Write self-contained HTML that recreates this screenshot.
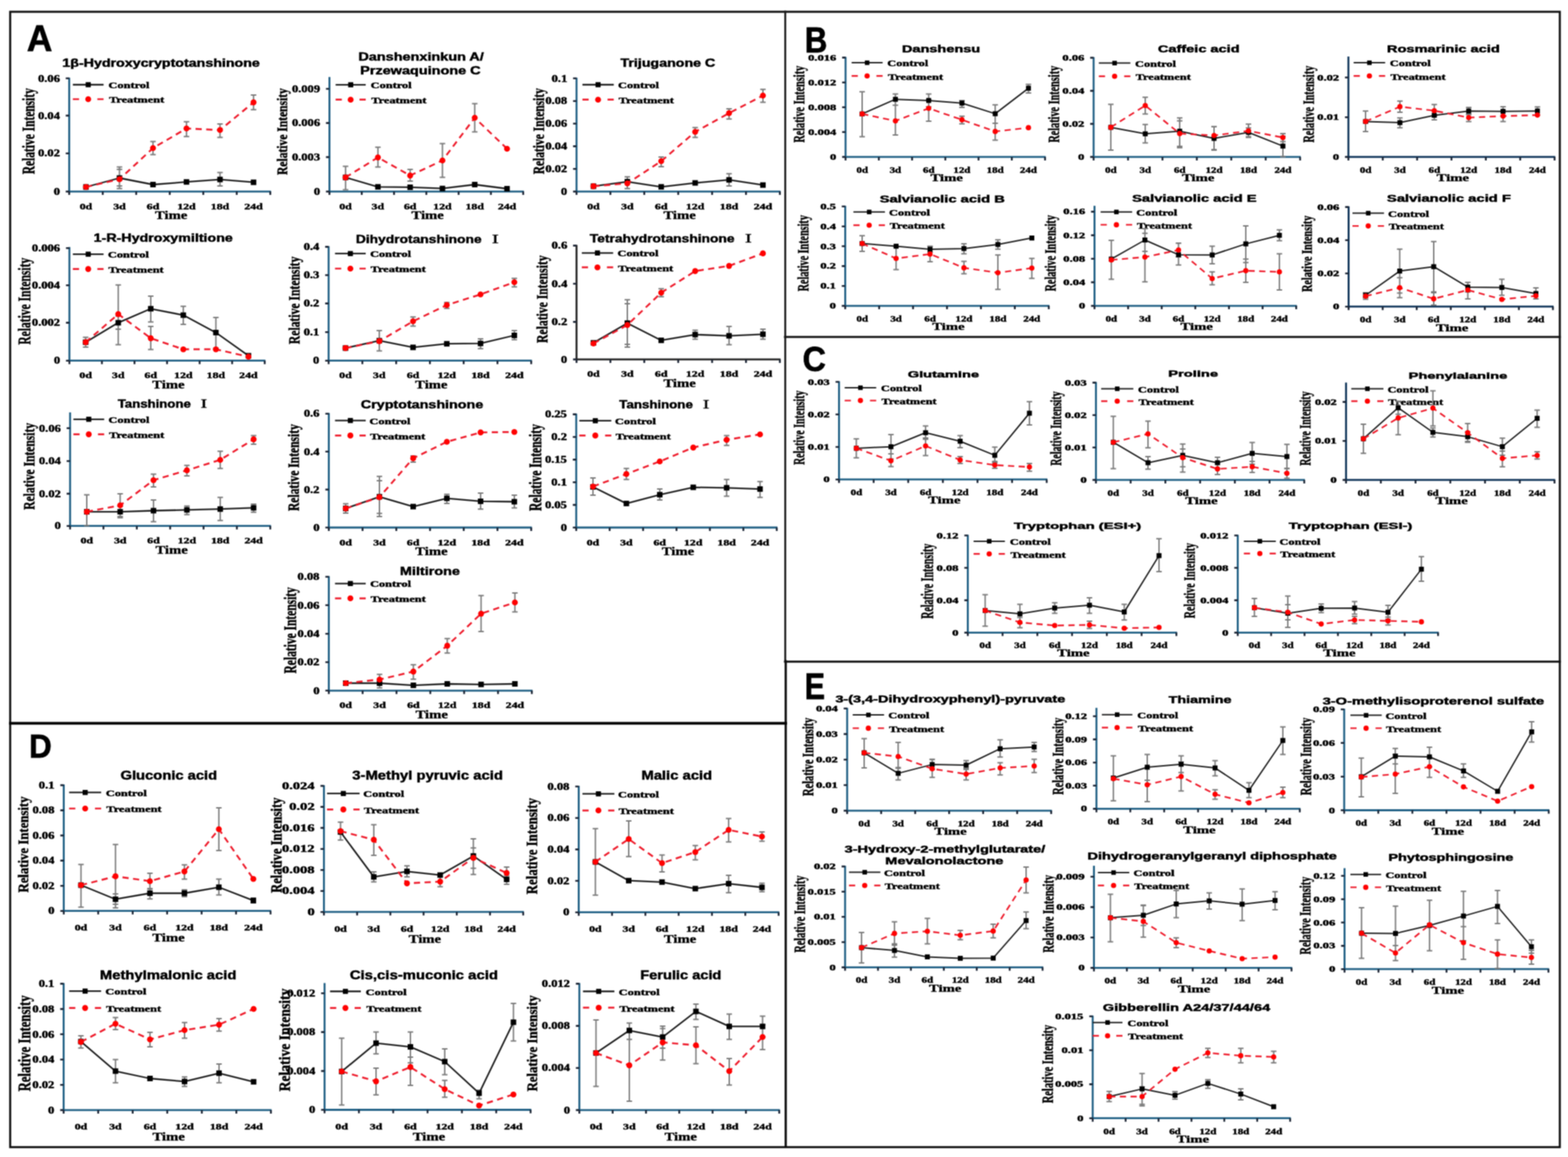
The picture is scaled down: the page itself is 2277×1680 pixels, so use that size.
<!DOCTYPE html>
<html><head><meta charset="utf-8"><title>Metabolite time courses</title><style>html,body{margin:0;padding:0;background:#fff;}svg{display:block;}</style></head><body>
<svg width="2277" height="1680" viewBox="0 0 2277 1680">
<defs><filter id="soft" x="0" y="0" width="1" height="1" color-interpolation-filters="sRGB"><feConvolveMatrix order="3" kernelMatrix="1 2 1 2 4 2 1 2 1" divisor="16" edgeMode="duplicate"/></filter></defs>
<g filter="url(#soft)">
<rect width="2277" height="1680" fill="#fff"/>
<g fill="none" stroke-linecap="square">
<rect x="14.8" y="17.1" width="2250.3" height="1648.6" stroke="#111" stroke-width="3"/>
<line x1="1140.3" y1="17" x2="1140.3" y2="960" stroke="#1a1a1a" stroke-width="2.8"/>
<line x1="1141" y1="960" x2="1141" y2="1665" stroke="#0a0a0a" stroke-width="3.2"/>
<line x1="15" y1="1050.3" x2="1141" y2="1050.3" stroke="#050505" stroke-width="4"/>
<line x1="1140" y1="489.3" x2="2265" y2="489.3" stroke="#151515" stroke-width="3"/>
<line x1="1140" y1="960.8" x2="2265" y2="960.8" stroke="#101010" stroke-width="3"/>
</g>
<text x="39.0" y="74.4" font-family='"Liberation Sans", sans-serif' font-size="54.2" font-weight="bold" fill="#000" text-anchor="start" textLength="37.0" lengthAdjust="spacingAndGlyphs" stroke="#000" stroke-width="0.90">A</text>
<text x="1168.8" y="75.9" font-family='"Liberation Sans", sans-serif' font-size="51.4" font-weight="bold" fill="#000" text-anchor="start" textLength="32.6" lengthAdjust="spacingAndGlyphs" stroke="#000" stroke-width="0.90">B</text>
<text x="1165.5" y="538.8" font-family='"Liberation Sans", sans-serif' font-size="50.4" font-weight="bold" fill="#000" text-anchor="start" textLength="33.9" lengthAdjust="spacingAndGlyphs" stroke="#000" stroke-width="0.90">C</text>
<text x="42.3" y="1100.4" font-family='"Liberation Sans", sans-serif' font-size="48.5" font-weight="bold" fill="#000" text-anchor="start" textLength="32.9" lengthAdjust="spacingAndGlyphs" stroke="#000" stroke-width="0.90">D</text>
<text x="1168.6" y="1015.4" font-family='"Liberation Sans", sans-serif' font-size="53.3" font-weight="bold" fill="#000" text-anchor="start" textLength="29.5" lengthAdjust="spacingAndGlyphs" stroke="#000" stroke-width="0.90">E</text>
<g stroke="#1f5f84" stroke-width="2.8" fill="none">
<line x1="100.5" y1="112.8" x2="100.5" y2="279.5"/>
<line x1="99.1" y1="278.1" x2="393.5" y2="278.1"/>
</g>
<path d="M95.5 113.8H100.5M95.5 167.9H100.5M95.5 222.7H100.5M95.5 278.1H100.5M100.5 278.1V283.1M149.2 278.1V283.1M197.8 278.1V283.1M246.5 278.1V283.1M295.2 278.1V283.1M343.8 278.1V283.1M392.5 278.1V283.1" stroke="#1a2333" stroke-width="2.6" fill="none"/>
<text x="55.2" y="118.5" font-family='"Liberation Serif", serif' font-size="14.0" font-weight="bold" fill="#000" text-anchor="start" textLength="31.8" lengthAdjust="spacingAndGlyphs" stroke="#000" stroke-width="0.55">0.06</text>
<text x="55.2" y="172.6" font-family='"Liberation Serif", serif' font-size="14.0" font-weight="bold" fill="#000" text-anchor="start" textLength="31.8" lengthAdjust="spacingAndGlyphs" stroke="#000" stroke-width="0.55">0.04</text>
<text x="55.2" y="227.4" font-family='"Liberation Serif", serif' font-size="14.0" font-weight="bold" fill="#000" text-anchor="start" textLength="31.8" lengthAdjust="spacingAndGlyphs" stroke="#000" stroke-width="0.55">0.02</text>
<text x="77.9" y="282.8" font-family='"Liberation Serif", serif' font-size="14.0" font-weight="bold" fill="#000" text-anchor="start" textLength="9.1" lengthAdjust="spacingAndGlyphs" stroke="#000" stroke-width="0.55">0</text>
<text x="115.7" y="303.6" font-family='"Liberation Serif", serif' font-size="12.5" font-weight="bold" fill="#000" text-anchor="start" textLength="18.2" lengthAdjust="spacingAndGlyphs" stroke="#000" stroke-width="0.50">0d</text>
<text x="164.4" y="303.6" font-family='"Liberation Serif", serif' font-size="12.5" font-weight="bold" fill="#000" text-anchor="start" textLength="18.2" lengthAdjust="spacingAndGlyphs" stroke="#000" stroke-width="0.50">3d</text>
<text x="213.1" y="303.6" font-family='"Liberation Serif", serif' font-size="12.5" font-weight="bold" fill="#000" text-anchor="start" textLength="18.2" lengthAdjust="spacingAndGlyphs" stroke="#000" stroke-width="0.50">6d</text>
<text x="257.4" y="303.6" font-family='"Liberation Serif", serif' font-size="12.5" font-weight="bold" fill="#000" text-anchor="start" textLength="26.8" lengthAdjust="spacingAndGlyphs" stroke="#000" stroke-width="0.50">12d</text>
<text x="306.1" y="303.6" font-family='"Liberation Serif", serif' font-size="12.5" font-weight="bold" fill="#000" text-anchor="start" textLength="26.8" lengthAdjust="spacingAndGlyphs" stroke="#000" stroke-width="0.50">18d</text>
<text x="354.7" y="303.6" font-family='"Liberation Serif", serif' font-size="12.5" font-weight="bold" fill="#000" text-anchor="start" textLength="26.8" lengthAdjust="spacingAndGlyphs" stroke="#000" stroke-width="0.50">24d</text>
<text x="225.0" y="318.1" font-family='"Liberation Serif", serif' font-size="17.0" font-weight="bold" fill="#000" text-anchor="start" textLength="47.0" lengthAdjust="spacingAndGlyphs" stroke="#000" stroke-width="0.45">Time</text>
<text transform="translate(49.8,253.0) rotate(-90)" font-family='"Liberation Serif", serif' font-size="24.3" font-weight="bold" stroke="#000" stroke-width="0.55" textLength="125.0" lengthAdjust="spacingAndGlyphs">Relative Intensity</text>
<text x="90.6" y="96.8" font-family='"Liberation Sans", sans-serif' font-size="16.0" font-weight="bold" fill="#000" text-anchor="start" textLength="286.7" lengthAdjust="spacingAndGlyphs" stroke="#000" stroke-width="0.60">1&#946;-Hydroxycryptotanshinone</text>
<line x1="105.8" y1="123.0" x2="150.4" y2="123.0" stroke="#1c1c1c" stroke-width="2.3"/>
<rect x="124.4" y="119.3" width="7.4" height="7.4" fill="#000"/>
<path d="M105.8 144.0h9.0M141.4 144.0h9.0" stroke="#ee1c2c" stroke-width="2.7" fill="none"/>
<circle cx="128.1" cy="144.0" r="4.3" fill="#ff0000"/>
<text x="157.5" y="128.0" font-family='"Liberation Serif", serif' font-size="13.5" font-weight="bold" fill="#000" text-anchor="start" textLength="59.5" lengthAdjust="spacingAndGlyphs" stroke="#000" stroke-width="0.55">Control</text>
<text x="158.4" y="149.3" font-family='"Liberation Serif", serif' font-size="13.5" font-weight="bold" fill="#000" text-anchor="start" textLength="80.0" lengthAdjust="spacingAndGlyphs" stroke="#000" stroke-width="0.55">Treatment</text>
<path d="M173.5 246.0V270.0M169.5 246.0h8M169.5 270.0h8M319.5 250.4V270.1M315.5 250.4h8M315.5 270.1h8M173.5 242.4V273.7M169.5 242.4h8M169.5 273.7h8M222.2 205.4V224.5M218.2 205.4h8M218.2 224.5h8M270.8 176.7V198.3M266.8 176.7h8M266.8 198.3h8M319.5 179.9V199.5M315.5 179.9h8M315.5 199.5h8M368.2 137.9V159.3M364.2 137.9h8M364.2 159.3h8" stroke="#7a7a7a" stroke-width="2" fill="none"/>
<polyline points="124.8,271.5 173.5,258.5 222.2,268.0 270.8,264.2 319.5,260.6 368.2,264.7" fill="none" stroke="#1c1c1c" stroke-width="2.3" stroke-linejoin="round"/>
<rect x="120.8" y="267.5" width="8.0" height="8.0" fill="#000"/>
<rect x="169.5" y="254.5" width="8.0" height="8.0" fill="#000"/>
<rect x="218.2" y="264.0" width="8.0" height="8.0" fill="#000"/>
<rect x="266.8" y="260.2" width="8.0" height="8.0" fill="#000"/>
<rect x="315.5" y="256.6" width="8.0" height="8.0" fill="#000"/>
<rect x="364.2" y="260.7" width="8.0" height="8.0" fill="#000"/>
<polyline points="124.8,271.5 173.5,260.3 222.2,215.0 270.8,186.5 319.5,188.8 368.2,148.6" fill="none" stroke="#ee1c2c" stroke-width="2.7" stroke-dasharray="9 6.5" stroke-linejoin="round"/>
<circle cx="124.8" cy="271.5" r="4.3" fill="#ff0000"/>
<circle cx="173.5" cy="260.3" r="4.3" fill="#ff0000"/>
<circle cx="222.2" cy="215.0" r="4.3" fill="#ff0000"/>
<circle cx="270.8" cy="186.5" r="4.3" fill="#ff0000"/>
<circle cx="319.5" cy="188.8" r="4.3" fill="#ff0000"/>
<circle cx="368.2" cy="148.6" r="4.3" fill="#ff0000"/>
<g stroke="#1f5f84" stroke-width="2.8" fill="none">
<line x1="478.4" y1="111.8" x2="478.4" y2="279.5"/>
<line x1="477.0" y1="278.1" x2="760.8" y2="278.1"/>
</g>
<path d="M473.4 129.0H478.4M473.4 178.6H478.4M473.4 228.1H478.4M473.4 278.1H478.4M478.4 278.1V283.1M525.3 278.1V283.1M572.2 278.1V283.1M619.1 278.1V283.1M666.0 278.1V283.1M712.9 278.1V283.1M759.8 278.1V283.1" stroke="#1a2333" stroke-width="2.6" fill="none"/>
<text x="423.9" y="133.7" font-family='"Liberation Serif", serif' font-size="14.0" font-weight="bold" fill="#000" text-anchor="start" textLength="40.9" lengthAdjust="spacingAndGlyphs" stroke="#000" stroke-width="0.55">0.009</text>
<text x="423.9" y="183.3" font-family='"Liberation Serif", serif' font-size="14.0" font-weight="bold" fill="#000" text-anchor="start" textLength="40.9" lengthAdjust="spacingAndGlyphs" stroke="#000" stroke-width="0.55">0.006</text>
<text x="423.9" y="232.8" font-family='"Liberation Serif", serif' font-size="14.0" font-weight="bold" fill="#000" text-anchor="start" textLength="40.9" lengthAdjust="spacingAndGlyphs" stroke="#000" stroke-width="0.55">0.003</text>
<text x="455.8" y="282.8" font-family='"Liberation Serif", serif' font-size="14.0" font-weight="bold" fill="#000" text-anchor="start" textLength="9.1" lengthAdjust="spacingAndGlyphs" stroke="#000" stroke-width="0.55">0</text>
<text x="492.7" y="303.6" font-family='"Liberation Serif", serif' font-size="12.5" font-weight="bold" fill="#000" text-anchor="start" textLength="18.2" lengthAdjust="spacingAndGlyphs" stroke="#000" stroke-width="0.50">0d</text>
<text x="539.6" y="303.6" font-family='"Liberation Serif", serif' font-size="12.5" font-weight="bold" fill="#000" text-anchor="start" textLength="18.2" lengthAdjust="spacingAndGlyphs" stroke="#000" stroke-width="0.50">3d</text>
<text x="586.5" y="303.6" font-family='"Liberation Serif", serif' font-size="12.5" font-weight="bold" fill="#000" text-anchor="start" textLength="18.2" lengthAdjust="spacingAndGlyphs" stroke="#000" stroke-width="0.50">6d</text>
<text x="629.1" y="303.6" font-family='"Liberation Serif", serif' font-size="12.5" font-weight="bold" fill="#000" text-anchor="start" textLength="26.8" lengthAdjust="spacingAndGlyphs" stroke="#000" stroke-width="0.50">12d</text>
<text x="676.0" y="303.6" font-family='"Liberation Serif", serif' font-size="12.5" font-weight="bold" fill="#000" text-anchor="start" textLength="26.8" lengthAdjust="spacingAndGlyphs" stroke="#000" stroke-width="0.50">18d</text>
<text x="722.9" y="303.6" font-family='"Liberation Serif", serif' font-size="12.5" font-weight="bold" fill="#000" text-anchor="start" textLength="26.8" lengthAdjust="spacingAndGlyphs" stroke="#000" stroke-width="0.50">24d</text>
<text x="597.6" y="318.1" font-family='"Liberation Serif", serif' font-size="17.0" font-weight="bold" fill="#000" text-anchor="start" textLength="47.0" lengthAdjust="spacingAndGlyphs" stroke="#000" stroke-width="0.45">Time</text>
<text transform="translate(416.7,254.0) rotate(-90)" font-family='"Liberation Serif", serif' font-size="20.9" font-weight="bold" stroke="#000" stroke-width="0.55" textLength="126.0" lengthAdjust="spacingAndGlyphs">Relative Intensity</text>
<text x="520.4" y="87.9" font-family='"Liberation Sans", sans-serif' font-size="16.0" font-weight="bold" fill="#000" text-anchor="start" textLength="182.2" lengthAdjust="spacingAndGlyphs" stroke="#000" stroke-width="0.60">Danshenxinkun A/</text>
<text x="523.0" y="107.9" font-family='"Liberation Sans", sans-serif' font-size="16.0" font-weight="bold" fill="#000" text-anchor="start" textLength="175.0" lengthAdjust="spacingAndGlyphs" stroke="#000" stroke-width="0.60">Przewaquinone C</text>
<line x1="487.4" y1="123.1" x2="531.1" y2="123.1" stroke="#1c1c1c" stroke-width="2.3"/>
<rect x="505.6" y="119.4" width="7.4" height="7.4" fill="#000"/>
<path d="M487.4 144.7h9.0M522.1 144.7h9.0" stroke="#ee1c2c" stroke-width="2.7" fill="none"/>
<circle cx="509.2" cy="144.7" r="4.3" fill="#ff0000"/>
<text x="538.3" y="128.1" font-family='"Liberation Serif", serif' font-size="13.5" font-weight="bold" fill="#000" text-anchor="start" textLength="59.5" lengthAdjust="spacingAndGlyphs" stroke="#000" stroke-width="0.55">Control</text>
<text x="539.2" y="150.0" font-family='"Liberation Serif", serif' font-size="13.5" font-weight="bold" fill="#000" text-anchor="start" textLength="80.0" lengthAdjust="spacingAndGlyphs" stroke="#000" stroke-width="0.55">Treatment</text>
<path d="M501.8 241.5V275.5M497.8 241.5h8M497.8 275.5h8M548.8 213.8V242.4M544.8 213.8h8M544.8 242.4h8M595.6 246.0V263.0M591.6 246.0h8M591.6 263.0h8M642.5 208.5V257.6M638.5 208.5h8M638.5 257.6h8M689.4 150.4V191.5M685.4 150.4h8M685.4 191.5h8" stroke="#7a7a7a" stroke-width="2" fill="none"/>
<polyline points="501.8,257.6 548.8,271.3 595.6,271.9 642.5,273.7 689.4,268.0 736.3,274.0" fill="none" stroke="#1c1c1c" stroke-width="2.3" stroke-linejoin="round"/>
<rect x="497.8" y="253.6" width="8.0" height="8.0" fill="#000"/>
<rect x="544.8" y="267.3" width="8.0" height="8.0" fill="#000"/>
<rect x="591.6" y="267.9" width="8.0" height="8.0" fill="#000"/>
<rect x="638.5" y="269.7" width="8.0" height="8.0" fill="#000"/>
<rect x="685.4" y="264.0" width="8.0" height="8.0" fill="#000"/>
<rect x="732.3" y="270.0" width="8.0" height="8.0" fill="#000"/>
<polyline points="501.8,257.6 548.8,228.6 595.6,254.9 642.5,233.0 689.4,171.0 736.3,216.0" fill="none" stroke="#ee1c2c" stroke-width="2.7" stroke-dasharray="9 6.5" stroke-linejoin="round"/>
<circle cx="501.8" cy="257.6" r="4.3" fill="#ff0000"/>
<circle cx="548.8" cy="228.6" r="4.3" fill="#ff0000"/>
<circle cx="595.6" cy="254.9" r="4.3" fill="#ff0000"/>
<circle cx="642.5" cy="233.0" r="4.3" fill="#ff0000"/>
<circle cx="689.4" cy="171.0" r="4.3" fill="#ff0000"/>
<circle cx="736.3" cy="216.0" r="4.3" fill="#ff0000"/>
<g stroke="#1f5f84" stroke-width="2.8" fill="none">
<line x1="837.2" y1="112.8" x2="837.2" y2="279.5"/>
<line x1="835.8" y1="278.1" x2="1133.5" y2="278.1"/>
</g>
<path d="M832.2 113.8H837.2M832.2 146.7H837.2M832.2 179.5H837.2M832.2 212.4H837.2M832.2 245.2H837.2M832.2 278.1H837.2M837.2 278.1V283.1M886.4 278.1V283.1M935.6 278.1V283.1M984.9 278.1V283.1M1034.1 278.1V283.1M1083.3 278.1V283.1M1132.5 278.1V283.1" stroke="#1a2333" stroke-width="2.6" fill="none"/>
<text x="801.0" y="118.5" font-family='"Liberation Serif", serif' font-size="14.0" font-weight="bold" fill="#000" text-anchor="start" textLength="22.8" lengthAdjust="spacingAndGlyphs" stroke="#000" stroke-width="0.55">0.1</text>
<text x="791.9" y="151.3" font-family='"Liberation Serif", serif' font-size="14.0" font-weight="bold" fill="#000" text-anchor="start" textLength="31.8" lengthAdjust="spacingAndGlyphs" stroke="#000" stroke-width="0.55">0.08</text>
<text x="791.9" y="184.2" font-family='"Liberation Serif", serif' font-size="14.0" font-weight="bold" fill="#000" text-anchor="start" textLength="31.8" lengthAdjust="spacingAndGlyphs" stroke="#000" stroke-width="0.55">0.06</text>
<text x="791.9" y="217.1" font-family='"Liberation Serif", serif' font-size="14.0" font-weight="bold" fill="#000" text-anchor="start" textLength="31.8" lengthAdjust="spacingAndGlyphs" stroke="#000" stroke-width="0.55">0.04</text>
<text x="791.9" y="249.9" font-family='"Liberation Serif", serif' font-size="14.0" font-weight="bold" fill="#000" text-anchor="start" textLength="31.8" lengthAdjust="spacingAndGlyphs" stroke="#000" stroke-width="0.55">0.02</text>
<text x="814.6" y="282.8" font-family='"Liberation Serif", serif' font-size="14.0" font-weight="bold" fill="#000" text-anchor="start" textLength="9.1" lengthAdjust="spacingAndGlyphs" stroke="#000" stroke-width="0.55">0</text>
<text x="852.7" y="303.6" font-family='"Liberation Serif", serif' font-size="12.5" font-weight="bold" fill="#000" text-anchor="start" textLength="18.2" lengthAdjust="spacingAndGlyphs" stroke="#000" stroke-width="0.50">0d</text>
<text x="901.9" y="303.6" font-family='"Liberation Serif", serif' font-size="12.5" font-weight="bold" fill="#000" text-anchor="start" textLength="18.2" lengthAdjust="spacingAndGlyphs" stroke="#000" stroke-width="0.50">3d</text>
<text x="951.1" y="303.6" font-family='"Liberation Serif", serif' font-size="12.5" font-weight="bold" fill="#000" text-anchor="start" textLength="18.2" lengthAdjust="spacingAndGlyphs" stroke="#000" stroke-width="0.50">6d</text>
<text x="996.0" y="303.6" font-family='"Liberation Serif", serif' font-size="12.5" font-weight="bold" fill="#000" text-anchor="start" textLength="26.8" lengthAdjust="spacingAndGlyphs" stroke="#000" stroke-width="0.50">12d</text>
<text x="1045.3" y="303.6" font-family='"Liberation Serif", serif' font-size="12.5" font-weight="bold" fill="#000" text-anchor="start" textLength="26.8" lengthAdjust="spacingAndGlyphs" stroke="#000" stroke-width="0.50">18d</text>
<text x="1094.5" y="303.6" font-family='"Liberation Serif", serif' font-size="12.5" font-weight="bold" fill="#000" text-anchor="start" textLength="26.8" lengthAdjust="spacingAndGlyphs" stroke="#000" stroke-width="0.50">24d</text>
<text x="963.4" y="318.1" font-family='"Liberation Serif", serif' font-size="17.0" font-weight="bold" fill="#000" text-anchor="start" textLength="47.0" lengthAdjust="spacingAndGlyphs" stroke="#000" stroke-width="0.45">Time</text>
<text transform="translate(789.9,253.0) rotate(-90)" font-family='"Liberation Serif", serif' font-size="23.4" font-weight="bold" stroke="#000" stroke-width="0.55" textLength="125.0" lengthAdjust="spacingAndGlyphs">Relative Intensity</text>
<text x="901.0" y="97.2" font-family='"Liberation Sans", sans-serif' font-size="16.0" font-weight="bold" fill="#000" text-anchor="start" textLength="137.7" lengthAdjust="spacingAndGlyphs" stroke="#000" stroke-width="0.60">Trijuganone C</text>
<line x1="845.8" y1="123.0" x2="891.3" y2="123.0" stroke="#1c1c1c" stroke-width="2.3"/>
<rect x="864.8" y="119.3" width="7.4" height="7.4" fill="#000"/>
<path d="M845.8 144.7h9.0M882.3 144.7h9.0" stroke="#ee1c2c" stroke-width="2.7" fill="none"/>
<circle cx="868.5" cy="144.7" r="4.3" fill="#ff0000"/>
<text x="897.6" y="128.0" font-family='"Liberation Serif", serif' font-size="13.5" font-weight="bold" fill="#000" text-anchor="start" textLength="59.5" lengthAdjust="spacingAndGlyphs" stroke="#000" stroke-width="0.55">Control</text>
<text x="898.5" y="150.0" font-family='"Liberation Serif", serif' font-size="13.5" font-weight="bold" fill="#000" text-anchor="start" textLength="80.0" lengthAdjust="spacingAndGlyphs" stroke="#000" stroke-width="0.55">Treatment</text>
<path d="M911.0 256.7V273.7M907.0 256.7h8M907.0 273.7h8M1058.7 252.2V270.1M1054.7 252.2h8M1054.7 270.1h8M960.2 228.1V241.9M956.2 228.1h8M956.2 241.9h8M1009.5 185.2V199.5M1005.5 185.2h8M1005.5 199.5h8M1058.7 157.9V172.7M1054.7 157.9h8M1054.7 172.7h8M1107.9 129.8V148.6M1103.9 129.8h8M1103.9 148.6h8" stroke="#7a7a7a" stroke-width="2" fill="none"/>
<polyline points="861.8,270.4 911.0,263.8 960.2,271.3 1009.5,265.6 1058.7,261.2 1107.9,268.7" fill="none" stroke="#1c1c1c" stroke-width="2.3" stroke-linejoin="round"/>
<rect x="857.8" y="266.4" width="8.0" height="8.0" fill="#000"/>
<rect x="907.0" y="259.8" width="8.0" height="8.0" fill="#000"/>
<rect x="956.2" y="267.3" width="8.0" height="8.0" fill="#000"/>
<rect x="1005.5" y="261.6" width="8.0" height="8.0" fill="#000"/>
<rect x="1054.7" y="257.2" width="8.0" height="8.0" fill="#000"/>
<rect x="1103.9" y="264.7" width="8.0" height="8.0" fill="#000"/>
<polyline points="861.8,270.4 911.0,266.2 960.2,234.0 1009.5,191.5 1058.7,164.3 1107.9,138.8" fill="none" stroke="#ee1c2c" stroke-width="2.7" stroke-dasharray="9 6.5" stroke-linejoin="round"/>
<circle cx="861.8" cy="270.4" r="4.3" fill="#ff0000"/>
<circle cx="911.0" cy="266.2" r="4.3" fill="#ff0000"/>
<circle cx="960.2" cy="234.0" r="4.3" fill="#ff0000"/>
<circle cx="1009.5" cy="191.5" r="4.3" fill="#ff0000"/>
<circle cx="1058.7" cy="164.3" r="4.3" fill="#ff0000"/>
<circle cx="1107.9" cy="138.8" r="4.3" fill="#ff0000"/>
<g stroke="#1f5f84" stroke-width="2.8" fill="none">
<line x1="100.8" y1="358.7" x2="100.8" y2="525.1"/>
<line x1="99.3" y1="523.7" x2="385.4" y2="523.7"/>
</g>
<path d="M95.8 360.2H100.8M95.8 414.3H100.8M95.8 468.6H100.8M95.8 523.7H100.8M100.8 523.7V528.7M148.0 523.7V528.7M195.3 523.7V528.7M242.6 523.7V528.7M289.9 523.7V528.7M337.1 523.7V528.7M384.4 523.7V528.7" stroke="#1a2333" stroke-width="2.6" fill="none"/>
<text x="46.3" y="364.9" font-family='"Liberation Serif", serif' font-size="14.0" font-weight="bold" fill="#000" text-anchor="start" textLength="40.9" lengthAdjust="spacingAndGlyphs" stroke="#000" stroke-width="0.55">0.006</text>
<text x="46.3" y="419.0" font-family='"Liberation Serif", serif' font-size="14.0" font-weight="bold" fill="#000" text-anchor="start" textLength="40.9" lengthAdjust="spacingAndGlyphs" stroke="#000" stroke-width="0.55">0.004</text>
<text x="46.3" y="473.3" font-family='"Liberation Serif", serif' font-size="14.0" font-weight="bold" fill="#000" text-anchor="start" textLength="40.9" lengthAdjust="spacingAndGlyphs" stroke="#000" stroke-width="0.55">0.002</text>
<text x="78.2" y="528.4" font-family='"Liberation Serif", serif' font-size="14.0" font-weight="bold" fill="#000" text-anchor="start" textLength="9.1" lengthAdjust="spacingAndGlyphs" stroke="#000" stroke-width="0.55">0</text>
<text x="115.3" y="549.2" font-family='"Liberation Serif", serif' font-size="12.5" font-weight="bold" fill="#000" text-anchor="start" textLength="18.2" lengthAdjust="spacingAndGlyphs" stroke="#000" stroke-width="0.50">0d</text>
<text x="162.6" y="549.2" font-family='"Liberation Serif", serif' font-size="12.5" font-weight="bold" fill="#000" text-anchor="start" textLength="18.2" lengthAdjust="spacingAndGlyphs" stroke="#000" stroke-width="0.50">3d</text>
<text x="209.8" y="549.2" font-family='"Liberation Serif", serif' font-size="12.5" font-weight="bold" fill="#000" text-anchor="start" textLength="18.2" lengthAdjust="spacingAndGlyphs" stroke="#000" stroke-width="0.50">6d</text>
<text x="252.8" y="549.2" font-family='"Liberation Serif", serif' font-size="12.5" font-weight="bold" fill="#000" text-anchor="start" textLength="26.8" lengthAdjust="spacingAndGlyphs" stroke="#000" stroke-width="0.50">12d</text>
<text x="300.1" y="549.2" font-family='"Liberation Serif", serif' font-size="12.5" font-weight="bold" fill="#000" text-anchor="start" textLength="26.8" lengthAdjust="spacingAndGlyphs" stroke="#000" stroke-width="0.50">18d</text>
<text x="347.3" y="549.2" font-family='"Liberation Serif", serif' font-size="12.5" font-weight="bold" fill="#000" text-anchor="start" textLength="26.8" lengthAdjust="spacingAndGlyphs" stroke="#000" stroke-width="0.50">24d</text>
<text x="221.1" y="563.7" font-family='"Liberation Serif", serif' font-size="17.0" font-weight="bold" fill="#000" text-anchor="start" textLength="47.0" lengthAdjust="spacingAndGlyphs" stroke="#000" stroke-width="0.45">Time</text>
<text transform="translate(43.5,500.5) rotate(-90)" font-family='"Liberation Serif", serif' font-size="25.7" font-weight="bold" stroke="#000" stroke-width="0.55" textLength="126.1" lengthAdjust="spacingAndGlyphs">Relative Intensity</text>
<text x="136.1" y="351.3" font-family='"Liberation Sans", sans-serif' font-size="16.0" font-weight="bold" fill="#000" text-anchor="start" textLength="201.9" lengthAdjust="spacingAndGlyphs" stroke="#000" stroke-width="0.60">1-R-Hydroxymiltione</text>
<line x1="105.8" y1="369.1" x2="150.4" y2="369.1" stroke="#1c1c1c" stroke-width="2.3"/>
<rect x="124.4" y="365.4" width="7.4" height="7.4" fill="#000"/>
<path d="M105.8 390.6h9.0M141.4 390.6h9.0" stroke="#ee1c2c" stroke-width="2.7" fill="none"/>
<circle cx="128.1" cy="390.6" r="4.3" fill="#ff0000"/>
<text x="156.7" y="374.1" font-family='"Liberation Serif", serif' font-size="13.5" font-weight="bold" fill="#000" text-anchor="start" textLength="59.5" lengthAdjust="spacingAndGlyphs" stroke="#000" stroke-width="0.55">Control</text>
<text x="157.6" y="395.9" font-family='"Liberation Serif", serif' font-size="13.5" font-weight="bold" fill="#000" text-anchor="start" textLength="80.0" lengthAdjust="spacingAndGlyphs" stroke="#000" stroke-width="0.55">Treatment</text>
<path d="M124.4 489.7V504.0M120.4 489.7h8M120.4 504.0h8M171.7 459.0V478.0M167.7 459.0h8M167.7 478.0h8M218.9 429.9V467.4M214.9 429.9h8M214.9 467.4h8M266.2 444.7V471.0M262.2 444.7h8M262.2 471.0h8M313.5 461.1V505.8M309.5 461.1h8M309.5 505.8h8M171.7 413.8V500.4M167.7 413.8h8M167.7 500.4h8M218.9 474.0V507.6M214.9 474.0h8M214.9 507.6h8" stroke="#7a7a7a" stroke-width="2" fill="none"/>
<polyline points="124.4,496.9 171.7,468.6 218.9,448.3 266.2,457.6 313.5,482.9 360.8,516.5" fill="none" stroke="#1c1c1c" stroke-width="2.3" stroke-linejoin="round"/>
<rect x="120.4" y="492.9" width="8.0" height="8.0" fill="#000"/>
<rect x="167.7" y="464.6" width="8.0" height="8.0" fill="#000"/>
<rect x="214.9" y="444.3" width="8.0" height="8.0" fill="#000"/>
<rect x="262.2" y="453.6" width="8.0" height="8.0" fill="#000"/>
<rect x="309.5" y="478.9" width="8.0" height="8.0" fill="#000"/>
<rect x="356.8" y="512.5" width="8.0" height="8.0" fill="#000"/>
<polyline points="124.4,496.9 171.7,456.1 218.9,491.1 266.2,507.2 313.5,507.2 360.8,517.9" fill="none" stroke="#ee1c2c" stroke-width="2.7" stroke-dasharray="9 6.5" stroke-linejoin="round"/>
<circle cx="124.4" cy="496.9" r="4.3" fill="#ff0000"/>
<circle cx="171.7" cy="456.1" r="4.3" fill="#ff0000"/>
<circle cx="218.9" cy="491.1" r="4.3" fill="#ff0000"/>
<circle cx="266.2" cy="507.2" r="4.3" fill="#ff0000"/>
<circle cx="313.5" cy="507.2" r="4.3" fill="#ff0000"/>
<circle cx="360.8" cy="517.9" r="4.3" fill="#ff0000"/>
<g stroke="#1f5f84" stroke-width="2.8" fill="none">
<line x1="477.2" y1="357.4" x2="477.2" y2="525.1"/>
<line x1="475.8" y1="523.7" x2="772.4" y2="523.7"/>
</g>
<path d="M472.2 358.4H477.2M472.2 399.5H477.2M472.2 440.6H477.2M472.2 482.2H477.2M472.2 523.7H477.2M477.2 523.7V528.7M526.2 523.7V528.7M575.3 523.7V528.7M624.3 523.7V528.7M673.3 523.7V528.7M722.4 523.7V528.7M771.4 523.7V528.7" stroke="#1a2333" stroke-width="2.6" fill="none"/>
<text x="440.9" y="363.1" font-family='"Liberation Serif", serif' font-size="14.0" font-weight="bold" fill="#000" text-anchor="start" textLength="22.8" lengthAdjust="spacingAndGlyphs" stroke="#000" stroke-width="0.55">0.4</text>
<text x="440.9" y="404.2" font-family='"Liberation Serif", serif' font-size="14.0" font-weight="bold" fill="#000" text-anchor="start" textLength="22.8" lengthAdjust="spacingAndGlyphs" stroke="#000" stroke-width="0.55">0.3</text>
<text x="440.9" y="445.3" font-family='"Liberation Serif", serif' font-size="14.0" font-weight="bold" fill="#000" text-anchor="start" textLength="22.8" lengthAdjust="spacingAndGlyphs" stroke="#000" stroke-width="0.55">0.2</text>
<text x="440.9" y="486.9" font-family='"Liberation Serif", serif' font-size="14.0" font-weight="bold" fill="#000" text-anchor="start" textLength="22.8" lengthAdjust="spacingAndGlyphs" stroke="#000" stroke-width="0.55">0.1</text>
<text x="454.6" y="528.4" font-family='"Liberation Serif", serif' font-size="14.0" font-weight="bold" fill="#000" text-anchor="start" textLength="9.1" lengthAdjust="spacingAndGlyphs" stroke="#000" stroke-width="0.55">0</text>
<text x="492.6" y="549.2" font-family='"Liberation Serif", serif' font-size="12.5" font-weight="bold" fill="#000" text-anchor="start" textLength="18.2" lengthAdjust="spacingAndGlyphs" stroke="#000" stroke-width="0.50">0d</text>
<text x="541.6" y="549.2" font-family='"Liberation Serif", serif' font-size="12.5" font-weight="bold" fill="#000" text-anchor="start" textLength="18.2" lengthAdjust="spacingAndGlyphs" stroke="#000" stroke-width="0.50">3d</text>
<text x="590.7" y="549.2" font-family='"Liberation Serif", serif' font-size="12.5" font-weight="bold" fill="#000" text-anchor="start" textLength="18.2" lengthAdjust="spacingAndGlyphs" stroke="#000" stroke-width="0.50">6d</text>
<text x="635.4" y="549.2" font-family='"Liberation Serif", serif' font-size="12.5" font-weight="bold" fill="#000" text-anchor="start" textLength="26.8" lengthAdjust="spacingAndGlyphs" stroke="#000" stroke-width="0.50">12d</text>
<text x="684.4" y="549.2" font-family='"Liberation Serif", serif' font-size="12.5" font-weight="bold" fill="#000" text-anchor="start" textLength="26.8" lengthAdjust="spacingAndGlyphs" stroke="#000" stroke-width="0.50">18d</text>
<text x="733.5" y="549.2" font-family='"Liberation Serif", serif' font-size="12.5" font-weight="bold" fill="#000" text-anchor="start" textLength="26.8" lengthAdjust="spacingAndGlyphs" stroke="#000" stroke-width="0.50">24d</text>
<text x="602.8" y="563.7" font-family='"Liberation Serif", serif' font-size="17.0" font-weight="bold" fill="#000" text-anchor="start" textLength="47.0" lengthAdjust="spacingAndGlyphs" stroke="#000" stroke-width="0.45">Time</text>
<text transform="translate(435.2,499.7) rotate(-90)" font-family='"Liberation Serif", serif' font-size="23.1" font-weight="bold" stroke="#000" stroke-width="0.55" textLength="127.1" lengthAdjust="spacingAndGlyphs">Relative Intensity</text>
<text x="516.8" y="353.0" font-family='"Liberation Sans", sans-serif' font-size="16.0" font-weight="bold" fill="#000" text-anchor="start" textLength="212.6" lengthAdjust="spacingAndGlyphs" stroke="#000" stroke-width="0.60">Dihydrotanshinone<tspan font-family='"Noto Serif CJK SC", serif' font-weight="bold">&#160;&#160;&#8544;</tspan></text>
<line x1="486.5" y1="368.2" x2="531.1" y2="368.2" stroke="#1c1c1c" stroke-width="2.3"/>
<rect x="505.1" y="364.5" width="7.4" height="7.4" fill="#000"/>
<path d="M486.5 390.0h9.0M522.1 390.0h9.0" stroke="#ee1c2c" stroke-width="2.7" fill="none"/>
<circle cx="508.8" cy="390.0" r="4.3" fill="#ff0000"/>
<text x="537.4" y="373.2" font-family='"Liberation Serif", serif' font-size="13.5" font-weight="bold" fill="#000" text-anchor="start" textLength="59.5" lengthAdjust="spacingAndGlyphs" stroke="#000" stroke-width="0.55">Control</text>
<text x="538.3" y="395.3" font-family='"Liberation Serif", serif' font-size="13.5" font-weight="bold" fill="#000" text-anchor="start" textLength="80.0" lengthAdjust="spacingAndGlyphs" stroke="#000" stroke-width="0.55">Treatment</text>
<path d="M550.8 479.9V509.4M546.8 479.9h8M546.8 509.4h8M697.8 491.9V506.2M693.8 491.9h8M693.8 506.2h8M746.9 479.9V493.3M742.9 479.9h8M742.9 493.3h8M599.8 460.2V473.6M595.8 460.2h8M595.8 473.6h8M648.8 439.3V447.7M644.8 439.3h8M644.8 447.7h8M746.9 404.3V416.5M742.9 404.3h8M742.9 416.5h8" stroke="#7a7a7a" stroke-width="2" fill="none"/>
<polyline points="501.7,505.4 550.8,494.7 599.8,504.4 648.8,499.2 697.8,498.7 746.9,487.0" fill="none" stroke="#1c1c1c" stroke-width="2.3" stroke-linejoin="round"/>
<rect x="497.7" y="501.4" width="8.0" height="8.0" fill="#000"/>
<rect x="546.8" y="490.7" width="8.0" height="8.0" fill="#000"/>
<rect x="595.8" y="500.4" width="8.0" height="8.0" fill="#000"/>
<rect x="644.8" y="495.2" width="8.0" height="8.0" fill="#000"/>
<rect x="693.8" y="494.7" width="8.0" height="8.0" fill="#000"/>
<rect x="742.9" y="483.0" width="8.0" height="8.0" fill="#000"/>
<polyline points="501.7,505.4 550.8,495.4 599.8,466.5 648.8,442.9 697.8,427.5 746.9,409.7" fill="none" stroke="#ee1c2c" stroke-width="2.7" stroke-dasharray="9 6.5" stroke-linejoin="round"/>
<circle cx="501.7" cy="505.4" r="4.3" fill="#ff0000"/>
<circle cx="550.8" cy="495.4" r="4.3" fill="#ff0000"/>
<circle cx="599.8" cy="466.5" r="4.3" fill="#ff0000"/>
<circle cx="648.8" cy="442.9" r="4.3" fill="#ff0000"/>
<circle cx="697.8" cy="427.5" r="4.3" fill="#ff0000"/>
<circle cx="746.9" cy="409.7" r="4.3" fill="#ff0000"/>
<g stroke="#222222" stroke-width="2.8" fill="none">
<line x1="837.2" y1="355.6" x2="837.2" y2="523.3"/>
<line x1="835.8" y1="521.9" x2="1133.5" y2="521.9"/>
</g>
<path d="M832.2 356.6H837.2M832.2 412.0H837.2M832.2 467.4H837.2M832.2 521.9H837.2M837.2 521.9V526.9M886.4 521.9V526.9M935.6 521.9V526.9M984.9 521.9V526.9M1034.1 521.9V526.9M1083.3 521.9V526.9M1132.5 521.9V526.9" stroke="#1a2333" stroke-width="2.6" fill="none"/>
<text x="801.0" y="361.3" font-family='"Liberation Serif", serif' font-size="14.0" font-weight="bold" fill="#000" text-anchor="start" textLength="22.8" lengthAdjust="spacingAndGlyphs" stroke="#000" stroke-width="0.55">0.6</text>
<text x="801.0" y="416.7" font-family='"Liberation Serif", serif' font-size="14.0" font-weight="bold" fill="#000" text-anchor="start" textLength="22.8" lengthAdjust="spacingAndGlyphs" stroke="#000" stroke-width="0.55">0.4</text>
<text x="801.0" y="472.1" font-family='"Liberation Serif", serif' font-size="14.0" font-weight="bold" fill="#000" text-anchor="start" textLength="22.8" lengthAdjust="spacingAndGlyphs" stroke="#000" stroke-width="0.55">0.2</text>
<text x="814.6" y="526.6" font-family='"Liberation Serif", serif' font-size="14.0" font-weight="bold" fill="#000" text-anchor="start" textLength="9.1" lengthAdjust="spacingAndGlyphs" stroke="#000" stroke-width="0.55">0</text>
<text x="852.7" y="547.4" font-family='"Liberation Serif", serif' font-size="12.5" font-weight="bold" fill="#000" text-anchor="start" textLength="18.2" lengthAdjust="spacingAndGlyphs" stroke="#000" stroke-width="0.50">0d</text>
<text x="901.9" y="547.4" font-family='"Liberation Serif", serif' font-size="12.5" font-weight="bold" fill="#000" text-anchor="start" textLength="18.2" lengthAdjust="spacingAndGlyphs" stroke="#000" stroke-width="0.50">3d</text>
<text x="951.1" y="547.4" font-family='"Liberation Serif", serif' font-size="12.5" font-weight="bold" fill="#000" text-anchor="start" textLength="18.2" lengthAdjust="spacingAndGlyphs" stroke="#000" stroke-width="0.50">6d</text>
<text x="996.0" y="547.4" font-family='"Liberation Serif", serif' font-size="12.5" font-weight="bold" fill="#000" text-anchor="start" textLength="26.8" lengthAdjust="spacingAndGlyphs" stroke="#000" stroke-width="0.50">12d</text>
<text x="1045.3" y="547.4" font-family='"Liberation Serif", serif' font-size="12.5" font-weight="bold" fill="#000" text-anchor="start" textLength="26.8" lengthAdjust="spacingAndGlyphs" stroke="#000" stroke-width="0.50">18d</text>
<text x="1094.5" y="547.4" font-family='"Liberation Serif", serif' font-size="12.5" font-weight="bold" fill="#000" text-anchor="start" textLength="26.8" lengthAdjust="spacingAndGlyphs" stroke="#000" stroke-width="0.50">24d</text>
<text x="963.4" y="561.9" font-family='"Liberation Serif", serif' font-size="17.0" font-weight="bold" fill="#000" text-anchor="start" textLength="47.0" lengthAdjust="spacingAndGlyphs" stroke="#000" stroke-width="0.45">Time</text>
<text transform="translate(794.5,497.9) rotate(-90)" font-family='"Liberation Serif", serif' font-size="23.1" font-weight="bold" stroke="#000" stroke-width="0.55" textLength="127.1" lengthAdjust="spacingAndGlyphs">Relative Intensity</text>
<text x="856.5" y="352.2" font-family='"Liberation Sans", sans-serif' font-size="16.0" font-weight="bold" fill="#000" text-anchor="start" textLength="240.3" lengthAdjust="spacingAndGlyphs" stroke="#000" stroke-width="0.60">Tetrahydrotanshinone<tspan font-family='"Noto Serif CJK SC", serif' font-weight="bold">&#160;&#160;&#8544;</tspan></text>
<line x1="844.9" y1="367.3" x2="890.4" y2="367.3" stroke="#1c1c1c" stroke-width="2.3"/>
<rect x="863.9" y="363.6" width="7.4" height="7.4" fill="#000"/>
<path d="M844.9 388.2h9.0M881.4 388.2h9.0" stroke="#ee1c2c" stroke-width="2.7" fill="none"/>
<circle cx="867.6" cy="388.2" r="4.3" fill="#ff0000"/>
<text x="896.7" y="372.3" font-family='"Liberation Serif", serif' font-size="13.5" font-weight="bold" fill="#000" text-anchor="start" textLength="59.5" lengthAdjust="spacingAndGlyphs" stroke="#000" stroke-width="0.55">Control</text>
<text x="897.6" y="393.5" font-family='"Liberation Serif", serif' font-size="13.5" font-weight="bold" fill="#000" text-anchor="start" textLength="80.0" lengthAdjust="spacingAndGlyphs" stroke="#000" stroke-width="0.55">Treatment</text>
<path d="M911.0 435.2V504.0M907.0 435.2h8M907.0 504.0h8M1009.5 479.4V492.4M1005.5 479.4h8M1005.5 492.4h8M1058.7 474.0V500.4M1054.7 474.0h8M1054.7 500.4h8M1107.9 478.1V492.4M1103.9 478.1h8M1103.9 492.4h8M911.0 441.0V500.0M907.0 441.0h8M907.0 500.0h8M960.2 419.2V430.8M956.2 419.2h8M956.2 430.8h8" stroke="#7a7a7a" stroke-width="2" fill="none"/>
<polyline points="861.8,497.8 911.0,469.2 960.2,494.2 1009.5,485.8 1058.7,487.6 1107.9,485.3" fill="none" stroke="#1c1c1c" stroke-width="2.3" stroke-linejoin="round"/>
<rect x="857.8" y="493.8" width="8.0" height="8.0" fill="#000"/>
<rect x="907.0" y="465.2" width="8.0" height="8.0" fill="#000"/>
<rect x="956.2" y="490.2" width="8.0" height="8.0" fill="#000"/>
<rect x="1005.5" y="481.8" width="8.0" height="8.0" fill="#000"/>
<rect x="1054.7" y="483.6" width="8.0" height="8.0" fill="#000"/>
<rect x="1103.9" y="481.3" width="8.0" height="8.0" fill="#000"/>
<polyline points="861.8,498.7 911.0,471.9 960.2,425.0 1009.5,393.6 1058.7,386.1 1107.9,367.9" fill="none" stroke="#ee1c2c" stroke-width="2.7" stroke-dasharray="9 6.5" stroke-linejoin="round"/>
<circle cx="861.8" cy="498.7" r="4.3" fill="#ff0000"/>
<circle cx="911.0" cy="471.9" r="4.3" fill="#ff0000"/>
<circle cx="960.2" cy="425.0" r="4.3" fill="#ff0000"/>
<circle cx="1009.5" cy="393.6" r="4.3" fill="#ff0000"/>
<circle cx="1058.7" cy="386.1" r="4.3" fill="#ff0000"/>
<circle cx="1107.9" cy="367.9" r="4.3" fill="#ff0000"/>
<g stroke="#1f5f84" stroke-width="2.8" fill="none">
<line x1="101.8" y1="598.8" x2="101.8" y2="765.1"/>
<line x1="100.4" y1="763.7" x2="393.5" y2="763.7"/>
</g>
<path d="M96.8 621.8H101.8M96.8 669.5H101.8M96.8 716.9H101.8M96.8 763.7H101.8M101.8 763.7V768.7M150.2 763.7V768.7M198.7 763.7V768.7M247.1 763.7V768.7M295.6 763.7V768.7M344.0 763.7V768.7M392.5 763.7V768.7" stroke="#1a2333" stroke-width="2.6" fill="none"/>
<text x="56.5" y="626.5" font-family='"Liberation Serif", serif' font-size="14.0" font-weight="bold" fill="#000" text-anchor="start" textLength="31.8" lengthAdjust="spacingAndGlyphs" stroke="#000" stroke-width="0.55">0.06</text>
<text x="56.5" y="674.2" font-family='"Liberation Serif", serif' font-size="14.0" font-weight="bold" fill="#000" text-anchor="start" textLength="31.8" lengthAdjust="spacingAndGlyphs" stroke="#000" stroke-width="0.55">0.04</text>
<text x="56.5" y="721.6" font-family='"Liberation Serif", serif' font-size="14.0" font-weight="bold" fill="#000" text-anchor="start" textLength="31.8" lengthAdjust="spacingAndGlyphs" stroke="#000" stroke-width="0.55">0.02</text>
<text x="79.2" y="768.4" font-family='"Liberation Serif", serif' font-size="14.0" font-weight="bold" fill="#000" text-anchor="start" textLength="9.1" lengthAdjust="spacingAndGlyphs" stroke="#000" stroke-width="0.55">0</text>
<text x="116.9" y="789.2" font-family='"Liberation Serif", serif' font-size="12.5" font-weight="bold" fill="#000" text-anchor="start" textLength="18.2" lengthAdjust="spacingAndGlyphs" stroke="#000" stroke-width="0.50">0d</text>
<text x="165.4" y="789.2" font-family='"Liberation Serif", serif' font-size="12.5" font-weight="bold" fill="#000" text-anchor="start" textLength="18.2" lengthAdjust="spacingAndGlyphs" stroke="#000" stroke-width="0.50">3d</text>
<text x="213.8" y="789.2" font-family='"Liberation Serif", serif' font-size="12.5" font-weight="bold" fill="#000" text-anchor="start" textLength="18.2" lengthAdjust="spacingAndGlyphs" stroke="#000" stroke-width="0.50">6d</text>
<text x="258.0" y="789.2" font-family='"Liberation Serif", serif' font-size="12.5" font-weight="bold" fill="#000" text-anchor="start" textLength="26.8" lengthAdjust="spacingAndGlyphs" stroke="#000" stroke-width="0.50">12d</text>
<text x="306.4" y="789.2" font-family='"Liberation Serif", serif' font-size="12.5" font-weight="bold" fill="#000" text-anchor="start" textLength="26.8" lengthAdjust="spacingAndGlyphs" stroke="#000" stroke-width="0.50">18d</text>
<text x="354.9" y="789.2" font-family='"Liberation Serif", serif' font-size="12.5" font-weight="bold" fill="#000" text-anchor="start" textLength="26.8" lengthAdjust="spacingAndGlyphs" stroke="#000" stroke-width="0.50">24d</text>
<text x="225.7" y="803.7" font-family='"Liberation Serif", serif' font-size="17.0" font-weight="bold" fill="#000" text-anchor="start" textLength="47.0" lengthAdjust="spacingAndGlyphs" stroke="#000" stroke-width="0.45">Time</text>
<text transform="translate(50.0,740.2) rotate(-90)" font-family='"Liberation Serif", serif' font-size="23.1" font-weight="bold" stroke="#000" stroke-width="0.55" textLength="126.2" lengthAdjust="spacingAndGlyphs">Relative Intensity</text>
<text x="171.0" y="591.8" font-family='"Liberation Sans", sans-serif' font-size="16.0" font-weight="bold" fill="#000" text-anchor="start" textLength="134.8" lengthAdjust="spacingAndGlyphs" stroke="#000" stroke-width="0.60">Tanshinone<tspan font-family='"Noto Serif CJK SC", serif' font-weight="bold">&#160;&#160;&#8544;</tspan></text>
<line x1="106.6" y1="608.8" x2="151.3" y2="608.8" stroke="#1c1c1c" stroke-width="2.3"/>
<rect x="125.2" y="605.1" width="7.4" height="7.4" fill="#000"/>
<path d="M106.6 630.6h9.0M142.3 630.6h9.0" stroke="#ee1c2c" stroke-width="2.7" fill="none"/>
<circle cx="128.9" cy="630.6" r="4.3" fill="#ff0000"/>
<text x="157.6" y="613.8" font-family='"Liberation Serif", serif' font-size="13.5" font-weight="bold" fill="#000" text-anchor="start" textLength="59.5" lengthAdjust="spacingAndGlyphs" stroke="#000" stroke-width="0.55">Control</text>
<text x="158.5" y="635.9" font-family='"Liberation Serif", serif' font-size="13.5" font-weight="bold" fill="#000" text-anchor="start" textLength="80.0" lengthAdjust="spacingAndGlyphs" stroke="#000" stroke-width="0.55">Treatment</text>
<path d="M174.5 735.0V751.7M170.5 735.0h8M170.5 751.7h8M222.9 726.1V757.6M218.9 726.1h8M218.9 757.6h8M271.4 734.7V747.2M267.4 734.7h8M267.4 747.2h8M319.8 722.2V755.8M315.8 722.2h8M315.8 755.8h8M368.3 732.0V743.7M364.3 732.0h8M364.3 743.7h8M126.0 718.6V763.3M122.0 718.6h8M122.0 763.3h8M174.5 716.9V750.0M170.5 716.9h8M170.5 750.0h8M222.9 688.6V707.0M218.9 688.6h8M218.9 707.0h8M271.4 675.8V691.0M267.4 675.8h8M267.4 691.0h8M319.8 655.2V680.2M315.8 655.2h8M315.8 680.2h8M368.3 632.5V645.0M364.3 632.5h8M364.3 645.0h8" stroke="#7a7a7a" stroke-width="2" fill="none"/>
<polyline points="126.0,743.1 174.5,743.1 222.9,741.5 271.4,740.4 319.8,739.2 368.3,737.4" fill="none" stroke="#1c1c1c" stroke-width="2.3" stroke-linejoin="round"/>
<rect x="122.0" y="739.1" width="8.0" height="8.0" fill="#000"/>
<rect x="170.5" y="739.1" width="8.0" height="8.0" fill="#000"/>
<rect x="218.9" y="737.5" width="8.0" height="8.0" fill="#000"/>
<rect x="267.4" y="736.4" width="8.0" height="8.0" fill="#000"/>
<rect x="315.8" y="735.2" width="8.0" height="8.0" fill="#000"/>
<rect x="364.3" y="733.4" width="8.0" height="8.0" fill="#000"/>
<polyline points="126.0,743.1 174.5,733.8 222.9,697.2 271.4,682.9 319.8,667.7 368.3,637.9" fill="none" stroke="#ee1c2c" stroke-width="2.7" stroke-dasharray="9 6.5" stroke-linejoin="round"/>
<circle cx="126.0" cy="743.1" r="4.3" fill="#ff0000"/>
<circle cx="174.5" cy="733.8" r="4.3" fill="#ff0000"/>
<circle cx="222.9" cy="697.2" r="4.3" fill="#ff0000"/>
<circle cx="271.4" cy="682.9" r="4.3" fill="#ff0000"/>
<circle cx="319.8" cy="667.7" r="4.3" fill="#ff0000"/>
<circle cx="368.3" cy="637.9" r="4.3" fill="#ff0000"/>
<g stroke="#1f5f84" stroke-width="2.8" fill="none">
<line x1="477.5" y1="599.7" x2="477.5" y2="767.4"/>
<line x1="476.1" y1="766.0" x2="772.4" y2="766.0"/>
</g>
<path d="M472.5 600.7H477.5M472.5 655.8H477.5M472.5 710.9H477.5M472.5 766.0H477.5M477.5 766.0V771.0M526.5 766.0V771.0M575.5 766.0V771.0M624.5 766.0V771.0M673.4 766.0V771.0M722.4 766.0V771.0M771.4 766.0V771.0" stroke="#1a2333" stroke-width="2.6" fill="none"/>
<text x="441.2" y="605.4" font-family='"Liberation Serif", serif' font-size="14.0" font-weight="bold" fill="#000" text-anchor="start" textLength="22.8" lengthAdjust="spacingAndGlyphs" stroke="#000" stroke-width="0.55">0.6</text>
<text x="441.2" y="660.5" font-family='"Liberation Serif", serif' font-size="14.0" font-weight="bold" fill="#000" text-anchor="start" textLength="22.8" lengthAdjust="spacingAndGlyphs" stroke="#000" stroke-width="0.55">0.4</text>
<text x="441.2" y="715.6" font-family='"Liberation Serif", serif' font-size="14.0" font-weight="bold" fill="#000" text-anchor="start" textLength="22.8" lengthAdjust="spacingAndGlyphs" stroke="#000" stroke-width="0.55">0.2</text>
<text x="454.9" y="770.7" font-family='"Liberation Serif", serif' font-size="14.0" font-weight="bold" fill="#000" text-anchor="start" textLength="9.1" lengthAdjust="spacingAndGlyphs" stroke="#000" stroke-width="0.55">0</text>
<text x="492.9" y="791.5" font-family='"Liberation Serif", serif' font-size="12.5" font-weight="bold" fill="#000" text-anchor="start" textLength="18.2" lengthAdjust="spacingAndGlyphs" stroke="#000" stroke-width="0.50">0d</text>
<text x="541.9" y="791.5" font-family='"Liberation Serif", serif' font-size="12.5" font-weight="bold" fill="#000" text-anchor="start" textLength="18.2" lengthAdjust="spacingAndGlyphs" stroke="#000" stroke-width="0.50">3d</text>
<text x="590.8" y="791.5" font-family='"Liberation Serif", serif' font-size="12.5" font-weight="bold" fill="#000" text-anchor="start" textLength="18.2" lengthAdjust="spacingAndGlyphs" stroke="#000" stroke-width="0.50">6d</text>
<text x="635.5" y="791.5" font-family='"Liberation Serif", serif' font-size="12.5" font-weight="bold" fill="#000" text-anchor="start" textLength="26.8" lengthAdjust="spacingAndGlyphs" stroke="#000" stroke-width="0.50">12d</text>
<text x="684.5" y="791.5" font-family='"Liberation Serif", serif' font-size="12.5" font-weight="bold" fill="#000" text-anchor="start" textLength="26.8" lengthAdjust="spacingAndGlyphs" stroke="#000" stroke-width="0.50">18d</text>
<text x="733.5" y="791.5" font-family='"Liberation Serif", serif' font-size="12.5" font-weight="bold" fill="#000" text-anchor="start" textLength="26.8" lengthAdjust="spacingAndGlyphs" stroke="#000" stroke-width="0.50">24d</text>
<text x="603.0" y="806.0" font-family='"Liberation Serif", serif' font-size="17.0" font-weight="bold" fill="#000" text-anchor="start" textLength="47.0" lengthAdjust="spacingAndGlyphs" stroke="#000" stroke-width="0.45">Time</text>
<text transform="translate(434.3,742.0) rotate(-90)" font-family='"Liberation Serif", serif' font-size="23.1" font-weight="bold" stroke="#000" stroke-width="0.55" textLength="126.2" lengthAdjust="spacingAndGlyphs">Relative Intensity</text>
<text x="524.0" y="593.2" font-family='"Liberation Sans", sans-serif' font-size="16.0" font-weight="bold" fill="#000" text-anchor="start" textLength="177.7" lengthAdjust="spacingAndGlyphs" stroke="#000" stroke-width="0.60">Cryptotanshinone</text>
<line x1="486.5" y1="610.6" x2="531.1" y2="610.6" stroke="#1c1c1c" stroke-width="2.3"/>
<rect x="505.1" y="606.9" width="7.4" height="7.4" fill="#000"/>
<path d="M486.5 632.4h9.0M522.1 632.4h9.0" stroke="#ee1c2c" stroke-width="2.7" fill="none"/>
<circle cx="508.8" cy="632.4" r="4.3" fill="#ff0000"/>
<text x="536.5" y="615.6" font-family='"Liberation Serif", serif' font-size="13.5" font-weight="bold" fill="#000" text-anchor="start" textLength="59.5" lengthAdjust="spacingAndGlyphs" stroke="#000" stroke-width="0.55">Control</text>
<text x="537.4" y="637.7" font-family='"Liberation Serif", serif' font-size="13.5" font-weight="bold" fill="#000" text-anchor="start" textLength="80.0" lengthAdjust="spacingAndGlyphs" stroke="#000" stroke-width="0.55">Treatment</text>
<path d="M502.0 731.5V745.0M498.0 731.5h8M498.0 745.0h8M551.0 691.8V749.9M547.0 691.8h8M547.0 749.9h8M648.9 717.7V731.1M644.9 717.7h8M644.9 731.1h8M697.9 716.0V739.2M693.9 716.0h8M693.9 739.2h8M746.9 719.0V737.4M742.9 719.0h8M742.9 737.4h8M551.0 698.1V745.4M547.0 698.1h8M547.0 745.4h8M600.0 662.0V671.0M596.0 662.0h8M596.0 671.0h8" stroke="#7a7a7a" stroke-width="2" fill="none"/>
<polyline points="502.0,738.3 551.0,721.3 600.0,735.6 648.9,723.6 697.9,727.9 746.9,728.5" fill="none" stroke="#1c1c1c" stroke-width="2.3" stroke-linejoin="round"/>
<rect x="498.0" y="734.3" width="8.0" height="8.0" fill="#000"/>
<rect x="547.0" y="717.3" width="8.0" height="8.0" fill="#000"/>
<rect x="596.0" y="731.6" width="8.0" height="8.0" fill="#000"/>
<rect x="644.9" y="719.6" width="8.0" height="8.0" fill="#000"/>
<rect x="693.9" y="723.9" width="8.0" height="8.0" fill="#000"/>
<rect x="742.9" y="724.5" width="8.0" height="8.0" fill="#000"/>
<polyline points="502.0,738.3 551.0,721.9 600.0,665.4 648.9,641.5 697.9,627.9 746.9,627.2" fill="none" stroke="#ee1c2c" stroke-width="2.7" stroke-dasharray="9 6.5" stroke-linejoin="round"/>
<circle cx="502.0" cy="738.3" r="4.3" fill="#ff0000"/>
<circle cx="551.0" cy="721.9" r="4.3" fill="#ff0000"/>
<circle cx="600.0" cy="665.4" r="4.3" fill="#ff0000"/>
<circle cx="648.9" cy="641.5" r="4.3" fill="#ff0000"/>
<circle cx="697.9" cy="627.9" r="4.3" fill="#ff0000"/>
<circle cx="746.9" cy="627.2" r="4.3" fill="#ff0000"/>
<g stroke="#1f5f84" stroke-width="2.8" fill="none">
<line x1="836.8" y1="600.6" x2="836.8" y2="767.4"/>
<line x1="835.4" y1="766.0" x2="1129.0" y2="766.0"/>
</g>
<path d="M831.8 601.6H836.8M831.8 634.5H836.8M831.8 667.4H836.8M831.8 700.2H836.8M831.8 733.1H836.8M831.8 766.0H836.8M836.8 766.0V771.0M885.3 766.0V771.0M933.9 766.0V771.0M982.4 766.0V771.0M1030.9 766.0V771.0M1079.5 766.0V771.0M1128.0 766.0V771.0" stroke="#1a2333" stroke-width="2.6" fill="none"/>
<text x="791.4" y="606.3" font-family='"Liberation Serif", serif' font-size="14.0" font-weight="bold" fill="#000" text-anchor="start" textLength="31.8" lengthAdjust="spacingAndGlyphs" stroke="#000" stroke-width="0.55">0.25</text>
<text x="800.5" y="639.2" font-family='"Liberation Serif", serif' font-size="14.0" font-weight="bold" fill="#000" text-anchor="start" textLength="22.8" lengthAdjust="spacingAndGlyphs" stroke="#000" stroke-width="0.55">0.2</text>
<text x="791.4" y="672.1" font-family='"Liberation Serif", serif' font-size="14.0" font-weight="bold" fill="#000" text-anchor="start" textLength="31.8" lengthAdjust="spacingAndGlyphs" stroke="#000" stroke-width="0.55">0.15</text>
<text x="800.5" y="704.9" font-family='"Liberation Serif", serif' font-size="14.0" font-weight="bold" fill="#000" text-anchor="start" textLength="22.8" lengthAdjust="spacingAndGlyphs" stroke="#000" stroke-width="0.55">0.1</text>
<text x="791.4" y="737.8" font-family='"Liberation Serif", serif' font-size="14.0" font-weight="bold" fill="#000" text-anchor="start" textLength="31.8" lengthAdjust="spacingAndGlyphs" stroke="#000" stroke-width="0.55">0.05</text>
<text x="814.2" y="770.7" font-family='"Liberation Serif", serif' font-size="14.0" font-weight="bold" fill="#000" text-anchor="start" textLength="9.1" lengthAdjust="spacingAndGlyphs" stroke="#000" stroke-width="0.55">0</text>
<text x="852.0" y="791.5" font-family='"Liberation Serif", serif' font-size="12.5" font-weight="bold" fill="#000" text-anchor="start" textLength="18.2" lengthAdjust="spacingAndGlyphs" stroke="#000" stroke-width="0.50">0d</text>
<text x="900.5" y="791.5" font-family='"Liberation Serif", serif' font-size="12.5" font-weight="bold" fill="#000" text-anchor="start" textLength="18.2" lengthAdjust="spacingAndGlyphs" stroke="#000" stroke-width="0.50">3d</text>
<text x="949.0" y="791.5" font-family='"Liberation Serif", serif' font-size="12.5" font-weight="bold" fill="#000" text-anchor="start" textLength="18.2" lengthAdjust="spacingAndGlyphs" stroke="#000" stroke-width="0.50">6d</text>
<text x="993.2" y="791.5" font-family='"Liberation Serif", serif' font-size="12.5" font-weight="bold" fill="#000" text-anchor="start" textLength="26.8" lengthAdjust="spacingAndGlyphs" stroke="#000" stroke-width="0.50">12d</text>
<text x="1041.8" y="791.5" font-family='"Liberation Serif", serif' font-size="12.5" font-weight="bold" fill="#000" text-anchor="start" textLength="26.8" lengthAdjust="spacingAndGlyphs" stroke="#000" stroke-width="0.50">18d</text>
<text x="1090.3" y="791.5" font-family='"Liberation Serif", serif' font-size="12.5" font-weight="bold" fill="#000" text-anchor="start" textLength="26.8" lengthAdjust="spacingAndGlyphs" stroke="#000" stroke-width="0.50">24d</text>
<text x="960.9" y="806.0" font-family='"Liberation Serif", serif' font-size="17.0" font-weight="bold" fill="#000" text-anchor="start" textLength="47.0" lengthAdjust="spacingAndGlyphs" stroke="#000" stroke-width="0.45">Time</text>
<text transform="translate(786.3,742.0) rotate(-90)" font-family='"Liberation Serif", serif' font-size="24.4" font-weight="bold" stroke="#000" stroke-width="0.55" textLength="126.2" lengthAdjust="spacingAndGlyphs">Relative Intensity</text>
<text x="899.3" y="593.2" font-family='"Liberation Sans", sans-serif' font-size="16.0" font-weight="bold" fill="#000" text-anchor="start" textLength="135.8" lengthAdjust="spacingAndGlyphs" stroke="#000" stroke-width="0.60">Tanshinone<tspan font-family='"Noto Serif CJK SC", serif' font-weight="bold">&#160;&#160;&#8544;</tspan></text>
<line x1="841.3" y1="610.9" x2="887.7" y2="610.9" stroke="#1c1c1c" stroke-width="2.3"/>
<rect x="860.8" y="607.2" width="7.4" height="7.4" fill="#000"/>
<path d="M841.3 632.4h9.0M878.7 632.4h9.0" stroke="#ee1c2c" stroke-width="2.7" fill="none"/>
<circle cx="864.5" cy="632.4" r="4.3" fill="#ff0000"/>
<text x="893.1" y="615.9" font-family='"Liberation Serif", serif' font-size="13.5" font-weight="bold" fill="#000" text-anchor="start" textLength="59.5" lengthAdjust="spacingAndGlyphs" stroke="#000" stroke-width="0.55">Control</text>
<text x="894.0" y="637.7" font-family='"Liberation Serif", serif' font-size="13.5" font-weight="bold" fill="#000" text-anchor="start" textLength="80.0" lengthAdjust="spacingAndGlyphs" stroke="#000" stroke-width="0.55">Treatment</text>
<path d="M861.1 694.0V719.0M857.1 694.0h8M857.1 719.0h8M958.1 710.1V726.1M954.1 710.1h8M954.1 726.1h8M1055.2 696.3V720.4M1051.2 696.3h8M1051.2 720.4h8M1103.7 699.3V722.2M1099.7 699.3h8M1099.7 722.2h8M909.6 680.2V696.3M905.6 680.2h8M905.6 696.3h8M1055.2 632.5V646.8M1051.2 632.5h8M1051.2 646.8h8" stroke="#7a7a7a" stroke-width="2" fill="none"/>
<polyline points="861.1,707.0 909.6,731.1 958.1,718.3 1006.7,707.6 1055.2,708.3 1103.7,710.1" fill="none" stroke="#1c1c1c" stroke-width="2.3" stroke-linejoin="round"/>
<rect x="857.1" y="703.0" width="8.0" height="8.0" fill="#000"/>
<rect x="905.6" y="727.1" width="8.0" height="8.0" fill="#000"/>
<rect x="954.1" y="714.3" width="8.0" height="8.0" fill="#000"/>
<rect x="1002.7" y="703.6" width="8.0" height="8.0" fill="#000"/>
<rect x="1051.2" y="704.3" width="8.0" height="8.0" fill="#000"/>
<rect x="1099.7" y="706.1" width="8.0" height="8.0" fill="#000"/>
<polyline points="861.1,706.5 909.6,688.3 958.1,670.0 1006.7,649.9 1055.2,638.6 1103.7,630.7" fill="none" stroke="#ee1c2c" stroke-width="2.7" stroke-dasharray="9 6.5" stroke-linejoin="round"/>
<circle cx="861.1" cy="706.5" r="4.3" fill="#ff0000"/>
<circle cx="909.6" cy="688.3" r="4.3" fill="#ff0000"/>
<circle cx="958.1" cy="670.0" r="4.3" fill="#ff0000"/>
<circle cx="1006.7" cy="649.9" r="4.3" fill="#ff0000"/>
<circle cx="1055.2" cy="638.6" r="4.3" fill="#ff0000"/>
<circle cx="1103.7" cy="630.7" r="4.3" fill="#ff0000"/>
<g stroke="#1f5f84" stroke-width="2.8" fill="none">
<line x1="477.5" y1="836.5" x2="477.5" y2="1004.2"/>
<line x1="476.1" y1="1002.8" x2="773.3" y2="1002.8"/>
</g>
<path d="M472.5 837.5H477.5M472.5 878.8H477.5M472.5 920.2H477.5M472.5 961.5H477.5M472.5 1002.8H477.5M477.5 1002.8V1007.8M526.6 1002.8V1007.8M575.8 1002.8V1007.8M624.9 1002.8V1007.8M674.0 1002.8V1007.8M723.2 1002.8V1007.8M772.3 1002.8V1007.8" stroke="#1a2333" stroke-width="2.6" fill="none"/>
<text x="432.1" y="842.2" font-family='"Liberation Serif", serif' font-size="14.0" font-weight="bold" fill="#000" text-anchor="start" textLength="31.8" lengthAdjust="spacingAndGlyphs" stroke="#000" stroke-width="0.55">0.08</text>
<text x="432.1" y="883.5" font-family='"Liberation Serif", serif' font-size="14.0" font-weight="bold" fill="#000" text-anchor="start" textLength="31.8" lengthAdjust="spacingAndGlyphs" stroke="#000" stroke-width="0.55">0.06</text>
<text x="432.1" y="924.9" font-family='"Liberation Serif", serif' font-size="14.0" font-weight="bold" fill="#000" text-anchor="start" textLength="31.8" lengthAdjust="spacingAndGlyphs" stroke="#000" stroke-width="0.55">0.04</text>
<text x="432.1" y="966.2" font-family='"Liberation Serif", serif' font-size="14.0" font-weight="bold" fill="#000" text-anchor="start" textLength="31.8" lengthAdjust="spacingAndGlyphs" stroke="#000" stroke-width="0.55">0.02</text>
<text x="454.9" y="1007.5" font-family='"Liberation Serif", serif' font-size="14.0" font-weight="bold" fill="#000" text-anchor="start" textLength="9.1" lengthAdjust="spacingAndGlyphs" stroke="#000" stroke-width="0.55">0</text>
<text x="493.0" y="1028.3" font-family='"Liberation Serif", serif' font-size="12.5" font-weight="bold" fill="#000" text-anchor="start" textLength="18.2" lengthAdjust="spacingAndGlyphs" stroke="#000" stroke-width="0.50">0d</text>
<text x="542.1" y="1028.3" font-family='"Liberation Serif", serif' font-size="12.5" font-weight="bold" fill="#000" text-anchor="start" textLength="18.2" lengthAdjust="spacingAndGlyphs" stroke="#000" stroke-width="0.50">3d</text>
<text x="591.2" y="1028.3" font-family='"Liberation Serif", serif' font-size="12.5" font-weight="bold" fill="#000" text-anchor="start" textLength="18.2" lengthAdjust="spacingAndGlyphs" stroke="#000" stroke-width="0.50">6d</text>
<text x="636.0" y="1028.3" font-family='"Liberation Serif", serif' font-size="12.5" font-weight="bold" fill="#000" text-anchor="start" textLength="26.8" lengthAdjust="spacingAndGlyphs" stroke="#000" stroke-width="0.50">12d</text>
<text x="685.2" y="1028.3" font-family='"Liberation Serif", serif' font-size="12.5" font-weight="bold" fill="#000" text-anchor="start" textLength="26.8" lengthAdjust="spacingAndGlyphs" stroke="#000" stroke-width="0.50">18d</text>
<text x="734.3" y="1028.3" font-family='"Liberation Serif", serif' font-size="12.5" font-weight="bold" fill="#000" text-anchor="start" textLength="26.8" lengthAdjust="spacingAndGlyphs" stroke="#000" stroke-width="0.50">24d</text>
<text x="603.4" y="1042.8" font-family='"Liberation Serif", serif' font-size="17.0" font-weight="bold" fill="#000" text-anchor="start" textLength="47.0" lengthAdjust="spacingAndGlyphs" stroke="#000" stroke-width="0.45">Time</text>
<text transform="translate(429.7,977.9) rotate(-90)" font-family='"Liberation Serif", serif' font-size="24.4" font-weight="bold" stroke="#000" stroke-width="0.55" textLength="125.3" lengthAdjust="spacingAndGlyphs">Relative Intensity</text>
<text x="580.8" y="834.8" font-family='"Liberation Sans", sans-serif' font-size="16.0" font-weight="bold" fill="#000" text-anchor="start" textLength="87.0" lengthAdjust="spacingAndGlyphs" stroke="#000" stroke-width="0.60">Miltirone</text>
<line x1="486.5" y1="847.3" x2="531.1" y2="847.3" stroke="#1c1c1c" stroke-width="2.3"/>
<rect x="505.1" y="843.6" width="7.4" height="7.4" fill="#000"/>
<path d="M486.5 868.8h9.0M522.1 868.8h9.0" stroke="#ee1c2c" stroke-width="2.7" fill="none"/>
<circle cx="508.8" cy="868.8" r="4.3" fill="#ff0000"/>
<text x="537.4" y="852.3" font-family='"Liberation Serif", serif' font-size="13.5" font-weight="bold" fill="#000" text-anchor="start" textLength="59.5" lengthAdjust="spacingAndGlyphs" stroke="#000" stroke-width="0.55">Control</text>
<text x="538.3" y="874.1" font-family='"Liberation Serif", serif' font-size="13.5" font-weight="bold" fill="#000" text-anchor="start" textLength="80.0" lengthAdjust="spacingAndGlyphs" stroke="#000" stroke-width="0.55">Treatment</text>
<path d="M551.2 985.8V998.7M547.2 985.8h8M547.2 998.7h8M551.2 979.2V994.7M547.2 979.2h8M547.2 994.7h8M600.3 965.3V986.2M596.3 965.3h8M596.3 986.2h8M649.5 927.2V948.3M645.5 927.2h8M645.5 948.3h8M698.6 864.7V917.0M694.6 864.7h8M694.6 917.0h8M747.7 861.1V888.4M743.7 861.1h8M743.7 888.4h8" stroke="#7a7a7a" stroke-width="2" fill="none"/>
<polyline points="502.1,992.0 551.2,992.0 600.3,995.1 649.5,993.0 698.6,993.8 747.7,993.0" fill="none" stroke="#1c1c1c" stroke-width="2.3" stroke-linejoin="round"/>
<rect x="498.1" y="988.0" width="8.0" height="8.0" fill="#000"/>
<rect x="547.2" y="988.0" width="8.0" height="8.0" fill="#000"/>
<rect x="596.3" y="991.1" width="8.0" height="8.0" fill="#000"/>
<rect x="645.5" y="989.0" width="8.0" height="8.0" fill="#000"/>
<rect x="694.6" y="989.8" width="8.0" height="8.0" fill="#000"/>
<rect x="743.7" y="989.0" width="8.0" height="8.0" fill="#000"/>
<polyline points="502.1,992.0 551.2,986.7 600.3,975.1 649.5,937.6 698.6,891.1 747.7,874.7" fill="none" stroke="#ee1c2c" stroke-width="2.7" stroke-dasharray="9 6.5" stroke-linejoin="round"/>
<circle cx="502.1" cy="992.0" r="4.3" fill="#ff0000"/>
<circle cx="551.2" cy="986.7" r="4.3" fill="#ff0000"/>
<circle cx="600.3" cy="975.1" r="4.3" fill="#ff0000"/>
<circle cx="649.5" cy="937.6" r="4.3" fill="#ff0000"/>
<circle cx="698.6" cy="891.1" r="4.3" fill="#ff0000"/>
<circle cx="747.7" cy="874.7" r="4.3" fill="#ff0000"/>
<g stroke="#1f5f84" stroke-width="2.8" fill="none">
<line x1="92.6" y1="1139.1" x2="92.6" y2="1324.1"/>
<line x1="91.2" y1="1322.7" x2="393.9" y2="1322.7"/>
</g>
<path d="M87.6 1140.1H92.6M87.6 1176.6H92.6M87.6 1213.1H92.6M87.6 1249.6H92.6M87.6 1286.2H92.6M87.6 1322.7H92.6M92.6 1322.7V1327.7M142.6 1322.7V1327.7M192.7 1322.7V1327.7M242.7 1322.7V1327.7M292.8 1322.7V1327.7M342.8 1322.7V1327.7M392.9 1322.7V1327.7" stroke="#1a2333" stroke-width="2.6" fill="none"/>
<text x="56.3" y="1144.8" font-family='"Liberation Serif", serif' font-size="14.0" font-weight="bold" fill="#000" text-anchor="start" textLength="22.8" lengthAdjust="spacingAndGlyphs" stroke="#000" stroke-width="0.55">0.1</text>
<text x="47.2" y="1181.3" font-family='"Liberation Serif", serif' font-size="14.0" font-weight="bold" fill="#000" text-anchor="start" textLength="31.8" lengthAdjust="spacingAndGlyphs" stroke="#000" stroke-width="0.55">0.08</text>
<text x="47.2" y="1217.8" font-family='"Liberation Serif", serif' font-size="14.0" font-weight="bold" fill="#000" text-anchor="start" textLength="31.8" lengthAdjust="spacingAndGlyphs" stroke="#000" stroke-width="0.55">0.06</text>
<text x="47.2" y="1254.3" font-family='"Liberation Serif", serif' font-size="14.0" font-weight="bold" fill="#000" text-anchor="start" textLength="31.8" lengthAdjust="spacingAndGlyphs" stroke="#000" stroke-width="0.55">0.04</text>
<text x="47.2" y="1290.9" font-family='"Liberation Serif", serif' font-size="14.0" font-weight="bold" fill="#000" text-anchor="start" textLength="31.8" lengthAdjust="spacingAndGlyphs" stroke="#000" stroke-width="0.55">0.02</text>
<text x="70.0" y="1327.4" font-family='"Liberation Serif", serif' font-size="14.0" font-weight="bold" fill="#000" text-anchor="start" textLength="9.1" lengthAdjust="spacingAndGlyphs" stroke="#000" stroke-width="0.55">0</text>
<text x="108.5" y="1351.2" font-family='"Liberation Serif", serif' font-size="12.5" font-weight="bold" fill="#000" text-anchor="start" textLength="18.2" lengthAdjust="spacingAndGlyphs" stroke="#000" stroke-width="0.50">0d</text>
<text x="158.6" y="1351.2" font-family='"Liberation Serif", serif' font-size="12.5" font-weight="bold" fill="#000" text-anchor="start" textLength="18.2" lengthAdjust="spacingAndGlyphs" stroke="#000" stroke-width="0.50">3d</text>
<text x="208.6" y="1351.2" font-family='"Liberation Serif", serif' font-size="12.5" font-weight="bold" fill="#000" text-anchor="start" textLength="18.2" lengthAdjust="spacingAndGlyphs" stroke="#000" stroke-width="0.50">6d</text>
<text x="254.4" y="1351.2" font-family='"Liberation Serif", serif' font-size="12.5" font-weight="bold" fill="#000" text-anchor="start" textLength="26.8" lengthAdjust="spacingAndGlyphs" stroke="#000" stroke-width="0.50">12d</text>
<text x="304.4" y="1351.2" font-family='"Liberation Serif", serif' font-size="12.5" font-weight="bold" fill="#000" text-anchor="start" textLength="26.8" lengthAdjust="spacingAndGlyphs" stroke="#000" stroke-width="0.50">18d</text>
<text x="354.5" y="1351.2" font-family='"Liberation Serif", serif' font-size="12.5" font-weight="bold" fill="#000" text-anchor="start" textLength="26.8" lengthAdjust="spacingAndGlyphs" stroke="#000" stroke-width="0.50">24d</text>
<text x="221.2" y="1367.2" font-family='"Liberation Serif", serif' font-size="17.0" font-weight="bold" fill="#000" text-anchor="start" textLength="47.0" lengthAdjust="spacingAndGlyphs" stroke="#000" stroke-width="0.45">Time</text>
<text transform="translate(41.4,1296.0) rotate(-90)" font-family='"Liberation Serif", serif' font-size="21.5" font-weight="bold" stroke="#000" stroke-width="0.55" textLength="139.5" lengthAdjust="spacingAndGlyphs">Relative Intensity</text>
<text x="175.0" y="1132.3" font-family='"Liberation Sans", sans-serif' font-size="17.8" font-weight="bold" fill="#000" text-anchor="start" textLength="140.4" lengthAdjust="spacingAndGlyphs" stroke="#000" stroke-width="0.60">Gluconic acid</text>
<line x1="100.4" y1="1150.7" x2="146.9" y2="1150.7" stroke="#1c1c1c" stroke-width="2.3"/>
<rect x="120.0" y="1147.0" width="7.4" height="7.4" fill="#000"/>
<path d="M100.4 1174.0h9.0M137.9 1174.0h9.0" stroke="#ee1c2c" stroke-width="2.7" fill="none"/>
<circle cx="123.7" cy="1174.0" r="4.3" fill="#ff0000"/>
<text x="153.7" y="1155.7" font-family='"Liberation Serif", serif' font-size="13.5" font-weight="bold" fill="#000" text-anchor="start" textLength="59.5" lengthAdjust="spacingAndGlyphs" stroke="#000" stroke-width="0.55">Control</text>
<text x="154.6" y="1179.3" font-family='"Liberation Serif", serif' font-size="13.5" font-weight="bold" fill="#000" text-anchor="start" textLength="80.0" lengthAdjust="spacingAndGlyphs" stroke="#000" stroke-width="0.55">Treatment</text>
<path d="M167.7 1298.0V1313.0M163.7 1298.0h8M163.7 1313.0h8M217.7 1290.2V1305.3M213.7 1290.2h8M213.7 1305.3h8M267.8 1292.0V1302.0M263.8 1292.0h8M263.8 1302.0h8M317.8 1276.6V1299.5M313.8 1276.6h8M313.8 1299.5h8M367.9 1304.0V1311.0M363.9 1304.0h8M363.9 1311.0h8M117.6 1255.3V1317.3M113.6 1255.3h8M113.6 1317.3h8M167.7 1226.3V1318.3M163.7 1226.3h8M163.7 1318.3h8M217.7 1267.9V1291.2M213.7 1267.9h8M213.7 1291.2h8M267.8 1255.7V1276.6M263.8 1255.7h8M263.8 1276.6h8M317.8 1173.0V1235.0M313.8 1173.0h8M313.8 1235.0h8" stroke="#7a7a7a" stroke-width="2" fill="none"/>
<polyline points="117.6,1285.3 167.7,1305.7 217.7,1297.0 267.8,1297.0 317.8,1288.3 367.9,1307.6" fill="none" stroke="#1c1c1c" stroke-width="2.3" stroke-linejoin="round"/>
<rect x="113.6" y="1281.3" width="8.0" height="8.0" fill="#000"/>
<rect x="163.7" y="1301.7" width="8.0" height="8.0" fill="#000"/>
<rect x="213.7" y="1293.0" width="8.0" height="8.0" fill="#000"/>
<rect x="263.8" y="1293.0" width="8.0" height="8.0" fill="#000"/>
<rect x="313.8" y="1284.3" width="8.0" height="8.0" fill="#000"/>
<rect x="363.9" y="1303.6" width="8.0" height="8.0" fill="#000"/>
<polyline points="117.6,1285.3 167.7,1272.4 217.7,1279.5 267.8,1265.4 317.8,1204.0 367.9,1276.2" fill="none" stroke="#ee1c2c" stroke-width="2.7" stroke-dasharray="9 6.5" stroke-linejoin="round"/>
<circle cx="117.6" cy="1285.3" r="4.3" fill="#ff0000"/>
<circle cx="167.7" cy="1272.4" r="4.3" fill="#ff0000"/>
<circle cx="217.7" cy="1279.5" r="4.3" fill="#ff0000"/>
<circle cx="267.8" cy="1265.4" r="4.3" fill="#ff0000"/>
<circle cx="317.8" cy="1204.0" r="4.3" fill="#ff0000"/>
<circle cx="367.9" cy="1276.2" r="4.3" fill="#ff0000"/>
<g stroke="#1f5f84" stroke-width="2.8" fill="none">
<line x1="470.4" y1="1140.1" x2="470.4" y2="1325.6"/>
<line x1="469.0" y1="1324.2" x2="760.8" y2="1324.2"/>
</g>
<path d="M465.4 1141.1H470.4M465.4 1171.6H470.4M465.4 1202.1H470.4M465.4 1232.7H470.4M465.4 1263.2H470.4M465.4 1293.7H470.4M465.4 1324.2H470.4M470.4 1324.2V1329.2M518.6 1324.2V1329.2M566.9 1324.2V1329.2M615.1 1324.2V1329.2M663.3 1324.2V1329.2M711.6 1324.2V1329.2M759.8 1324.2V1329.2" stroke="#1a2333" stroke-width="2.6" fill="none"/>
<text x="409.6" y="1145.8" font-family='"Liberation Serif", serif' font-size="14.0" font-weight="bold" fill="#000" text-anchor="start" textLength="47.2" lengthAdjust="spacingAndGlyphs" stroke="#000" stroke-width="0.55">0.024</text>
<text x="420.1" y="1176.3" font-family='"Liberation Serif", serif' font-size="14.0" font-weight="bold" fill="#000" text-anchor="start" textLength="36.8" lengthAdjust="spacingAndGlyphs" stroke="#000" stroke-width="0.55">0.02</text>
<text x="409.6" y="1206.8" font-family='"Liberation Serif", serif' font-size="14.0" font-weight="bold" fill="#000" text-anchor="start" textLength="47.2" lengthAdjust="spacingAndGlyphs" stroke="#000" stroke-width="0.55">0.016</text>
<text x="409.6" y="1237.4" font-family='"Liberation Serif", serif' font-size="14.0" font-weight="bold" fill="#000" text-anchor="start" textLength="47.2" lengthAdjust="spacingAndGlyphs" stroke="#000" stroke-width="0.55">0.012</text>
<text x="409.6" y="1267.9" font-family='"Liberation Serif", serif' font-size="14.0" font-weight="bold" fill="#000" text-anchor="start" textLength="47.2" lengthAdjust="spacingAndGlyphs" stroke="#000" stroke-width="0.55">0.008</text>
<text x="409.6" y="1298.4" font-family='"Liberation Serif", serif' font-size="14.0" font-weight="bold" fill="#000" text-anchor="start" textLength="47.2" lengthAdjust="spacingAndGlyphs" stroke="#000" stroke-width="0.55">0.004</text>
<text x="446.4" y="1328.9" font-family='"Liberation Serif", serif' font-size="14.0" font-weight="bold" fill="#000" text-anchor="start" textLength="10.5" lengthAdjust="spacingAndGlyphs" stroke="#000" stroke-width="0.55">0</text>
<text x="485.4" y="1352.7" font-family='"Liberation Serif", serif' font-size="12.5" font-weight="bold" fill="#000" text-anchor="start" textLength="18.2" lengthAdjust="spacingAndGlyphs" stroke="#000" stroke-width="0.50">0d</text>
<text x="533.6" y="1352.7" font-family='"Liberation Serif", serif' font-size="12.5" font-weight="bold" fill="#000" text-anchor="start" textLength="18.2" lengthAdjust="spacingAndGlyphs" stroke="#000" stroke-width="0.50">3d</text>
<text x="581.9" y="1352.7" font-family='"Liberation Serif", serif' font-size="12.5" font-weight="bold" fill="#000" text-anchor="start" textLength="18.2" lengthAdjust="spacingAndGlyphs" stroke="#000" stroke-width="0.50">6d</text>
<text x="625.8" y="1352.7" font-family='"Liberation Serif", serif' font-size="12.5" font-weight="bold" fill="#000" text-anchor="start" textLength="26.8" lengthAdjust="spacingAndGlyphs" stroke="#000" stroke-width="0.50">12d</text>
<text x="674.0" y="1352.7" font-family='"Liberation Serif", serif' font-size="12.5" font-weight="bold" fill="#000" text-anchor="start" textLength="26.8" lengthAdjust="spacingAndGlyphs" stroke="#000" stroke-width="0.50">18d</text>
<text x="722.3" y="1352.7" font-family='"Liberation Serif", serif' font-size="12.5" font-weight="bold" fill="#000" text-anchor="start" textLength="26.8" lengthAdjust="spacingAndGlyphs" stroke="#000" stroke-width="0.50">24d</text>
<text x="593.6" y="1368.7" font-family='"Liberation Serif", serif' font-size="17.0" font-weight="bold" fill="#000" text-anchor="start" textLength="47.0" lengthAdjust="spacingAndGlyphs" stroke="#000" stroke-width="0.45">Time</text>
<text transform="translate(409.3,1296.6) rotate(-90)" font-family='"Liberation Serif", serif' font-size="23.1" font-weight="bold" stroke="#000" stroke-width="0.55" textLength="138.6" lengthAdjust="spacingAndGlyphs">Relative Intensity</text>
<text x="511.5" y="1132.2" font-family='"Liberation Sans", sans-serif' font-size="17.8" font-weight="bold" fill="#000" text-anchor="start" textLength="218.8" lengthAdjust="spacingAndGlyphs" stroke="#000" stroke-width="0.60">3-Methyl pyruvic acid</text>
<line x1="474.9" y1="1152.2" x2="522.2" y2="1152.2" stroke="#1c1c1c" stroke-width="2.3"/>
<rect x="494.9" y="1148.5" width="7.4" height="7.4" fill="#000"/>
<path d="M474.9 1175.4h9.0M513.2 1175.4h9.0" stroke="#ee1c2c" stroke-width="2.7" fill="none"/>
<circle cx="498.6" cy="1175.4" r="4.3" fill="#ff0000"/>
<text x="527.6" y="1157.2" font-family='"Liberation Serif", serif' font-size="13.5" font-weight="bold" fill="#000" text-anchor="start" textLength="59.5" lengthAdjust="spacingAndGlyphs" stroke="#000" stroke-width="0.55">Control</text>
<text x="528.5" y="1180.7" font-family='"Liberation Serif", serif' font-size="13.5" font-weight="bold" fill="#000" text-anchor="start" textLength="80.0" lengthAdjust="spacingAndGlyphs" stroke="#000" stroke-width="0.55">Treatment</text>
<path d="M494.5 1193.8V1219.7M490.5 1193.8h8M490.5 1219.7h8M542.8 1266.1V1280.4M538.8 1266.1h8M538.8 1280.4h8M591.0 1257.2V1273.3M587.0 1257.2h8M587.0 1273.3h8M687.4 1231.3V1260.8M683.4 1231.3h8M683.4 1260.8h8M735.7 1271.5V1284.0M731.7 1271.5h8M731.7 1284.0h8M542.8 1197.4V1242.0M538.8 1197.4h8M538.8 1242.0h8M639.2 1272.4V1287.6M635.2 1272.4h8M635.2 1287.6h8M687.4 1217.9V1269.7M683.4 1217.9h8M683.4 1269.7h8M735.7 1259.0V1276.0M731.7 1259.0h8M731.7 1276.0h8" stroke="#7a7a7a" stroke-width="2" fill="none"/>
<polyline points="494.5,1208.1 542.8,1273.3 591.0,1265.3 639.2,1270.6 687.4,1242.9 735.7,1276.9" fill="none" stroke="#1c1c1c" stroke-width="2.3" stroke-linejoin="round"/>
<rect x="490.5" y="1204.1" width="8.0" height="8.0" fill="#000"/>
<rect x="538.8" y="1269.3" width="8.0" height="8.0" fill="#000"/>
<rect x="587.0" y="1261.3" width="8.0" height="8.0" fill="#000"/>
<rect x="635.2" y="1266.6" width="8.0" height="8.0" fill="#000"/>
<rect x="683.4" y="1238.9" width="8.0" height="8.0" fill="#000"/>
<rect x="731.7" y="1272.9" width="8.0" height="8.0" fill="#000"/>
<polyline points="494.5,1206.8 542.8,1219.3 591.0,1282.6 639.2,1280.1 687.4,1245.6 735.7,1267.6" fill="none" stroke="#ee1c2c" stroke-width="2.7" stroke-dasharray="9 6.5" stroke-linejoin="round"/>
<circle cx="494.5" cy="1206.8" r="4.3" fill="#ff0000"/>
<circle cx="542.8" cy="1219.3" r="4.3" fill="#ff0000"/>
<circle cx="591.0" cy="1282.6" r="4.3" fill="#ff0000"/>
<circle cx="639.2" cy="1280.1" r="4.3" fill="#ff0000"/>
<circle cx="687.4" cy="1245.6" r="4.3" fill="#ff0000"/>
<circle cx="735.7" cy="1267.6" r="4.3" fill="#ff0000"/>
<g stroke="#1f5f84" stroke-width="2.8" fill="none">
<line x1="840.4" y1="1141.0" x2="840.4" y2="1326.1"/>
<line x1="839.0" y1="1324.7" x2="1131.7" y2="1324.7"/>
</g>
<path d="M835.4 1142.0H840.4M835.4 1187.7H840.4M835.4 1233.4H840.4M835.4 1279.0H840.4M835.4 1324.7H840.4M840.4 1324.7V1329.7M888.8 1324.7V1329.7M937.2 1324.7V1329.7M985.5 1324.7V1329.7M1033.9 1324.7V1329.7M1082.3 1324.7V1329.7M1130.7 1324.7V1329.7" stroke="#1a2333" stroke-width="2.6" fill="none"/>
<text x="795.0" y="1146.7" font-family='"Liberation Serif", serif' font-size="14.0" font-weight="bold" fill="#000" text-anchor="start" textLength="31.8" lengthAdjust="spacingAndGlyphs" stroke="#000" stroke-width="0.55">0.08</text>
<text x="795.0" y="1192.4" font-family='"Liberation Serif", serif' font-size="14.0" font-weight="bold" fill="#000" text-anchor="start" textLength="31.8" lengthAdjust="spacingAndGlyphs" stroke="#000" stroke-width="0.55">0.06</text>
<text x="795.0" y="1238.1" font-family='"Liberation Serif", serif' font-size="14.0" font-weight="bold" fill="#000" text-anchor="start" textLength="31.8" lengthAdjust="spacingAndGlyphs" stroke="#000" stroke-width="0.55">0.04</text>
<text x="795.0" y="1283.7" font-family='"Liberation Serif", serif' font-size="14.0" font-weight="bold" fill="#000" text-anchor="start" textLength="31.8" lengthAdjust="spacingAndGlyphs" stroke="#000" stroke-width="0.55">0.02</text>
<text x="817.8" y="1329.4" font-family='"Liberation Serif", serif' font-size="14.0" font-weight="bold" fill="#000" text-anchor="start" textLength="9.1" lengthAdjust="spacingAndGlyphs" stroke="#000" stroke-width="0.55">0</text>
<text x="855.5" y="1353.2" font-family='"Liberation Serif", serif' font-size="12.5" font-weight="bold" fill="#000" text-anchor="start" textLength="18.2" lengthAdjust="spacingAndGlyphs" stroke="#000" stroke-width="0.50">0d</text>
<text x="903.9" y="1353.2" font-family='"Liberation Serif", serif' font-size="12.5" font-weight="bold" fill="#000" text-anchor="start" textLength="18.2" lengthAdjust="spacingAndGlyphs" stroke="#000" stroke-width="0.50">3d</text>
<text x="952.2" y="1353.2" font-family='"Liberation Serif", serif' font-size="12.5" font-weight="bold" fill="#000" text-anchor="start" textLength="18.2" lengthAdjust="spacingAndGlyphs" stroke="#000" stroke-width="0.50">6d</text>
<text x="996.3" y="1353.2" font-family='"Liberation Serif", serif' font-size="12.5" font-weight="bold" fill="#000" text-anchor="start" textLength="26.8" lengthAdjust="spacingAndGlyphs" stroke="#000" stroke-width="0.50">12d</text>
<text x="1044.7" y="1353.2" font-family='"Liberation Serif", serif' font-size="12.5" font-weight="bold" fill="#000" text-anchor="start" textLength="26.8" lengthAdjust="spacingAndGlyphs" stroke="#000" stroke-width="0.50">18d</text>
<text x="1093.1" y="1353.2" font-family='"Liberation Serif", serif' font-size="12.5" font-weight="bold" fill="#000" text-anchor="start" textLength="26.8" lengthAdjust="spacingAndGlyphs" stroke="#000" stroke-width="0.50">24d</text>
<text x="964.0" y="1369.2" font-family='"Liberation Serif", serif' font-size="17.0" font-weight="bold" fill="#000" text-anchor="start" textLength="47.0" lengthAdjust="spacingAndGlyphs" stroke="#000" stroke-width="0.45">Time</text>
<text transform="translate(780.2,1298.4) rotate(-90)" font-family='"Liberation Serif", serif' font-size="23.1" font-weight="bold" stroke="#000" stroke-width="0.55" textLength="139.6" lengthAdjust="spacingAndGlyphs">Relative Intensity</text>
<text x="931.5" y="1132.2" font-family='"Liberation Sans", sans-serif' font-size="17.8" font-weight="bold" fill="#000" text-anchor="start" textLength="102.7" lengthAdjust="spacingAndGlyphs" stroke="#000" stroke-width="0.60">Malic acid</text>
<line x1="845.8" y1="1152.7" x2="892.2" y2="1152.7" stroke="#1c1c1c" stroke-width="2.3"/>
<rect x="865.3" y="1149.0" width="7.4" height="7.4" fill="#000"/>
<path d="M845.8 1176.8h9.0M883.2 1176.8h9.0" stroke="#ee1c2c" stroke-width="2.7" fill="none"/>
<circle cx="869.0" cy="1176.8" r="4.3" fill="#ff0000"/>
<text x="897.6" y="1157.7" font-family='"Liberation Serif", serif' font-size="13.5" font-weight="bold" fill="#000" text-anchor="start" textLength="59.5" lengthAdjust="spacingAndGlyphs" stroke="#000" stroke-width="0.55">Control</text>
<text x="898.5" y="1182.1" font-family='"Liberation Serif", serif' font-size="13.5" font-weight="bold" fill="#000" text-anchor="start" textLength="80.0" lengthAdjust="spacingAndGlyphs" stroke="#000" stroke-width="0.55">Treatment</text>
<path d="M1058.1 1271.1V1296.2M1054.1 1271.1h8M1054.1 1296.2h8M1106.5 1282.6V1294.7M1102.5 1282.6h8M1102.5 1294.7h8M864.6 1203.3V1299.7M860.6 1203.3h8M860.6 1299.7h8M913.0 1192.0V1243.8M909.0 1192.0h8M909.0 1243.8h8M961.4 1241.5V1266.1M957.4 1241.5h8M957.4 1266.1h8M1009.7 1227.7V1248.6M1005.7 1227.7h8M1005.7 1248.6h8M1058.1 1188.4V1222.4M1054.1 1188.4h8M1054.1 1222.4h8M1106.5 1208.1V1221.5M1102.5 1208.1h8M1102.5 1221.5h8" stroke="#7a7a7a" stroke-width="2" fill="none"/>
<polyline points="864.6,1251.5 913.0,1278.7 961.4,1280.8 1009.7,1290.3 1058.1,1283.1 1106.5,1288.5" fill="none" stroke="#1c1c1c" stroke-width="2.3" stroke-linejoin="round"/>
<rect x="860.6" y="1247.5" width="8.0" height="8.0" fill="#000"/>
<rect x="909.0" y="1274.7" width="8.0" height="8.0" fill="#000"/>
<rect x="957.4" y="1276.8" width="8.0" height="8.0" fill="#000"/>
<rect x="1005.7" y="1286.3" width="8.0" height="8.0" fill="#000"/>
<rect x="1054.1" y="1279.1" width="8.0" height="8.0" fill="#000"/>
<rect x="1102.5" y="1284.5" width="8.0" height="8.0" fill="#000"/>
<polyline points="864.6,1251.5 913.0,1218.3 961.4,1253.3 1009.7,1237.2 1058.1,1205.0 1106.5,1214.7" fill="none" stroke="#ee1c2c" stroke-width="2.7" stroke-dasharray="9 6.5" stroke-linejoin="round"/>
<circle cx="864.6" cy="1251.5" r="4.3" fill="#ff0000"/>
<circle cx="913.0" cy="1218.3" r="4.3" fill="#ff0000"/>
<circle cx="961.4" cy="1253.3" r="4.3" fill="#ff0000"/>
<circle cx="1009.7" cy="1237.2" r="4.3" fill="#ff0000"/>
<circle cx="1058.1" cy="1205.0" r="4.3" fill="#ff0000"/>
<circle cx="1106.5" cy="1214.7" r="4.3" fill="#ff0000"/>
<g stroke="#1f5f84" stroke-width="2.8" fill="none">
<line x1="92.4" y1="1427.4" x2="92.4" y2="1613.3"/>
<line x1="91.0" y1="1611.9" x2="394.4" y2="1611.9"/>
</g>
<path d="M87.4 1428.4H92.4M87.4 1465.1H92.4M87.4 1501.8H92.4M87.4 1538.5H92.4M87.4 1575.2H92.4M87.4 1611.9H92.4M92.4 1611.9V1616.9M142.6 1611.9V1616.9M192.7 1611.9V1616.9M242.9 1611.9V1616.9M293.1 1611.9V1616.9M343.2 1611.9V1616.9M393.4 1611.9V1616.9" stroke="#1a2333" stroke-width="2.6" fill="none"/>
<text x="56.2" y="1433.1" font-family='"Liberation Serif", serif' font-size="14.0" font-weight="bold" fill="#000" text-anchor="start" textLength="22.8" lengthAdjust="spacingAndGlyphs" stroke="#000" stroke-width="0.55">0.1</text>
<text x="47.1" y="1469.8" font-family='"Liberation Serif", serif' font-size="14.0" font-weight="bold" fill="#000" text-anchor="start" textLength="31.8" lengthAdjust="spacingAndGlyphs" stroke="#000" stroke-width="0.55">0.08</text>
<text x="47.1" y="1506.5" font-family='"Liberation Serif", serif' font-size="14.0" font-weight="bold" fill="#000" text-anchor="start" textLength="31.8" lengthAdjust="spacingAndGlyphs" stroke="#000" stroke-width="0.55">0.06</text>
<text x="47.1" y="1543.2" font-family='"Liberation Serif", serif' font-size="14.0" font-weight="bold" fill="#000" text-anchor="start" textLength="31.8" lengthAdjust="spacingAndGlyphs" stroke="#000" stroke-width="0.55">0.04</text>
<text x="47.1" y="1579.9" font-family='"Liberation Serif", serif' font-size="14.0" font-weight="bold" fill="#000" text-anchor="start" textLength="31.8" lengthAdjust="spacingAndGlyphs" stroke="#000" stroke-width="0.55">0.02</text>
<text x="69.8" y="1616.6" font-family='"Liberation Serif", serif' font-size="14.0" font-weight="bold" fill="#000" text-anchor="start" textLength="9.1" lengthAdjust="spacingAndGlyphs" stroke="#000" stroke-width="0.55">0</text>
<text x="108.4" y="1640.4" font-family='"Liberation Serif", serif' font-size="12.5" font-weight="bold" fill="#000" text-anchor="start" textLength="18.2" lengthAdjust="spacingAndGlyphs" stroke="#000" stroke-width="0.50">0d</text>
<text x="158.5" y="1640.4" font-family='"Liberation Serif", serif' font-size="12.5" font-weight="bold" fill="#000" text-anchor="start" textLength="18.2" lengthAdjust="spacingAndGlyphs" stroke="#000" stroke-width="0.50">3d</text>
<text x="208.7" y="1640.4" font-family='"Liberation Serif", serif' font-size="12.5" font-weight="bold" fill="#000" text-anchor="start" textLength="18.2" lengthAdjust="spacingAndGlyphs" stroke="#000" stroke-width="0.50">6d</text>
<text x="254.6" y="1640.4" font-family='"Liberation Serif", serif' font-size="12.5" font-weight="bold" fill="#000" text-anchor="start" textLength="26.8" lengthAdjust="spacingAndGlyphs" stroke="#000" stroke-width="0.50">12d</text>
<text x="304.7" y="1640.4" font-family='"Liberation Serif", serif' font-size="12.5" font-weight="bold" fill="#000" text-anchor="start" textLength="26.8" lengthAdjust="spacingAndGlyphs" stroke="#000" stroke-width="0.50">18d</text>
<text x="354.9" y="1640.4" font-family='"Liberation Serif", serif' font-size="12.5" font-weight="bold" fill="#000" text-anchor="start" textLength="26.8" lengthAdjust="spacingAndGlyphs" stroke="#000" stroke-width="0.50">24d</text>
<text x="221.4" y="1656.4" font-family='"Liberation Serif", serif' font-size="17.0" font-weight="bold" fill="#000" text-anchor="start" textLength="47.0" lengthAdjust="spacingAndGlyphs" stroke="#000" stroke-width="0.45">Time</text>
<text transform="translate(43.5,1584.8) rotate(-90)" font-family='"Liberation Serif", serif' font-size="25.6" font-weight="bold" stroke="#000" stroke-width="0.55" textLength="139.5" lengthAdjust="spacingAndGlyphs">Relative Intensity</text>
<text x="145.1" y="1422.2" font-family='"Liberation Sans", sans-serif' font-size="17.8" font-weight="bold" fill="#000" text-anchor="start" textLength="198.3" lengthAdjust="spacingAndGlyphs" stroke="#000" stroke-width="0.60">Methylmalonic acid</text>
<line x1="100.4" y1="1439.1" x2="146.8" y2="1439.1" stroke="#1c1c1c" stroke-width="2.3"/>
<rect x="119.9" y="1435.4" width="7.4" height="7.4" fill="#000"/>
<path d="M100.4 1463.6h9.0M137.8 1463.6h9.0" stroke="#ee1c2c" stroke-width="2.7" fill="none"/>
<circle cx="123.6" cy="1463.6" r="4.3" fill="#ff0000"/>
<text x="153.1" y="1444.1" font-family='"Liberation Serif", serif' font-size="13.5" font-weight="bold" fill="#000" text-anchor="start" textLength="59.5" lengthAdjust="spacingAndGlyphs" stroke="#000" stroke-width="0.55">Control</text>
<text x="154.0" y="1468.9" font-family='"Liberation Serif", serif' font-size="13.5" font-weight="bold" fill="#000" text-anchor="start" textLength="80.0" lengthAdjust="spacingAndGlyphs" stroke="#000" stroke-width="0.55">Treatment</text>
<path d="M167.7 1538.6V1572.2M163.7 1538.6h8M163.7 1572.2h8M268.0 1563.7V1577.6M264.0 1563.7h8M264.0 1577.6h8M318.1 1545.1V1572.2M314.1 1545.1h8M314.1 1572.2h8M117.5 1504.0V1521.8M113.5 1504.0h8M113.5 1521.8h8M167.7 1477.5V1495.0M163.7 1477.5h8M163.7 1495.0h8M217.8 1499.0V1520.0M213.8 1499.0h8M213.8 1520.0h8M268.0 1484.7V1507.6M264.0 1484.7h8M264.0 1507.6h8M318.1 1479.0V1497.2M314.1 1479.0h8M314.1 1497.2h8" stroke="#7a7a7a" stroke-width="2" fill="none"/>
<polyline points="117.5,1512.4 167.7,1555.3 217.8,1566.0 268.0,1570.4 318.1,1558.3 368.3,1570.8" fill="none" stroke="#1c1c1c" stroke-width="2.3" stroke-linejoin="round"/>
<rect x="113.5" y="1508.4" width="8.0" height="8.0" fill="#000"/>
<rect x="163.7" y="1551.3" width="8.0" height="8.0" fill="#000"/>
<rect x="213.8" y="1562.0" width="8.0" height="8.0" fill="#000"/>
<rect x="264.0" y="1566.4" width="8.0" height="8.0" fill="#000"/>
<rect x="314.1" y="1554.3" width="8.0" height="8.0" fill="#000"/>
<rect x="364.3" y="1566.8" width="8.0" height="8.0" fill="#000"/>
<polyline points="117.5,1512.9 167.7,1486.5 217.8,1509.3 268.0,1495.8 318.1,1487.9 368.3,1465.0" fill="none" stroke="#ee1c2c" stroke-width="2.7" stroke-dasharray="9 6.5" stroke-linejoin="round"/>
<circle cx="117.5" cy="1512.9" r="4.3" fill="#ff0000"/>
<circle cx="167.7" cy="1486.5" r="4.3" fill="#ff0000"/>
<circle cx="217.8" cy="1509.3" r="4.3" fill="#ff0000"/>
<circle cx="268.0" cy="1495.8" r="4.3" fill="#ff0000"/>
<circle cx="318.1" cy="1487.9" r="4.3" fill="#ff0000"/>
<circle cx="368.3" cy="1465.0" r="4.3" fill="#ff0000"/>
<g stroke="#1f5f84" stroke-width="2.8" fill="none">
<line x1="471.3" y1="1427.4" x2="471.3" y2="1612.9"/>
<line x1="469.9" y1="1611.5" x2="771.5" y2="1611.5"/>
</g>
<path d="M466.3 1442.2H471.3M466.3 1498.6H471.3M466.3 1555.1H471.3M466.3 1611.5H471.3M471.3 1611.5V1616.5M521.2 1611.5V1616.5M571.0 1611.5V1616.5M620.9 1611.5V1616.5M670.8 1611.5V1616.5M720.6 1611.5V1616.5M770.5 1611.5V1616.5" stroke="#1a2333" stroke-width="2.6" fill="none"/>
<text x="416.9" y="1446.9" font-family='"Liberation Serif", serif' font-size="14.0" font-weight="bold" fill="#000" text-anchor="start" textLength="40.9" lengthAdjust="spacingAndGlyphs" stroke="#000" stroke-width="0.55">0.012</text>
<text x="416.9" y="1503.3" font-family='"Liberation Serif", serif' font-size="14.0" font-weight="bold" fill="#000" text-anchor="start" textLength="40.9" lengthAdjust="spacingAndGlyphs" stroke="#000" stroke-width="0.55">0.008</text>
<text x="416.9" y="1559.8" font-family='"Liberation Serif", serif' font-size="14.0" font-weight="bold" fill="#000" text-anchor="start" textLength="40.9" lengthAdjust="spacingAndGlyphs" stroke="#000" stroke-width="0.55">0.004</text>
<text x="448.7" y="1616.2" font-family='"Liberation Serif", serif' font-size="14.0" font-weight="bold" fill="#000" text-anchor="start" textLength="9.1" lengthAdjust="spacingAndGlyphs" stroke="#000" stroke-width="0.55">0</text>
<text x="487.1" y="1640.0" font-family='"Liberation Serif", serif' font-size="12.5" font-weight="bold" fill="#000" text-anchor="start" textLength="18.2" lengthAdjust="spacingAndGlyphs" stroke="#000" stroke-width="0.50">0d</text>
<text x="537.0" y="1640.0" font-family='"Liberation Serif", serif' font-size="12.5" font-weight="bold" fill="#000" text-anchor="start" textLength="18.2" lengthAdjust="spacingAndGlyphs" stroke="#000" stroke-width="0.50">3d</text>
<text x="586.9" y="1640.0" font-family='"Liberation Serif", serif' font-size="12.5" font-weight="bold" fill="#000" text-anchor="start" textLength="18.2" lengthAdjust="spacingAndGlyphs" stroke="#000" stroke-width="0.50">6d</text>
<text x="632.4" y="1640.0" font-family='"Liberation Serif", serif' font-size="12.5" font-weight="bold" fill="#000" text-anchor="start" textLength="26.8" lengthAdjust="spacingAndGlyphs" stroke="#000" stroke-width="0.50">12d</text>
<text x="682.3" y="1640.0" font-family='"Liberation Serif", serif' font-size="12.5" font-weight="bold" fill="#000" text-anchor="start" textLength="26.8" lengthAdjust="spacingAndGlyphs" stroke="#000" stroke-width="0.50">18d</text>
<text x="732.1" y="1640.0" font-family='"Liberation Serif", serif' font-size="12.5" font-weight="bold" fill="#000" text-anchor="start" textLength="26.8" lengthAdjust="spacingAndGlyphs" stroke="#000" stroke-width="0.50">24d</text>
<text x="599.4" y="1656.0" font-family='"Liberation Serif", serif' font-size="17.0" font-weight="bold" fill="#000" text-anchor="start" textLength="47.0" lengthAdjust="spacingAndGlyphs" stroke="#000" stroke-width="0.45">Time</text>
<text transform="translate(420.9,1584.8) rotate(-90)" font-family='"Liberation Serif", serif' font-size="23.1" font-weight="bold" stroke="#000" stroke-width="0.55" textLength="149.4" lengthAdjust="spacingAndGlyphs">Relative Intensity</text>
<text x="507.9" y="1422.2" font-family='"Liberation Sans", sans-serif' font-size="17.8" font-weight="bold" fill="#000" text-anchor="start" textLength="215.3" lengthAdjust="spacingAndGlyphs" stroke="#000" stroke-width="0.60">Cis,cis-muconic acid</text>
<line x1="479.3" y1="1439.5" x2="524.0" y2="1439.5" stroke="#1c1c1c" stroke-width="2.3"/>
<rect x="497.9" y="1435.8" width="7.4" height="7.4" fill="#000"/>
<path d="M479.3 1463.6h9.0M515.0 1463.6h9.0" stroke="#ee1c2c" stroke-width="2.7" fill="none"/>
<circle cx="501.6" cy="1463.6" r="4.3" fill="#ff0000"/>
<text x="531.1" y="1444.5" font-family='"Liberation Serif", serif' font-size="13.5" font-weight="bold" fill="#000" text-anchor="start" textLength="59.5" lengthAdjust="spacingAndGlyphs" stroke="#000" stroke-width="0.55">Control</text>
<text x="532.0" y="1468.9" font-family='"Liberation Serif", serif' font-size="13.5" font-weight="bold" fill="#000" text-anchor="start" textLength="80.0" lengthAdjust="spacingAndGlyphs" stroke="#000" stroke-width="0.55">Treatment</text>
<path d="M546.1 1498.6V1530.2M542.1 1498.6h8M542.1 1530.2h8M596.0 1498.6V1543.3M592.0 1498.6h8M592.0 1543.3h8M645.8 1523.1V1560.6M641.8 1523.1h8M641.8 1560.6h8M695.7 1583.0V1595.4M691.7 1583.0h8M691.7 1595.4h8M745.6 1457.0V1511.5M741.6 1457.0h8M741.6 1511.5h8M496.2 1507.6V1604.4M492.2 1507.6h8M492.2 1604.4h8M546.1 1551.1V1589.7M542.1 1551.1h8M542.1 1589.7h8M596.0 1535.0V1576.0M592.0 1535.0h8M592.0 1576.0h8M645.8 1568.7V1593.3M641.8 1568.7h8M641.8 1593.3h8" stroke="#7a7a7a" stroke-width="2" fill="none"/>
<polyline points="496.2,1555.8 546.1,1514.7 596.0,1520.1 645.8,1541.5 695.7,1587.4 745.6,1484.3" fill="none" stroke="#1c1c1c" stroke-width="2.3" stroke-linejoin="round"/>
<rect x="492.2" y="1551.8" width="8.0" height="8.0" fill="#000"/>
<rect x="542.1" y="1510.7" width="8.0" height="8.0" fill="#000"/>
<rect x="592.0" y="1516.1" width="8.0" height="8.0" fill="#000"/>
<rect x="641.8" y="1537.5" width="8.0" height="8.0" fill="#000"/>
<rect x="691.7" y="1583.4" width="8.0" height="8.0" fill="#000"/>
<rect x="741.6" y="1480.3" width="8.0" height="8.0" fill="#000"/>
<polyline points="496.2,1555.8 546.1,1570.1 596.0,1549.4 645.8,1581.5 695.7,1605.3 745.6,1589.2" fill="none" stroke="#ee1c2c" stroke-width="2.7" stroke-dasharray="9 6.5" stroke-linejoin="round"/>
<circle cx="496.2" cy="1555.8" r="4.3" fill="#ff0000"/>
<circle cx="546.1" cy="1570.1" r="4.3" fill="#ff0000"/>
<circle cx="596.0" cy="1549.4" r="4.3" fill="#ff0000"/>
<circle cx="645.8" cy="1581.5" r="4.3" fill="#ff0000"/>
<circle cx="695.7" cy="1605.3" r="4.3" fill="#ff0000"/>
<circle cx="745.6" cy="1589.2" r="4.3" fill="#ff0000"/>
<g stroke="#1f5f84" stroke-width="2.8" fill="none">
<line x1="841.3" y1="1427.4" x2="841.3" y2="1613.3"/>
<line x1="839.9" y1="1611.9" x2="1132.6" y2="1611.9"/>
</g>
<path d="M836.3 1428.4H841.3M836.3 1489.6H841.3M836.3 1550.7H841.3M836.3 1611.9H841.3M841.3 1611.9V1616.9M889.7 1611.9V1616.9M938.1 1611.9V1616.9M986.4 1611.9V1616.9M1034.8 1611.9V1616.9M1083.2 1611.9V1616.9M1131.6 1611.9V1616.9" stroke="#1a2333" stroke-width="2.6" fill="none"/>
<text x="786.8" y="1433.1" font-family='"Liberation Serif", serif' font-size="14.0" font-weight="bold" fill="#000" text-anchor="start" textLength="40.9" lengthAdjust="spacingAndGlyphs" stroke="#000" stroke-width="0.55">0.012</text>
<text x="786.8" y="1494.3" font-family='"Liberation Serif", serif' font-size="14.0" font-weight="bold" fill="#000" text-anchor="start" textLength="40.9" lengthAdjust="spacingAndGlyphs" stroke="#000" stroke-width="0.55">0.008</text>
<text x="786.8" y="1555.4" font-family='"Liberation Serif", serif' font-size="14.0" font-weight="bold" fill="#000" text-anchor="start" textLength="40.9" lengthAdjust="spacingAndGlyphs" stroke="#000" stroke-width="0.55">0.004</text>
<text x="818.7" y="1616.6" font-family='"Liberation Serif", serif' font-size="14.0" font-weight="bold" fill="#000" text-anchor="start" textLength="9.1" lengthAdjust="spacingAndGlyphs" stroke="#000" stroke-width="0.55">0</text>
<text x="856.4" y="1640.4" font-family='"Liberation Serif", serif' font-size="12.5" font-weight="bold" fill="#000" text-anchor="start" textLength="18.2" lengthAdjust="spacingAndGlyphs" stroke="#000" stroke-width="0.50">0d</text>
<text x="904.8" y="1640.4" font-family='"Liberation Serif", serif' font-size="12.5" font-weight="bold" fill="#000" text-anchor="start" textLength="18.2" lengthAdjust="spacingAndGlyphs" stroke="#000" stroke-width="0.50">3d</text>
<text x="953.1" y="1640.4" font-family='"Liberation Serif", serif' font-size="12.5" font-weight="bold" fill="#000" text-anchor="start" textLength="18.2" lengthAdjust="spacingAndGlyphs" stroke="#000" stroke-width="0.50">6d</text>
<text x="997.2" y="1640.4" font-family='"Liberation Serif", serif' font-size="12.5" font-weight="bold" fill="#000" text-anchor="start" textLength="26.8" lengthAdjust="spacingAndGlyphs" stroke="#000" stroke-width="0.50">12d</text>
<text x="1045.6" y="1640.4" font-family='"Liberation Serif", serif' font-size="12.5" font-weight="bold" fill="#000" text-anchor="start" textLength="26.8" lengthAdjust="spacingAndGlyphs" stroke="#000" stroke-width="0.50">18d</text>
<text x="1094.0" y="1640.4" font-family='"Liberation Serif", serif' font-size="12.5" font-weight="bold" fill="#000" text-anchor="start" textLength="26.8" lengthAdjust="spacingAndGlyphs" stroke="#000" stroke-width="0.50">24d</text>
<text x="964.9" y="1656.4" font-family='"Liberation Serif", serif' font-size="17.0" font-weight="bold" fill="#000" text-anchor="start" textLength="47.0" lengthAdjust="spacingAndGlyphs" stroke="#000" stroke-width="0.45">Time</text>
<text transform="translate(780.3,1584.8) rotate(-90)" font-family='"Liberation Serif", serif' font-size="22.0" font-weight="bold" stroke="#000" stroke-width="0.55" textLength="139.5" lengthAdjust="spacingAndGlyphs">Relative Intensity</text>
<text x="929.7" y="1422.2" font-family='"Liberation Sans", sans-serif' font-size="17.8" font-weight="bold" fill="#000" text-anchor="start" textLength="117.9" lengthAdjust="spacingAndGlyphs" stroke="#000" stroke-width="0.60">Ferulic acid</text>
<line x1="846.6" y1="1439.5" x2="892.2" y2="1439.5" stroke="#1c1c1c" stroke-width="2.3"/>
<rect x="865.7" y="1435.8" width="7.4" height="7.4" fill="#000"/>
<path d="M846.6 1463.2h9.0M883.2 1463.2h9.0" stroke="#ee1c2c" stroke-width="2.7" fill="none"/>
<circle cx="869.4" cy="1463.2" r="4.3" fill="#ff0000"/>
<text x="898.5" y="1444.5" font-family='"Liberation Serif", serif' font-size="13.5" font-weight="bold" fill="#000" text-anchor="start" textLength="59.5" lengthAdjust="spacingAndGlyphs" stroke="#000" stroke-width="0.55">Control</text>
<text x="899.4" y="1468.5" font-family='"Liberation Serif", serif' font-size="13.5" font-weight="bold" fill="#000" text-anchor="start" textLength="80.0" lengthAdjust="spacingAndGlyphs" stroke="#000" stroke-width="0.55">Treatment</text>
<path d="M913.9 1485.6V1509.3M909.9 1485.6h8M909.9 1509.3h8M962.3 1490.0V1522.0M958.3 1490.0h8M958.3 1522.0h8M1010.6 1457.9V1480.2M1006.6 1457.9h8M1006.6 1480.2h8M1059.0 1472.5V1509.3M1055.0 1472.5h8M1055.0 1509.3h8M1107.4 1475.4V1505.4M1103.4 1475.4h8M1103.4 1505.4h8M865.5 1481.1V1577.6M861.5 1481.1h8M861.5 1577.6h8M913.9 1509.3V1599.0M909.9 1509.3h8M909.9 1599.0h8M962.3 1493.6V1539.2M958.3 1493.6h8M958.3 1539.2h8M1010.6 1490.9V1544.5M1006.6 1490.9h8M1006.6 1544.5h8M1059.0 1536.9V1575.4M1055.0 1536.9h8M1055.0 1575.4h8M1107.4 1487.9V1524.0M1103.4 1487.9h8M1103.4 1524.0h8" stroke="#7a7a7a" stroke-width="2" fill="none"/>
<polyline points="865.5,1529.0 913.9,1496.3 962.3,1505.8 1010.6,1468.6 1059.0,1490.4 1107.4,1490.4" fill="none" stroke="#1c1c1c" stroke-width="2.3" stroke-linejoin="round"/>
<rect x="861.5" y="1525.0" width="8.0" height="8.0" fill="#000"/>
<rect x="909.9" y="1492.3" width="8.0" height="8.0" fill="#000"/>
<rect x="958.3" y="1501.8" width="8.0" height="8.0" fill="#000"/>
<rect x="1006.6" y="1464.6" width="8.0" height="8.0" fill="#000"/>
<rect x="1055.0" y="1486.4" width="8.0" height="8.0" fill="#000"/>
<rect x="1103.4" y="1486.4" width="8.0" height="8.0" fill="#000"/>
<polyline points="865.5,1529.0 913.9,1546.9 962.3,1513.6 1010.6,1517.7 1059.0,1555.3 1107.4,1505.8" fill="none" stroke="#ee1c2c" stroke-width="2.7" stroke-dasharray="9 6.5" stroke-linejoin="round"/>
<circle cx="865.5" cy="1529.0" r="4.3" fill="#ff0000"/>
<circle cx="913.9" cy="1546.9" r="4.3" fill="#ff0000"/>
<circle cx="962.3" cy="1513.6" r="4.3" fill="#ff0000"/>
<circle cx="1010.6" cy="1517.7" r="4.3" fill="#ff0000"/>
<circle cx="1059.0" cy="1555.3" r="4.3" fill="#ff0000"/>
<circle cx="1107.4" cy="1505.8" r="4.3" fill="#ff0000"/>
<g stroke="#1f5f84" stroke-width="2.8" fill="none">
<line x1="1227.9" y1="82.6" x2="1227.9" y2="229.3"/>
<line x1="1226.5" y1="227.9" x2="1518.6" y2="227.9"/>
</g>
<path d="M1222.9 83.6H1227.9M1222.9 119.7H1227.9M1222.9 155.7H1227.9M1222.9 191.8H1227.9M1222.9 227.9H1227.9M1227.9 227.9V232.9M1276.2 227.9V232.9M1324.5 227.9V232.9M1372.8 227.9V232.9M1421.0 227.9V232.9M1469.3 227.9V232.9M1517.6 227.9V232.9" stroke="#1a2333" stroke-width="2.6" fill="none"/>
<text x="1173.5" y="87.6" font-family='"Liberation Serif", serif' font-size="12.0" font-weight="bold" fill="#000" text-anchor="start" textLength="40.9" lengthAdjust="spacingAndGlyphs" stroke="#000" stroke-width="0.55">0.016</text>
<text x="1173.5" y="123.7" font-family='"Liberation Serif", serif' font-size="12.0" font-weight="bold" fill="#000" text-anchor="start" textLength="40.9" lengthAdjust="spacingAndGlyphs" stroke="#000" stroke-width="0.55">0.012</text>
<text x="1173.5" y="159.7" font-family='"Liberation Serif", serif' font-size="12.0" font-weight="bold" fill="#000" text-anchor="start" textLength="40.9" lengthAdjust="spacingAndGlyphs" stroke="#000" stroke-width="0.55">0.008</text>
<text x="1173.5" y="195.8" font-family='"Liberation Serif", serif' font-size="12.0" font-weight="bold" fill="#000" text-anchor="start" textLength="40.9" lengthAdjust="spacingAndGlyphs" stroke="#000" stroke-width="0.55">0.004</text>
<text x="1205.3" y="231.9" font-family='"Liberation Serif", serif' font-size="12.0" font-weight="bold" fill="#000" text-anchor="start" textLength="9.1" lengthAdjust="spacingAndGlyphs" stroke="#000" stroke-width="0.55">0</text>
<text x="1243.7" y="250.9" font-family='"Liberation Serif", serif' font-size="11.5" font-weight="bold" fill="#000" text-anchor="start" textLength="16.8" lengthAdjust="spacingAndGlyphs" stroke="#000" stroke-width="0.50">0d</text>
<text x="1291.9" y="250.9" font-family='"Liberation Serif", serif' font-size="11.5" font-weight="bold" fill="#000" text-anchor="start" textLength="16.8" lengthAdjust="spacingAndGlyphs" stroke="#000" stroke-width="0.50">3d</text>
<text x="1340.2" y="250.9" font-family='"Liberation Serif", serif' font-size="11.5" font-weight="bold" fill="#000" text-anchor="start" textLength="16.8" lengthAdjust="spacingAndGlyphs" stroke="#000" stroke-width="0.50">6d</text>
<text x="1384.5" y="250.9" font-family='"Liberation Serif", serif' font-size="11.5" font-weight="bold" fill="#000" text-anchor="start" textLength="24.7" lengthAdjust="spacingAndGlyphs" stroke="#000" stroke-width="0.50">12d</text>
<text x="1432.8" y="250.9" font-family='"Liberation Serif", serif' font-size="11.5" font-weight="bold" fill="#000" text-anchor="start" textLength="24.7" lengthAdjust="spacingAndGlyphs" stroke="#000" stroke-width="0.50">18d</text>
<text x="1481.1" y="250.9" font-family='"Liberation Serif", serif' font-size="11.5" font-weight="bold" fill="#000" text-anchor="start" textLength="24.7" lengthAdjust="spacingAndGlyphs" stroke="#000" stroke-width="0.50">24d</text>
<text x="1351.2" y="263.2" font-family='"Liberation Serif", serif' font-size="14.0" font-weight="bold" fill="#000" text-anchor="start" textLength="47.0" lengthAdjust="spacingAndGlyphs" stroke="#000" stroke-width="0.45">Time</text>
<text transform="translate(1168.4,207.1) rotate(-90)" font-family='"Liberation Serif", serif' font-size="23.1" font-weight="bold" stroke="#000" stroke-width="0.55" textLength="111.4" lengthAdjust="spacingAndGlyphs">Relative Intensity</text>
<text x="1309.7" y="76.3" font-family='"Liberation Sans", sans-serif' font-size="14.3" font-weight="bold" fill="#000" text-anchor="start" textLength="113.7" lengthAdjust="spacingAndGlyphs" stroke="#000" stroke-width="0.60">Danshensu</text>
<line x1="1236.7" y1="91.1" x2="1281.7" y2="91.1" stroke="#1c1c1c" stroke-width="2.0"/>
<rect x="1255.9" y="87.8" width="6.6" height="6.6" fill="#000"/>
<path d="M1236.7 110.3h9.0M1272.7 110.3h9.0" stroke="#ee1c2c" stroke-width="2.4" fill="none"/>
<circle cx="1259.2" cy="110.3" r="3.8" fill="#ff0000"/>
<text x="1288.5" y="96.1" font-family='"Liberation Serif", serif' font-size="13.5" font-weight="bold" fill="#000" text-anchor="start" textLength="59.5" lengthAdjust="spacingAndGlyphs" stroke="#000" stroke-width="0.55">Control</text>
<text x="1289.4" y="115.6" font-family='"Liberation Serif", serif' font-size="13.5" font-weight="bold" fill="#000" text-anchor="start" textLength="80.0" lengthAdjust="spacingAndGlyphs" stroke="#000" stroke-width="0.55">Treatment</text>
<path d="M1300.3 136.6V152.7M1296.3 136.6h8M1296.3 152.7h8M1348.6 136.6V155.0M1344.6 136.6h8M1344.6 155.0h8M1396.9 145.9V156.1M1392.9 145.9h8M1392.9 156.1h8M1445.2 152.2V179.0M1441.2 152.2h8M1441.2 179.0h8M1493.5 122.6V134.9M1489.5 122.6h8M1489.5 134.9h8M1252.0 133.2V198.5M1248.0 133.2h8M1248.0 198.5h8M1300.3 152.7V196.0M1296.3 152.7h8M1296.3 196.0h8M1348.6 145.0V176.0M1344.6 145.0h8M1344.6 176.0h8M1396.9 168.8V179.8M1392.9 168.8h8M1392.9 179.8h8M1445.2 179.0V203.6M1441.2 179.0h8M1441.2 203.6h8" stroke="#7a7a7a" stroke-width="2" fill="none"/>
<polyline points="1252.0,165.4 1300.3,144.2 1348.6,145.9 1396.9,149.8 1445.2,165.1 1493.5,128.1" fill="none" stroke="#1c1c1c" stroke-width="2.0" stroke-linejoin="round"/>
<rect x="1248.4" y="161.8" width="7.2" height="7.2" fill="#000"/>
<rect x="1296.7" y="140.6" width="7.2" height="7.2" fill="#000"/>
<rect x="1345.0" y="142.3" width="7.2" height="7.2" fill="#000"/>
<rect x="1393.3" y="146.2" width="7.2" height="7.2" fill="#000"/>
<rect x="1441.6" y="161.5" width="7.2" height="7.2" fill="#000"/>
<rect x="1489.9" y="124.5" width="7.2" height="7.2" fill="#000"/>
<polyline points="1252.0,165.4 1300.3,175.6 1348.6,157.3 1396.9,173.9 1445.2,190.9 1493.5,185.4" fill="none" stroke="#ee1c2c" stroke-width="2.4" stroke-dasharray="9 6.5" stroke-linejoin="round"/>
<circle cx="1252.0" cy="165.4" r="3.8" fill="#ff0000"/>
<circle cx="1300.3" cy="175.6" r="3.8" fill="#ff0000"/>
<circle cx="1348.6" cy="157.3" r="3.8" fill="#ff0000"/>
<circle cx="1396.9" cy="173.9" r="3.8" fill="#ff0000"/>
<circle cx="1445.2" cy="190.9" r="3.8" fill="#ff0000"/>
<circle cx="1493.5" cy="185.4" r="3.8" fill="#ff0000"/>
<g stroke="#1f5f84" stroke-width="2.8" fill="none">
<line x1="1588.1" y1="82.9" x2="1588.1" y2="229.3"/>
<line x1="1586.7" y1="227.9" x2="1889.0" y2="227.9"/>
</g>
<path d="M1583.1 83.9H1588.1M1583.1 131.9H1588.1M1583.1 179.9H1588.1M1583.1 227.9H1588.1M1588.1 227.9V232.9M1638.1 227.9V232.9M1688.1 227.9V232.9M1738.0 227.9V232.9M1788.0 227.9V232.9M1838.0 227.9V232.9M1888.0 227.9V232.9" stroke="#1a2333" stroke-width="2.6" fill="none"/>
<text x="1542.8" y="87.9" font-family='"Liberation Serif", serif' font-size="12.0" font-weight="bold" fill="#000" text-anchor="start" textLength="31.8" lengthAdjust="spacingAndGlyphs" stroke="#000" stroke-width="0.55">0.06</text>
<text x="1542.8" y="135.9" font-family='"Liberation Serif", serif' font-size="12.0" font-weight="bold" fill="#000" text-anchor="start" textLength="31.8" lengthAdjust="spacingAndGlyphs" stroke="#000" stroke-width="0.55">0.04</text>
<text x="1542.8" y="183.9" font-family='"Liberation Serif", serif' font-size="12.0" font-weight="bold" fill="#000" text-anchor="start" textLength="31.8" lengthAdjust="spacingAndGlyphs" stroke="#000" stroke-width="0.55">0.02</text>
<text x="1565.5" y="231.9" font-family='"Liberation Serif", serif' font-size="12.0" font-weight="bold" fill="#000" text-anchor="start" textLength="9.1" lengthAdjust="spacingAndGlyphs" stroke="#000" stroke-width="0.55">0</text>
<text x="1604.7" y="250.9" font-family='"Liberation Serif", serif' font-size="11.5" font-weight="bold" fill="#000" text-anchor="start" textLength="16.8" lengthAdjust="spacingAndGlyphs" stroke="#000" stroke-width="0.50">0d</text>
<text x="1654.7" y="250.9" font-family='"Liberation Serif", serif' font-size="11.5" font-weight="bold" fill="#000" text-anchor="start" textLength="16.8" lengthAdjust="spacingAndGlyphs" stroke="#000" stroke-width="0.50">3d</text>
<text x="1704.7" y="250.9" font-family='"Liberation Serif", serif' font-size="11.5" font-weight="bold" fill="#000" text-anchor="start" textLength="16.8" lengthAdjust="spacingAndGlyphs" stroke="#000" stroke-width="0.50">6d</text>
<text x="1750.7" y="250.9" font-family='"Liberation Serif", serif' font-size="11.5" font-weight="bold" fill="#000" text-anchor="start" textLength="24.7" lengthAdjust="spacingAndGlyphs" stroke="#000" stroke-width="0.50">12d</text>
<text x="1800.7" y="250.9" font-family='"Liberation Serif", serif' font-size="11.5" font-weight="bold" fill="#000" text-anchor="start" textLength="24.7" lengthAdjust="spacingAndGlyphs" stroke="#000" stroke-width="0.50">18d</text>
<text x="1850.7" y="250.9" font-family='"Liberation Serif", serif' font-size="11.5" font-weight="bold" fill="#000" text-anchor="start" textLength="24.7" lengthAdjust="spacingAndGlyphs" stroke="#000" stroke-width="0.50">24d</text>
<text x="1716.5" y="263.2" font-family='"Liberation Serif", serif' font-size="14.0" font-weight="bold" fill="#000" text-anchor="start" textLength="47.0" lengthAdjust="spacingAndGlyphs" stroke="#000" stroke-width="0.45">Time</text>
<text transform="translate(1538.4,207.1) rotate(-90)" font-family='"Liberation Serif", serif' font-size="23.1" font-weight="bold" stroke="#000" stroke-width="0.55" textLength="111.4" lengthAdjust="spacingAndGlyphs">Relative Intensity</text>
<text x="1681.4" y="75.5" font-family='"Liberation Sans", sans-serif' font-size="14.3" font-weight="bold" fill="#000" text-anchor="start" textLength="118.8" lengthAdjust="spacingAndGlyphs" stroke="#000" stroke-width="0.60">Caffeic acid</text>
<line x1="1595.7" y1="91.6" x2="1641.5" y2="91.6" stroke="#1c1c1c" stroke-width="2.0"/>
<rect x="1615.3" y="88.3" width="6.6" height="6.6" fill="#000"/>
<path d="M1595.7 110.8h9.0M1632.5 110.8h9.0" stroke="#ee1c2c" stroke-width="2.4" fill="none"/>
<circle cx="1618.6" cy="110.8" r="3.8" fill="#ff0000"/>
<text x="1648.3" y="96.6" font-family='"Liberation Serif", serif' font-size="13.5" font-weight="bold" fill="#000" text-anchor="start" textLength="59.5" lengthAdjust="spacingAndGlyphs" stroke="#000" stroke-width="0.55">Control</text>
<text x="1649.2" y="116.1" font-family='"Liberation Serif", serif' font-size="13.5" font-weight="bold" fill="#000" text-anchor="start" textLength="80.0" lengthAdjust="spacingAndGlyphs" stroke="#000" stroke-width="0.55">Treatment</text>
<path d="M1663.1 180.7V207.5M1659.1 180.7h8M1659.1 207.5h8M1713.1 171.3V214.6M1709.1 171.3h8M1709.1 214.6h8M1763.0 184.0V218.0M1759.0 184.0h8M1759.0 218.0h8M1813.0 185.8V198.6M1809.0 185.8h8M1809.0 198.6h8M1863.0 197.7V227.4M1859.0 197.7h8M1859.0 227.4h8M1613.1 151.5V218.0M1609.1 151.5h8M1609.1 218.0h8M1663.1 141.3V165.4M1659.1 141.3h8M1659.1 165.4h8M1713.1 175.6V212.5M1709.1 175.6h8M1709.1 212.5h8M1763.0 183.7V217.2M1759.0 183.7h8M1759.0 217.2h8M1813.0 180.3V199.4M1809.0 180.3h8M1809.0 199.4h8M1863.0 194.0V205.4M1859.0 194.0h8M1859.0 205.4h8" stroke="#7a7a7a" stroke-width="2" fill="none"/>
<polyline points="1613.1,184.9 1663.1,194.3 1713.1,190.5 1763.0,201.0 1813.0,192.2 1863.0,212.1" fill="none" stroke="#1c1c1c" stroke-width="2.0" stroke-linejoin="round"/>
<rect x="1609.5" y="181.3" width="7.2" height="7.2" fill="#000"/>
<rect x="1659.5" y="190.7" width="7.2" height="7.2" fill="#000"/>
<rect x="1709.5" y="186.9" width="7.2" height="7.2" fill="#000"/>
<rect x="1759.4" y="197.4" width="7.2" height="7.2" fill="#000"/>
<rect x="1809.4" y="188.6" width="7.2" height="7.2" fill="#000"/>
<rect x="1859.4" y="208.5" width="7.2" height="7.2" fill="#000"/>
<polyline points="1613.1,184.9 1663.1,153.2 1713.1,193.9 1763.0,196.8 1813.0,190.0 1863.0,199.7" fill="none" stroke="#ee1c2c" stroke-width="2.4" stroke-dasharray="9 6.5" stroke-linejoin="round"/>
<circle cx="1613.1" cy="184.9" r="3.8" fill="#ff0000"/>
<circle cx="1663.1" cy="153.2" r="3.8" fill="#ff0000"/>
<circle cx="1713.1" cy="193.9" r="3.8" fill="#ff0000"/>
<circle cx="1763.0" cy="196.8" r="3.8" fill="#ff0000"/>
<circle cx="1813.0" cy="190.0" r="3.8" fill="#ff0000"/>
<circle cx="1863.0" cy="199.7" r="3.8" fill="#ff0000"/>
<g stroke="#0d3358" stroke-width="2.8" fill="none">
<line x1="1958.1" y1="82.1" x2="1958.1" y2="229.3"/>
<line x1="1956.7" y1="227.9" x2="2258.5" y2="227.9"/>
</g>
<path d="M1953.1 112.5H1958.1M1953.1 170.2H1958.1M1953.1 227.9H1958.1M1958.1 227.9V232.9M2008.0 227.9V232.9M2057.9 227.9V232.9M2107.8 227.9V232.9M2157.7 227.9V232.9M2207.6 227.9V232.9M2257.5 227.9V232.9" stroke="#1a2333" stroke-width="2.6" fill="none"/>
<text x="1912.8" y="116.5" font-family='"Liberation Serif", serif' font-size="12.0" font-weight="bold" fill="#000" text-anchor="start" textLength="31.8" lengthAdjust="spacingAndGlyphs" stroke="#000" stroke-width="0.55">0.02</text>
<text x="1912.8" y="174.2" font-family='"Liberation Serif", serif' font-size="12.0" font-weight="bold" fill="#000" text-anchor="start" textLength="31.8" lengthAdjust="spacingAndGlyphs" stroke="#000" stroke-width="0.55">0.01</text>
<text x="1935.5" y="231.9" font-family='"Liberation Serif", serif' font-size="12.0" font-weight="bold" fill="#000" text-anchor="start" textLength="9.1" lengthAdjust="spacingAndGlyphs" stroke="#000" stroke-width="0.55">0</text>
<text x="1974.7" y="250.9" font-family='"Liberation Serif", serif' font-size="11.5" font-weight="bold" fill="#000" text-anchor="start" textLength="16.8" lengthAdjust="spacingAndGlyphs" stroke="#000" stroke-width="0.50">0d</text>
<text x="2024.6" y="250.9" font-family='"Liberation Serif", serif' font-size="11.5" font-weight="bold" fill="#000" text-anchor="start" textLength="16.8" lengthAdjust="spacingAndGlyphs" stroke="#000" stroke-width="0.50">3d</text>
<text x="2074.5" y="250.9" font-family='"Liberation Serif", serif' font-size="11.5" font-weight="bold" fill="#000" text-anchor="start" textLength="16.8" lengthAdjust="spacingAndGlyphs" stroke="#000" stroke-width="0.50">6d</text>
<text x="2120.4" y="250.9" font-family='"Liberation Serif", serif' font-size="11.5" font-weight="bold" fill="#000" text-anchor="start" textLength="24.7" lengthAdjust="spacingAndGlyphs" stroke="#000" stroke-width="0.50">12d</text>
<text x="2170.3" y="250.9" font-family='"Liberation Serif", serif' font-size="11.5" font-weight="bold" fill="#000" text-anchor="start" textLength="24.7" lengthAdjust="spacingAndGlyphs" stroke="#000" stroke-width="0.50">18d</text>
<text x="2220.2" y="250.9" font-family='"Liberation Serif", serif' font-size="11.5" font-weight="bold" fill="#000" text-anchor="start" textLength="24.7" lengthAdjust="spacingAndGlyphs" stroke="#000" stroke-width="0.50">24d</text>
<text x="2086.3" y="263.2" font-family='"Liberation Serif", serif' font-size="14.0" font-weight="bold" fill="#000" text-anchor="start" textLength="47.0" lengthAdjust="spacingAndGlyphs" stroke="#000" stroke-width="0.45">Time</text>
<text transform="translate(1908.4,207.1) rotate(-90)" font-family='"Liberation Serif", serif' font-size="23.1" font-weight="bold" stroke="#000" stroke-width="0.55" textLength="111.4" lengthAdjust="spacingAndGlyphs">Relative Intensity</text>
<text x="2014.1" y="75.5" font-family='"Liberation Sans", sans-serif' font-size="14.3" font-weight="bold" fill="#000" text-anchor="start" textLength="163.8" lengthAdjust="spacingAndGlyphs" stroke="#000" stroke-width="0.60">Rosmarinic acid</text>
<line x1="1965.7" y1="91.1" x2="2011.5" y2="91.1" stroke="#1c1c1c" stroke-width="2.0"/>
<rect x="1985.3" y="87.8" width="6.6" height="6.6" fill="#000"/>
<path d="M1965.7 110.3h9.0M2002.5 110.3h9.0" stroke="#ee1c2c" stroke-width="2.4" fill="none"/>
<circle cx="1988.6" cy="110.3" r="3.8" fill="#ff0000"/>
<text x="2018.3" y="96.1" font-family='"Liberation Serif", serif' font-size="13.5" font-weight="bold" fill="#000" text-anchor="start" textLength="59.5" lengthAdjust="spacingAndGlyphs" stroke="#000" stroke-width="0.55">Control</text>
<text x="2019.2" y="115.6" font-family='"Liberation Serif", serif' font-size="13.5" font-weight="bold" fill="#000" text-anchor="start" textLength="80.0" lengthAdjust="spacingAndGlyphs" stroke="#000" stroke-width="0.55">Treatment</text>
<path d="M2032.9 171.3V185.4M2028.9 171.3h8M2028.9 185.4h8M2082.8 161.2V173.9M2078.8 161.2h8M2078.8 173.9h8M2132.8 156.0V166.4M2128.8 156.0h8M2128.8 166.4h8M2182.7 155.0V168.4M2178.7 155.0h8M2178.7 168.4h8M2232.6 155.3V167.1M2228.6 155.3h8M2228.6 167.1h8M1983.0 161.2V190.9M1979.0 161.2h8M1979.0 190.9h8M2032.9 146.7V162.9M2028.9 146.7h8M2028.9 162.9h8M2082.8 151.8V168.8M2078.8 151.8h8M2078.8 168.8h8M2132.8 165.4V176.4M2128.8 165.4h8M2128.8 176.4h8M2182.7 161.2V176.4M2178.7 161.2h8M2178.7 176.4h8" stroke="#7a7a7a" stroke-width="2" fill="none"/>
<polyline points="1983.0,176.4 2032.9,178.1 2082.8,167.4 2132.8,161.2 2182.7,161.7 2232.6,161.2" fill="none" stroke="#1c1c1c" stroke-width="2.0" stroke-linejoin="round"/>
<rect x="1979.5" y="172.8" width="7.2" height="7.2" fill="#000"/>
<rect x="2029.3" y="174.5" width="7.2" height="7.2" fill="#000"/>
<rect x="2079.2" y="163.8" width="7.2" height="7.2" fill="#000"/>
<rect x="2129.2" y="157.6" width="7.2" height="7.2" fill="#000"/>
<rect x="2179.1" y="158.1" width="7.2" height="7.2" fill="#000"/>
<rect x="2229.0" y="157.6" width="7.2" height="7.2" fill="#000"/>
<polyline points="1983.0,176.4 2032.9,154.9 2082.8,160.7 2132.8,170.8 2182.7,168.5 2232.6,167.1" fill="none" stroke="#ee1c2c" stroke-width="2.4" stroke-dasharray="9 6.5" stroke-linejoin="round"/>
<circle cx="1983.0" cy="176.4" r="3.8" fill="#ff0000"/>
<circle cx="2032.9" cy="154.9" r="3.8" fill="#ff0000"/>
<circle cx="2082.8" cy="160.7" r="3.8" fill="#ff0000"/>
<circle cx="2132.8" cy="170.8" r="3.8" fill="#ff0000"/>
<circle cx="2182.7" cy="168.5" r="3.8" fill="#ff0000"/>
<circle cx="2232.6" cy="167.1" r="3.8" fill="#ff0000"/>
<g stroke="#1f5f84" stroke-width="2.8" fill="none">
<line x1="1227.4" y1="298.8" x2="1227.4" y2="445.5"/>
<line x1="1226.0" y1="444.1" x2="1524.0" y2="444.1"/>
</g>
<path d="M1222.4 299.8H1227.4M1222.4 328.7H1227.4M1222.4 357.5H1227.4M1222.4 386.4H1227.4M1222.4 415.2H1227.4M1222.4 444.1H1227.4M1227.4 444.1V449.1M1276.7 444.1V449.1M1325.9 444.1V449.1M1375.2 444.1V449.1M1424.5 444.1V449.1M1473.7 444.1V449.1M1523.0 444.1V449.1" stroke="#1a2333" stroke-width="2.6" fill="none"/>
<text x="1191.2" y="303.8" font-family='"Liberation Serif", serif' font-size="12.0" font-weight="bold" fill="#000" text-anchor="start" textLength="22.8" lengthAdjust="spacingAndGlyphs" stroke="#000" stroke-width="0.55">0.5</text>
<text x="1191.2" y="332.7" font-family='"Liberation Serif", serif' font-size="12.0" font-weight="bold" fill="#000" text-anchor="start" textLength="22.8" lengthAdjust="spacingAndGlyphs" stroke="#000" stroke-width="0.55">0.4</text>
<text x="1191.2" y="361.5" font-family='"Liberation Serif", serif' font-size="12.0" font-weight="bold" fill="#000" text-anchor="start" textLength="22.8" lengthAdjust="spacingAndGlyphs" stroke="#000" stroke-width="0.55">0.3</text>
<text x="1191.2" y="390.4" font-family='"Liberation Serif", serif' font-size="12.0" font-weight="bold" fill="#000" text-anchor="start" textLength="22.8" lengthAdjust="spacingAndGlyphs" stroke="#000" stroke-width="0.55">0.2</text>
<text x="1191.2" y="419.2" font-family='"Liberation Serif", serif' font-size="12.0" font-weight="bold" fill="#000" text-anchor="start" textLength="22.8" lengthAdjust="spacingAndGlyphs" stroke="#000" stroke-width="0.55">0.1</text>
<text x="1204.8" y="448.1" font-family='"Liberation Serif", serif' font-size="12.0" font-weight="bold" fill="#000" text-anchor="start" textLength="9.1" lengthAdjust="spacingAndGlyphs" stroke="#000" stroke-width="0.55">0</text>
<text x="1243.7" y="467.1" font-family='"Liberation Serif", serif' font-size="11.5" font-weight="bold" fill="#000" text-anchor="start" textLength="16.8" lengthAdjust="spacingAndGlyphs" stroke="#000" stroke-width="0.50">0d</text>
<text x="1292.9" y="467.1" font-family='"Liberation Serif", serif' font-size="11.5" font-weight="bold" fill="#000" text-anchor="start" textLength="16.8" lengthAdjust="spacingAndGlyphs" stroke="#000" stroke-width="0.50">3d</text>
<text x="1342.2" y="467.1" font-family='"Liberation Serif", serif' font-size="11.5" font-weight="bold" fill="#000" text-anchor="start" textLength="16.8" lengthAdjust="spacingAndGlyphs" stroke="#000" stroke-width="0.50">6d</text>
<text x="1387.5" y="467.1" font-family='"Liberation Serif", serif' font-size="11.5" font-weight="bold" fill="#000" text-anchor="start" textLength="24.7" lengthAdjust="spacingAndGlyphs" stroke="#000" stroke-width="0.50">12d</text>
<text x="1436.8" y="467.1" font-family='"Liberation Serif", serif' font-size="11.5" font-weight="bold" fill="#000" text-anchor="start" textLength="24.7" lengthAdjust="spacingAndGlyphs" stroke="#000" stroke-width="0.50">18d</text>
<text x="1486.0" y="467.1" font-family='"Liberation Serif", serif' font-size="11.5" font-weight="bold" fill="#000" text-anchor="start" textLength="24.7" lengthAdjust="spacingAndGlyphs" stroke="#000" stroke-width="0.50">24d</text>
<text x="1353.7" y="479.4" font-family='"Liberation Serif", serif' font-size="14.0" font-weight="bold" fill="#000" text-anchor="start" textLength="47.0" lengthAdjust="spacingAndGlyphs" stroke="#000" stroke-width="0.45">Time</text>
<text transform="translate(1173.5,423.0) rotate(-90)" font-family='"Liberation Serif", serif' font-size="23.1" font-weight="bold" stroke="#000" stroke-width="0.55" textLength="110.6" lengthAdjust="spacingAndGlyphs">Relative Intensity</text>
<text x="1277.5" y="294.2" font-family='"Liberation Sans", sans-serif' font-size="14.3" font-weight="bold" fill="#000" text-anchor="start" textLength="181.6" lengthAdjust="spacingAndGlyphs" stroke="#000" stroke-width="0.60">Salvianolic acid B</text>
<line x1="1239.3" y1="307.8" x2="1285.1" y2="307.8" stroke="#1c1c1c" stroke-width="2.0"/>
<rect x="1258.9" y="304.5" width="6.6" height="6.6" fill="#000"/>
<path d="M1239.3 327.0h9.0M1276.1 327.0h9.0" stroke="#ee1c2c" stroke-width="2.4" fill="none"/>
<circle cx="1262.2" cy="327.0" r="3.8" fill="#ff0000"/>
<text x="1291.0" y="312.8" font-family='"Liberation Serif", serif' font-size="13.5" font-weight="bold" fill="#000" text-anchor="start" textLength="59.5" lengthAdjust="spacingAndGlyphs" stroke="#000" stroke-width="0.55">Control</text>
<text x="1291.9" y="332.3" font-family='"Liberation Serif", serif' font-size="13.5" font-weight="bold" fill="#000" text-anchor="start" textLength="80.0" lengthAdjust="spacingAndGlyphs" stroke="#000" stroke-width="0.55">Treatment</text>
<path d="M1350.6 358.0V366.0M1346.6 358.0h8M1346.6 366.0h8M1399.8 354.1V368.5M1395.8 354.1h8M1395.8 368.5h8M1449.1 348.2V361.7M1445.1 348.2h8M1445.1 361.7h8M1252.0 342.2V365.1M1248.0 342.2h8M1248.0 365.1h8M1301.3 358.3V391.4M1297.3 358.3h8M1297.3 391.4h8M1350.6 357.5V380.0M1346.6 357.5h8M1346.6 380.0h8M1399.8 379.6V397.4M1395.8 379.6h8M1395.8 397.4h8M1449.1 370.2V420.3M1445.1 370.2h8M1445.1 420.3h8M1498.4 375.3V404.2M1494.4 375.3h8M1494.4 404.2h8" stroke="#7a7a7a" stroke-width="2" fill="none"/>
<polyline points="1252.0,353.6 1301.3,357.5 1350.6,362.1 1399.8,360.9 1449.1,355.0 1498.4,345.6" fill="none" stroke="#1c1c1c" stroke-width="2.0" stroke-linejoin="round"/>
<rect x="1248.4" y="350.0" width="7.2" height="7.2" fill="#000"/>
<rect x="1297.7" y="353.9" width="7.2" height="7.2" fill="#000"/>
<rect x="1347.0" y="358.5" width="7.2" height="7.2" fill="#000"/>
<rect x="1396.2" y="357.3" width="7.2" height="7.2" fill="#000"/>
<rect x="1445.5" y="351.4" width="7.2" height="7.2" fill="#000"/>
<rect x="1494.8" y="342.0" width="7.2" height="7.2" fill="#000"/>
<polyline points="1252.0,353.6 1301.3,375.3 1350.6,368.9 1399.8,388.9 1449.1,396.0 1498.4,389.2" fill="none" stroke="#ee1c2c" stroke-width="2.4" stroke-dasharray="9 6.5" stroke-linejoin="round"/>
<circle cx="1252.0" cy="353.6" r="3.8" fill="#ff0000"/>
<circle cx="1301.3" cy="375.3" r="3.8" fill="#ff0000"/>
<circle cx="1350.6" cy="368.9" r="3.8" fill="#ff0000"/>
<circle cx="1399.8" cy="388.9" r="3.8" fill="#ff0000"/>
<circle cx="1449.1" cy="396.0" r="3.8" fill="#ff0000"/>
<circle cx="1498.4" cy="389.2" r="3.8" fill="#ff0000"/>
<g stroke="#1f5f84" stroke-width="2.8" fill="none">
<line x1="1589.4" y1="298.8" x2="1589.4" y2="445.5"/>
<line x1="1588.0" y1="444.1" x2="1883.3" y2="444.1"/>
</g>
<path d="M1584.4 307.4H1589.4M1584.4 341.6H1589.4M1584.4 375.8H1589.4M1584.4 409.9H1589.4M1584.4 444.1H1589.4M1589.4 444.1V449.1M1638.2 444.1V449.1M1687.0 444.1V449.1M1735.8 444.1V449.1M1784.7 444.1V449.1M1833.5 444.1V449.1M1882.3 444.1V449.1" stroke="#1a2333" stroke-width="2.6" fill="none"/>
<text x="1544.1" y="311.4" font-family='"Liberation Serif", serif' font-size="12.0" font-weight="bold" fill="#000" text-anchor="start" textLength="31.8" lengthAdjust="spacingAndGlyphs" stroke="#000" stroke-width="0.55">0.16</text>
<text x="1544.1" y="345.6" font-family='"Liberation Serif", serif' font-size="12.0" font-weight="bold" fill="#000" text-anchor="start" textLength="31.8" lengthAdjust="spacingAndGlyphs" stroke="#000" stroke-width="0.55">0.12</text>
<text x="1544.1" y="379.8" font-family='"Liberation Serif", serif' font-size="12.0" font-weight="bold" fill="#000" text-anchor="start" textLength="31.8" lengthAdjust="spacingAndGlyphs" stroke="#000" stroke-width="0.55">0.08</text>
<text x="1544.1" y="413.9" font-family='"Liberation Serif", serif' font-size="12.0" font-weight="bold" fill="#000" text-anchor="start" textLength="31.8" lengthAdjust="spacingAndGlyphs" stroke="#000" stroke-width="0.55">0.04</text>
<text x="1566.8" y="448.1" font-family='"Liberation Serif", serif' font-size="12.0" font-weight="bold" fill="#000" text-anchor="start" textLength="9.1" lengthAdjust="spacingAndGlyphs" stroke="#000" stroke-width="0.55">0</text>
<text x="1605.4" y="467.1" font-family='"Liberation Serif", serif' font-size="11.5" font-weight="bold" fill="#000" text-anchor="start" textLength="16.8" lengthAdjust="spacingAndGlyphs" stroke="#000" stroke-width="0.50">0d</text>
<text x="1654.2" y="467.1" font-family='"Liberation Serif", serif' font-size="11.5" font-weight="bold" fill="#000" text-anchor="start" textLength="16.8" lengthAdjust="spacingAndGlyphs" stroke="#000" stroke-width="0.50">3d</text>
<text x="1703.1" y="467.1" font-family='"Liberation Serif", serif' font-size="11.5" font-weight="bold" fill="#000" text-anchor="start" textLength="16.8" lengthAdjust="spacingAndGlyphs" stroke="#000" stroke-width="0.50">6d</text>
<text x="1747.9" y="467.1" font-family='"Liberation Serif", serif' font-size="11.5" font-weight="bold" fill="#000" text-anchor="start" textLength="24.7" lengthAdjust="spacingAndGlyphs" stroke="#000" stroke-width="0.50">12d</text>
<text x="1796.7" y="467.1" font-family='"Liberation Serif", serif' font-size="11.5" font-weight="bold" fill="#000" text-anchor="start" textLength="24.7" lengthAdjust="spacingAndGlyphs" stroke="#000" stroke-width="0.50">18d</text>
<text x="1845.5" y="467.1" font-family='"Liberation Serif", serif' font-size="11.5" font-weight="bold" fill="#000" text-anchor="start" textLength="24.7" lengthAdjust="spacingAndGlyphs" stroke="#000" stroke-width="0.50">24d</text>
<text x="1714.3" y="479.4" font-family='"Liberation Serif", serif' font-size="14.0" font-weight="bold" fill="#000" text-anchor="start" textLength="47.0" lengthAdjust="spacingAndGlyphs" stroke="#000" stroke-width="0.45">Time</text>
<text transform="translate(1532.6,423.0) rotate(-90)" font-family='"Liberation Serif", serif' font-size="22.1" font-weight="bold" stroke="#000" stroke-width="0.55" textLength="110.6" lengthAdjust="spacingAndGlyphs">Relative Intensity</text>
<text x="1644.1" y="292.5" font-family='"Liberation Sans", sans-serif' font-size="14.3" font-weight="bold" fill="#000" text-anchor="start" textLength="180.7" lengthAdjust="spacingAndGlyphs" stroke="#000" stroke-width="0.60">Salvianolic acid E</text>
<line x1="1598.3" y1="307.8" x2="1644.1" y2="307.8" stroke="#1c1c1c" stroke-width="2.0"/>
<rect x="1617.9" y="304.5" width="6.6" height="6.6" fill="#000"/>
<path d="M1598.3 326.4h9.0M1635.1 326.4h9.0" stroke="#ee1c2c" stroke-width="2.4" fill="none"/>
<circle cx="1621.2" cy="326.4" r="3.8" fill="#ff0000"/>
<text x="1650.0" y="312.8" font-family='"Liberation Serif", serif' font-size="13.5" font-weight="bold" fill="#000" text-anchor="start" textLength="59.5" lengthAdjust="spacingAndGlyphs" stroke="#000" stroke-width="0.55">Control</text>
<text x="1650.9" y="331.7" font-family='"Liberation Serif", serif' font-size="13.5" font-weight="bold" fill="#000" text-anchor="start" textLength="80.0" lengthAdjust="spacingAndGlyphs" stroke="#000" stroke-width="0.55">Treatment</text>
<path d="M1613.8 349.0V405.5M1609.8 349.0h8M1609.8 405.5h8M1662.6 332.0V365.0M1658.6 332.0h8M1658.6 365.0h8M1711.4 353.3V384.7M1707.4 353.3h8M1707.4 384.7h8M1760.3 357.5V383.0M1756.3 357.5h8M1756.3 383.0h8M1809.1 328.1V381.3M1805.1 328.1h8M1805.1 381.3h8M1857.9 333.7V349.5M1853.9 333.7h8M1853.9 349.5h8M1662.6 338.8V409.3M1658.6 338.8h8M1658.6 409.3h8M1711.4 353.0V373.0M1707.4 353.0h8M1707.4 373.0h8M1760.3 394.8V413.5M1756.3 394.8h8M1756.3 413.5h8M1809.1 376.2V410.1M1805.1 376.2h8M1805.1 410.1h8M1857.9 368.5V421.1M1853.9 368.5h8M1853.9 421.1h8" stroke="#7a7a7a" stroke-width="2" fill="none"/>
<polyline points="1613.8,376.2 1662.6,348.5 1711.4,369.9 1760.3,370.2 1809.1,354.1 1857.9,341.7" fill="none" stroke="#1c1c1c" stroke-width="2.0" stroke-linejoin="round"/>
<rect x="1610.2" y="372.6" width="7.2" height="7.2" fill="#000"/>
<rect x="1659.0" y="344.9" width="7.2" height="7.2" fill="#000"/>
<rect x="1707.8" y="366.3" width="7.2" height="7.2" fill="#000"/>
<rect x="1756.7" y="366.6" width="7.2" height="7.2" fill="#000"/>
<rect x="1805.5" y="350.5" width="7.2" height="7.2" fill="#000"/>
<rect x="1854.3" y="338.1" width="7.2" height="7.2" fill="#000"/>
<polyline points="1613.8,377.4 1662.6,373.3 1711.4,363.1 1760.3,404.5 1809.1,393.1 1857.9,394.8" fill="none" stroke="#ee1c2c" stroke-width="2.4" stroke-dasharray="9 6.5" stroke-linejoin="round"/>
<circle cx="1613.8" cy="377.4" r="3.8" fill="#ff0000"/>
<circle cx="1662.6" cy="373.3" r="3.8" fill="#ff0000"/>
<circle cx="1711.4" cy="363.1" r="3.8" fill="#ff0000"/>
<circle cx="1760.3" cy="404.5" r="3.8" fill="#ff0000"/>
<circle cx="1809.1" cy="393.1" r="3.8" fill="#ff0000"/>
<circle cx="1857.9" cy="394.8" r="3.8" fill="#ff0000"/>
<g stroke="#0d3358" stroke-width="2.8" fill="none">
<line x1="1958.4" y1="299.6" x2="1958.4" y2="446.6"/>
<line x1="1957.0" y1="445.2" x2="2256.1" y2="445.2"/>
</g>
<path d="M1953.4 300.6H1958.4M1953.4 348.8H1958.4M1953.4 397.0H1958.4M1953.4 445.2H1958.4M1958.4 445.2V450.2M2007.9 445.2V450.2M2057.3 445.2V450.2M2106.8 445.2V450.2M2156.2 445.2V450.2M2205.7 445.2V450.2M2255.1 445.2V450.2" stroke="#1a2333" stroke-width="2.6" fill="none"/>
<text x="1913.1" y="304.6" font-family='"Liberation Serif", serif' font-size="12.0" font-weight="bold" fill="#000" text-anchor="start" textLength="31.8" lengthAdjust="spacingAndGlyphs" stroke="#000" stroke-width="0.55">0.06</text>
<text x="1913.1" y="352.8" font-family='"Liberation Serif", serif' font-size="12.0" font-weight="bold" fill="#000" text-anchor="start" textLength="31.8" lengthAdjust="spacingAndGlyphs" stroke="#000" stroke-width="0.55">0.04</text>
<text x="1913.1" y="401.0" font-family='"Liberation Serif", serif' font-size="12.0" font-weight="bold" fill="#000" text-anchor="start" textLength="31.8" lengthAdjust="spacingAndGlyphs" stroke="#000" stroke-width="0.55">0.02</text>
<text x="1935.8" y="449.2" font-family='"Liberation Serif", serif' font-size="12.0" font-weight="bold" fill="#000" text-anchor="start" textLength="9.1" lengthAdjust="spacingAndGlyphs" stroke="#000" stroke-width="0.55">0</text>
<text x="1974.7" y="468.2" font-family='"Liberation Serif", serif' font-size="11.5" font-weight="bold" fill="#000" text-anchor="start" textLength="16.8" lengthAdjust="spacingAndGlyphs" stroke="#000" stroke-width="0.50">0d</text>
<text x="2024.2" y="468.2" font-family='"Liberation Serif", serif' font-size="11.5" font-weight="bold" fill="#000" text-anchor="start" textLength="16.8" lengthAdjust="spacingAndGlyphs" stroke="#000" stroke-width="0.50">3d</text>
<text x="2073.6" y="468.2" font-family='"Liberation Serif", serif' font-size="11.5" font-weight="bold" fill="#000" text-anchor="start" textLength="16.8" lengthAdjust="spacingAndGlyphs" stroke="#000" stroke-width="0.50">6d</text>
<text x="2119.1" y="468.2" font-family='"Liberation Serif", serif' font-size="11.5" font-weight="bold" fill="#000" text-anchor="start" textLength="24.7" lengthAdjust="spacingAndGlyphs" stroke="#000" stroke-width="0.50">12d</text>
<text x="2168.6" y="468.2" font-family='"Liberation Serif", serif' font-size="11.5" font-weight="bold" fill="#000" text-anchor="start" textLength="24.7" lengthAdjust="spacingAndGlyphs" stroke="#000" stroke-width="0.50">18d</text>
<text x="2218.0" y="468.2" font-family='"Liberation Serif", serif' font-size="11.5" font-weight="bold" fill="#000" text-anchor="start" textLength="24.7" lengthAdjust="spacingAndGlyphs" stroke="#000" stroke-width="0.50">24d</text>
<text x="2085.2" y="480.5" font-family='"Liberation Serif", serif' font-size="14.0" font-weight="bold" fill="#000" text-anchor="start" textLength="47.0" lengthAdjust="spacingAndGlyphs" stroke="#000" stroke-width="0.45">Time</text>
<text transform="translate(1905.2,423.8) rotate(-90)" font-family='"Liberation Serif", serif' font-size="20.9" font-weight="bold" stroke="#000" stroke-width="0.55" textLength="110.6" lengthAdjust="spacingAndGlyphs">Relative Intensity</text>
<text x="2014.1" y="292.5" font-family='"Liberation Sans", sans-serif' font-size="14.3" font-weight="bold" fill="#000" text-anchor="start" textLength="179.9" lengthAdjust="spacingAndGlyphs" stroke="#000" stroke-width="0.60">Salvianolic acid F</text>
<line x1="1964.0" y1="309.5" x2="2009.8" y2="309.5" stroke="#1c1c1c" stroke-width="2.0"/>
<rect x="1983.6" y="306.2" width="6.6" height="6.6" fill="#000"/>
<path d="M1964.0 328.1h9.0M2000.8 328.1h9.0" stroke="#ee1c2c" stroke-width="2.4" fill="none"/>
<circle cx="1986.9" cy="328.1" r="3.8" fill="#ff0000"/>
<text x="2015.8" y="314.5" font-family='"Liberation Serif", serif' font-size="13.5" font-weight="bold" fill="#000" text-anchor="start" textLength="59.5" lengthAdjust="spacingAndGlyphs" stroke="#000" stroke-width="0.55">Control</text>
<text x="2016.7" y="333.4" font-family='"Liberation Serif", serif' font-size="13.5" font-weight="bold" fill="#000" text-anchor="start" textLength="80.0" lengthAdjust="spacingAndGlyphs" stroke="#000" stroke-width="0.55">Treatment</text>
<path d="M1983.1 425.0V432.0M1979.1 425.0h8M1979.1 432.0h8M2032.6 361.7V425.4M2028.6 361.7h8M2028.6 425.4h8M2082.0 350.7V423.7M2078.0 350.7h8M2078.0 423.7h8M2131.5 410.0V424.0M2127.5 410.0h8M2127.5 424.0h8M2180.9 405.5V428.8M2176.9 405.5h8M2176.9 428.8h8M2230.4 418.0V434.0M2226.4 418.0h8M2226.4 434.0h8M1983.1 425.4V434.6M1979.1 425.4h8M1979.1 434.6h8M2032.6 403.3V432.2M2028.6 403.3h8M2028.6 432.2h8M2082.0 425.0V443.0M2078.0 425.0h8M2078.0 443.0h8M2131.5 410.1V433.9M2127.5 410.1h8M2127.5 433.9h8" stroke="#7a7a7a" stroke-width="2" fill="none"/>
<polyline points="1983.1,428.8 2032.6,393.6 2082.0,387.2 2131.5,416.9 2180.9,417.4 2230.4,426.2" fill="none" stroke="#1c1c1c" stroke-width="2.0" stroke-linejoin="round"/>
<rect x="1979.5" y="425.2" width="7.2" height="7.2" fill="#000"/>
<rect x="2029.0" y="390.0" width="7.2" height="7.2" fill="#000"/>
<rect x="2078.4" y="383.6" width="7.2" height="7.2" fill="#000"/>
<rect x="2127.9" y="413.3" width="7.2" height="7.2" fill="#000"/>
<rect x="2177.3" y="413.8" width="7.2" height="7.2" fill="#000"/>
<rect x="2226.8" y="422.6" width="7.2" height="7.2" fill="#000"/>
<polyline points="1983.1,430.0 2032.6,417.7 2082.0,433.9 2131.5,421.1 2180.9,434.7 2230.4,429.6" fill="none" stroke="#ee1c2c" stroke-width="2.4" stroke-dasharray="9 6.5" stroke-linejoin="round"/>
<circle cx="1983.1" cy="430.0" r="3.8" fill="#ff0000"/>
<circle cx="2032.6" cy="417.7" r="3.8" fill="#ff0000"/>
<circle cx="2082.0" cy="433.9" r="3.8" fill="#ff0000"/>
<circle cx="2131.5" cy="421.1" r="3.8" fill="#ff0000"/>
<circle cx="2180.9" cy="434.7" r="3.8" fill="#ff0000"/>
<circle cx="2230.4" cy="429.6" r="3.8" fill="#ff0000"/>
<g stroke="#1f5f84" stroke-width="2.8" fill="none">
<line x1="1218.4" y1="553.5" x2="1218.4" y2="697.6"/>
<line x1="1217.0" y1="696.2" x2="1521.0" y2="696.2"/>
</g>
<path d="M1213.4 554.5H1218.4M1213.4 601.7H1218.4M1213.4 649.0H1218.4M1213.4 696.2H1218.4M1218.4 696.2V701.2M1268.7 696.2V701.2M1318.9 696.2V701.2M1369.2 696.2V701.2M1419.5 696.2V701.2M1469.7 696.2V701.2M1520.0 696.2V701.2" stroke="#1a2333" stroke-width="2.6" fill="none"/>
<text x="1173.1" y="558.5" font-family='"Liberation Serif", serif' font-size="12.0" font-weight="bold" fill="#000" text-anchor="start" textLength="31.8" lengthAdjust="spacingAndGlyphs" stroke="#000" stroke-width="0.55">0.03</text>
<text x="1173.1" y="605.7" font-family='"Liberation Serif", serif' font-size="12.0" font-weight="bold" fill="#000" text-anchor="start" textLength="31.8" lengthAdjust="spacingAndGlyphs" stroke="#000" stroke-width="0.55">0.02</text>
<text x="1173.1" y="653.0" font-family='"Liberation Serif", serif' font-size="12.0" font-weight="bold" fill="#000" text-anchor="start" textLength="31.8" lengthAdjust="spacingAndGlyphs" stroke="#000" stroke-width="0.55">0.01</text>
<text x="1195.8" y="700.2" font-family='"Liberation Serif", serif' font-size="12.0" font-weight="bold" fill="#000" text-anchor="start" textLength="9.1" lengthAdjust="spacingAndGlyphs" stroke="#000" stroke-width="0.55">0</text>
<text x="1235.2" y="719.0" font-family='"Liberation Serif", serif' font-size="11.5" font-weight="bold" fill="#000" text-anchor="start" textLength="16.8" lengthAdjust="spacingAndGlyphs" stroke="#000" stroke-width="0.50">0d</text>
<text x="1285.4" y="719.0" font-family='"Liberation Serif", serif' font-size="11.5" font-weight="bold" fill="#000" text-anchor="start" textLength="16.8" lengthAdjust="spacingAndGlyphs" stroke="#000" stroke-width="0.50">3d</text>
<text x="1335.7" y="719.0" font-family='"Liberation Serif", serif' font-size="11.5" font-weight="bold" fill="#000" text-anchor="start" textLength="16.8" lengthAdjust="spacingAndGlyphs" stroke="#000" stroke-width="0.50">6d</text>
<text x="1382.0" y="719.0" font-family='"Liberation Serif", serif' font-size="11.5" font-weight="bold" fill="#000" text-anchor="start" textLength="24.7" lengthAdjust="spacingAndGlyphs" stroke="#000" stroke-width="0.50">12d</text>
<text x="1432.3" y="719.0" font-family='"Liberation Serif", serif' font-size="11.5" font-weight="bold" fill="#000" text-anchor="start" textLength="24.7" lengthAdjust="spacingAndGlyphs" stroke="#000" stroke-width="0.50">18d</text>
<text x="1482.5" y="719.0" font-family='"Liberation Serif", serif' font-size="11.5" font-weight="bold" fill="#000" text-anchor="start" textLength="24.7" lengthAdjust="spacingAndGlyphs" stroke="#000" stroke-width="0.50">24d</text>
<text x="1347.7" y="731.0" font-family='"Liberation Serif", serif' font-size="14.0" font-weight="bold" fill="#000" text-anchor="start" textLength="47.0" lengthAdjust="spacingAndGlyphs" stroke="#000" stroke-width="0.45">Time</text>
<text transform="translate(1168.4,675.1) rotate(-90)" font-family='"Liberation Serif", serif' font-size="23.1" font-weight="bold" stroke="#000" stroke-width="0.55" textLength="108.0" lengthAdjust="spacingAndGlyphs">Relative Intensity</text>
<text x="1318.2" y="547.7" font-family='"Liberation Sans", sans-serif' font-size="13.6" font-weight="bold" fill="#000" text-anchor="start" textLength="103.5" lengthAdjust="spacingAndGlyphs" stroke="#000" stroke-width="0.60">Glutamine</text>
<line x1="1226.6" y1="563.0" x2="1272.4" y2="563.0" stroke="#1c1c1c" stroke-width="2.0"/>
<rect x="1246.2" y="559.7" width="6.6" height="6.6" fill="#000"/>
<path d="M1226.6 581.6h9.0M1263.4 581.6h9.0" stroke="#ee1c2c" stroke-width="2.4" fill="none"/>
<circle cx="1249.5" cy="581.6" r="3.8" fill="#ff0000"/>
<text x="1279.2" y="568.0" font-family='"Liberation Serif", serif' font-size="13.5" font-weight="bold" fill="#000" text-anchor="start" textLength="59.5" lengthAdjust="spacingAndGlyphs" stroke="#000" stroke-width="0.55">Control</text>
<text x="1280.1" y="586.9" font-family='"Liberation Serif", serif' font-size="13.5" font-weight="bold" fill="#000" text-anchor="start" textLength="80.0" lengthAdjust="spacingAndGlyphs" stroke="#000" stroke-width="0.55">Treatment</text>
<path d="M1243.5 637.3V664.8M1239.5 637.3h8M1239.5 664.8h8M1293.8 630.9V666.5M1289.8 630.9h8M1289.8 666.5h8M1344.1 618.6V637.7M1340.1 618.6h8M1340.1 637.7h8M1394.3 632.6V649.9M1390.3 632.6h8M1390.3 649.9h8M1444.6 649.2V672.0M1440.6 649.2h8M1440.6 672.0h8M1494.9 583.3V617.0M1490.9 583.3h8M1490.9 617.0h8M1293.8 658.9V677.5M1289.8 658.9h8M1289.8 677.5h8M1344.1 636.0V661.4M1340.1 636.0h8M1340.1 661.4h8M1394.3 663.0V673.0M1390.3 663.0h8M1390.3 673.0h8M1444.6 670.0V680.0M1440.6 670.0h8M1440.6 680.0h8M1494.9 673.0V684.3M1490.9 673.0h8M1490.9 684.3h8" stroke="#7a7a7a" stroke-width="2" fill="none"/>
<polyline points="1243.5,650.9 1293.8,648.7 1344.1,628.3 1394.3,640.7 1444.6,661.1 1494.9,600.0" fill="none" stroke="#1c1c1c" stroke-width="2.0" stroke-linejoin="round"/>
<rect x="1239.9" y="647.3" width="7.2" height="7.2" fill="#000"/>
<rect x="1290.2" y="645.1" width="7.2" height="7.2" fill="#000"/>
<rect x="1340.5" y="624.7" width="7.2" height="7.2" fill="#000"/>
<rect x="1390.7" y="637.1" width="7.2" height="7.2" fill="#000"/>
<rect x="1441.0" y="657.5" width="7.2" height="7.2" fill="#000"/>
<rect x="1491.3" y="596.4" width="7.2" height="7.2" fill="#000"/>
<polyline points="1243.5,650.9 1293.8,669.1 1344.1,647.5 1394.3,667.9 1444.6,675.3 1494.9,678.1" fill="none" stroke="#ee1c2c" stroke-width="2.4" stroke-dasharray="9 6.5" stroke-linejoin="round"/>
<circle cx="1243.5" cy="650.9" r="3.8" fill="#ff0000"/>
<circle cx="1293.8" cy="669.1" r="3.8" fill="#ff0000"/>
<circle cx="1344.1" cy="647.5" r="3.8" fill="#ff0000"/>
<circle cx="1394.3" cy="667.9" r="3.8" fill="#ff0000"/>
<circle cx="1444.6" cy="675.3" r="3.8" fill="#ff0000"/>
<circle cx="1494.9" cy="678.1" r="3.8" fill="#ff0000"/>
<g stroke="#1f5f84" stroke-width="2.8" fill="none">
<line x1="1591.5" y1="554.6" x2="1591.5" y2="698.3"/>
<line x1="1590.1" y1="696.9" x2="1895.0" y2="696.9"/>
</g>
<path d="M1586.5 555.6H1591.5M1586.5 602.7H1591.5M1586.5 649.8H1591.5M1586.5 696.9H1591.5M1591.5 696.9V701.9M1641.9 696.9V701.9M1692.3 696.9V701.9M1742.8 696.9V701.9M1793.2 696.9V701.9M1843.6 696.9V701.9M1894.0 696.9V701.9" stroke="#1a2333" stroke-width="2.6" fill="none"/>
<text x="1546.2" y="559.6" font-family='"Liberation Serif", serif' font-size="12.0" font-weight="bold" fill="#000" text-anchor="start" textLength="31.8" lengthAdjust="spacingAndGlyphs" stroke="#000" stroke-width="0.55">0.03</text>
<text x="1546.2" y="606.7" font-family='"Liberation Serif", serif' font-size="12.0" font-weight="bold" fill="#000" text-anchor="start" textLength="31.8" lengthAdjust="spacingAndGlyphs" stroke="#000" stroke-width="0.55">0.02</text>
<text x="1546.2" y="653.8" font-family='"Liberation Serif", serif' font-size="12.0" font-weight="bold" fill="#000" text-anchor="start" textLength="31.8" lengthAdjust="spacingAndGlyphs" stroke="#000" stroke-width="0.55">0.01</text>
<text x="1568.9" y="700.9" font-family='"Liberation Serif", serif' font-size="12.0" font-weight="bold" fill="#000" text-anchor="start" textLength="9.1" lengthAdjust="spacingAndGlyphs" stroke="#000" stroke-width="0.55">0</text>
<text x="1608.3" y="719.7" font-family='"Liberation Serif", serif' font-size="11.5" font-weight="bold" fill="#000" text-anchor="start" textLength="16.8" lengthAdjust="spacingAndGlyphs" stroke="#000" stroke-width="0.50">0d</text>
<text x="1658.7" y="719.7" font-family='"Liberation Serif", serif' font-size="11.5" font-weight="bold" fill="#000" text-anchor="start" textLength="16.8" lengthAdjust="spacingAndGlyphs" stroke="#000" stroke-width="0.50">3d</text>
<text x="1709.2" y="719.7" font-family='"Liberation Serif", serif' font-size="11.5" font-weight="bold" fill="#000" text-anchor="start" textLength="16.8" lengthAdjust="spacingAndGlyphs" stroke="#000" stroke-width="0.50">6d</text>
<text x="1755.6" y="719.7" font-family='"Liberation Serif", serif' font-size="11.5" font-weight="bold" fill="#000" text-anchor="start" textLength="24.7" lengthAdjust="spacingAndGlyphs" stroke="#000" stroke-width="0.50">12d</text>
<text x="1806.0" y="719.7" font-family='"Liberation Serif", serif' font-size="11.5" font-weight="bold" fill="#000" text-anchor="start" textLength="24.7" lengthAdjust="spacingAndGlyphs" stroke="#000" stroke-width="0.50">18d</text>
<text x="1856.4" y="719.7" font-family='"Liberation Serif", serif' font-size="11.5" font-weight="bold" fill="#000" text-anchor="start" textLength="24.7" lengthAdjust="spacingAndGlyphs" stroke="#000" stroke-width="0.50">24d</text>
<text x="1721.2" y="731.7" font-family='"Liberation Serif", serif' font-size="14.0" font-weight="bold" fill="#000" text-anchor="start" textLength="47.0" lengthAdjust="spacingAndGlyphs" stroke="#000" stroke-width="0.45">Time</text>
<text transform="translate(1540.9,676.3) rotate(-90)" font-family='"Liberation Serif", serif' font-size="23.1" font-weight="bold" stroke="#000" stroke-width="0.55" textLength="108.1" lengthAdjust="spacingAndGlyphs">Relative Intensity</text>
<text x="1696.4" y="547.2" font-family='"Liberation Sans", sans-serif' font-size="13.6" font-weight="bold" fill="#000" text-anchor="start" textLength="72.4" lengthAdjust="spacingAndGlyphs" stroke="#000" stroke-width="0.60">Proline</text>
<line x1="1599.1" y1="564.5" x2="1645.8" y2="564.5" stroke="#1c1c1c" stroke-width="2.0"/>
<rect x="1619.1" y="561.2" width="6.6" height="6.6" fill="#000"/>
<path d="M1599.1 582.5h9.0M1636.8 582.5h9.0" stroke="#ee1c2c" stroke-width="2.4" fill="none"/>
<circle cx="1622.4" cy="582.5" r="3.8" fill="#ff0000"/>
<text x="1652.6" y="569.5" font-family='"Liberation Serif", serif' font-size="13.5" font-weight="bold" fill="#000" text-anchor="start" textLength="59.5" lengthAdjust="spacingAndGlyphs" stroke="#000" stroke-width="0.55">Control</text>
<text x="1653.5" y="587.8" font-family='"Liberation Serif", serif' font-size="13.5" font-weight="bold" fill="#000" text-anchor="start" textLength="80.0" lengthAdjust="spacingAndGlyphs" stroke="#000" stroke-width="0.55">Treatment</text>
<path d="M1667.1 662.9V681.2M1663.1 662.9h8M1663.1 681.2h8M1717.5 644.7V677.8M1713.5 644.7h8M1713.5 677.8h8M1768.0 663.9V680.0M1764.0 663.9h8M1764.0 680.0h8M1818.4 642.5V674.1M1814.4 642.5h8M1814.4 674.1h8M1868.8 645.3V680.4M1864.8 645.3h8M1864.8 680.4h8M1616.7 604.5V680.4M1612.7 604.5h8M1612.7 680.4h8M1667.1 611.6V650.3M1663.1 611.6h8M1663.1 650.3h8M1717.5 652.0V685.5M1713.5 652.0h8M1713.5 685.5h8M1768.0 673.6V688.9M1764.0 673.6h8M1764.0 688.9h8M1818.4 670.0V686.0M1814.4 670.0h8M1814.4 686.0h8M1868.8 680.0V694.5M1864.8 680.0h8M1864.8 694.5h8" stroke="#7a7a7a" stroke-width="2" fill="none"/>
<polyline points="1616.7,642.2 1667.1,671.9 1717.5,661.2 1768.0,671.9 1818.4,658.3 1868.8,662.9" fill="none" stroke="#1c1c1c" stroke-width="2.0" stroke-linejoin="round"/>
<rect x="1613.1" y="638.6" width="7.2" height="7.2" fill="#000"/>
<rect x="1663.5" y="668.3" width="7.2" height="7.2" fill="#000"/>
<rect x="1713.9" y="657.6" width="7.2" height="7.2" fill="#000"/>
<rect x="1764.4" y="668.3" width="7.2" height="7.2" fill="#000"/>
<rect x="1814.8" y="654.7" width="7.2" height="7.2" fill="#000"/>
<rect x="1865.2" y="659.3" width="7.2" height="7.2" fill="#000"/>
<polyline points="1616.7,642.2 1667.1,630.0 1717.5,664.6 1768.0,680.9 1818.4,677.8 1868.8,687.2" fill="none" stroke="#ee1c2c" stroke-width="2.4" stroke-dasharray="9 6.5" stroke-linejoin="round"/>
<circle cx="1616.7" cy="642.2" r="3.8" fill="#ff0000"/>
<circle cx="1667.1" cy="630.0" r="3.8" fill="#ff0000"/>
<circle cx="1717.5" cy="664.6" r="3.8" fill="#ff0000"/>
<circle cx="1768.0" cy="680.9" r="3.8" fill="#ff0000"/>
<circle cx="1818.4" cy="677.8" r="3.8" fill="#ff0000"/>
<circle cx="1868.8" cy="687.2" r="3.8" fill="#ff0000"/>
<g stroke="#0d3358" stroke-width="2.8" fill="none">
<line x1="1954.7" y1="555.5" x2="1954.7" y2="698.3"/>
<line x1="1953.3" y1="696.9" x2="2258.4" y2="696.9"/>
</g>
<path d="M1949.7 583.6H1954.7M1949.7 640.2H1954.7M1949.7 696.9H1954.7M1954.7 696.9V701.9M2005.2 696.9V701.9M2055.6 696.9V701.9M2106.1 696.9V701.9M2156.5 696.9V701.9M2207.0 696.9V701.9M2257.4 696.9V701.9" stroke="#1a2333" stroke-width="2.6" fill="none"/>
<text x="1909.4" y="587.6" font-family='"Liberation Serif", serif' font-size="12.0" font-weight="bold" fill="#000" text-anchor="start" textLength="31.8" lengthAdjust="spacingAndGlyphs" stroke="#000" stroke-width="0.55">0.02</text>
<text x="1909.4" y="644.2" font-family='"Liberation Serif", serif' font-size="12.0" font-weight="bold" fill="#000" text-anchor="start" textLength="31.8" lengthAdjust="spacingAndGlyphs" stroke="#000" stroke-width="0.55">0.01</text>
<text x="1932.1" y="700.9" font-family='"Liberation Serif", serif' font-size="12.0" font-weight="bold" fill="#000" text-anchor="start" textLength="9.1" lengthAdjust="spacingAndGlyphs" stroke="#000" stroke-width="0.55">0</text>
<text x="1971.5" y="719.7" font-family='"Liberation Serif", serif' font-size="11.5" font-weight="bold" fill="#000" text-anchor="start" textLength="16.8" lengthAdjust="spacingAndGlyphs" stroke="#000" stroke-width="0.50">0d</text>
<text x="2022.0" y="719.7" font-family='"Liberation Serif", serif' font-size="11.5" font-weight="bold" fill="#000" text-anchor="start" textLength="16.8" lengthAdjust="spacingAndGlyphs" stroke="#000" stroke-width="0.50">3d</text>
<text x="2072.4" y="719.7" font-family='"Liberation Serif", serif' font-size="11.5" font-weight="bold" fill="#000" text-anchor="start" textLength="16.8" lengthAdjust="spacingAndGlyphs" stroke="#000" stroke-width="0.50">6d</text>
<text x="2118.9" y="719.7" font-family='"Liberation Serif", serif' font-size="11.5" font-weight="bold" fill="#000" text-anchor="start" textLength="24.7" lengthAdjust="spacingAndGlyphs" stroke="#000" stroke-width="0.50">12d</text>
<text x="2169.4" y="719.7" font-family='"Liberation Serif", serif' font-size="11.5" font-weight="bold" fill="#000" text-anchor="start" textLength="24.7" lengthAdjust="spacingAndGlyphs" stroke="#000" stroke-width="0.50">18d</text>
<text x="2219.8" y="719.7" font-family='"Liberation Serif", serif' font-size="11.5" font-weight="bold" fill="#000" text-anchor="start" textLength="24.7" lengthAdjust="spacingAndGlyphs" stroke="#000" stroke-width="0.50">24d</text>
<text x="2084.6" y="731.7" font-family='"Liberation Serif", serif' font-size="14.0" font-weight="bold" fill="#000" text-anchor="start" textLength="47.0" lengthAdjust="spacingAndGlyphs" stroke="#000" stroke-width="0.45">Time</text>
<text transform="translate(1903.4,676.3) rotate(-90)" font-family='"Liberation Serif", serif' font-size="22.1" font-weight="bold" stroke="#000" stroke-width="0.55" textLength="108.1" lengthAdjust="spacingAndGlyphs">Relative Intensity</text>
<text x="2045.5" y="549.7" font-family='"Liberation Sans", sans-serif' font-size="13.6" font-weight="bold" fill="#000" text-anchor="start" textLength="143.4" lengthAdjust="spacingAndGlyphs" stroke="#000" stroke-width="0.60">Phenylalanine</text>
<line x1="1962.3" y1="564.5" x2="2009.0" y2="564.5" stroke="#1c1c1c" stroke-width="2.0"/>
<rect x="1982.4" y="561.2" width="6.6" height="6.6" fill="#000"/>
<path d="M1962.3 582.5h9.0M2000.0 582.5h9.0" stroke="#ee1c2c" stroke-width="2.4" fill="none"/>
<circle cx="1985.7" cy="582.5" r="3.8" fill="#ff0000"/>
<text x="2014.9" y="569.5" font-family='"Liberation Serif", serif' font-size="13.5" font-weight="bold" fill="#000" text-anchor="start" textLength="59.5" lengthAdjust="spacingAndGlyphs" stroke="#000" stroke-width="0.55">Control</text>
<text x="2015.8" y="587.8" font-family='"Liberation Serif", serif' font-size="13.5" font-weight="bold" fill="#000" text-anchor="start" textLength="80.0" lengthAdjust="spacingAndGlyphs" stroke="#000" stroke-width="0.55">Treatment</text>
<path d="M2030.4 582.8V601.4M2026.4 582.8h8M2026.4 601.4h8M2080.8 621.5V634.6M2076.8 621.5h8M2076.8 634.6h8M2131.3 627.0V641.0M2127.3 627.0h8M2127.3 641.0h8M2181.7 636.3V660.9M2177.7 636.3h8M2177.7 660.9h8M2232.2 595.5V620.5M2228.2 595.5h8M2228.2 620.5h8M1979.9 615.9V658.3M1975.9 615.9h8M1975.9 658.3h8M2030.4 582.8V631.2M2026.4 582.8h8M2026.4 631.2h8M2080.8 567.5V618.4M2076.8 567.5h8M2076.8 618.4h8M2131.3 615.0V642.2M2127.3 615.0h8M2127.3 642.2h8M2181.7 654.9V677.8M2177.7 654.9h8M2177.7 677.8h8M2232.2 656.0V666.5M2228.2 656.0h8M2228.2 666.5h8" stroke="#7a7a7a" stroke-width="2" fill="none"/>
<polyline points="1979.9,637.1 2030.4,592.1 2080.8,627.8 2131.3,634.1 2181.7,648.6 2232.2,607.4" fill="none" stroke="#1c1c1c" stroke-width="2.0" stroke-linejoin="round"/>
<rect x="1976.3" y="633.5" width="7.2" height="7.2" fill="#000"/>
<rect x="2026.8" y="588.5" width="7.2" height="7.2" fill="#000"/>
<rect x="2077.2" y="624.2" width="7.2" height="7.2" fill="#000"/>
<rect x="2127.7" y="630.5" width="7.2" height="7.2" fill="#000"/>
<rect x="2178.1" y="645.0" width="7.2" height="7.2" fill="#000"/>
<rect x="2228.6" y="603.8" width="7.2" height="7.2" fill="#000"/>
<polyline points="1979.9,637.1 2030.4,606.9 2080.8,592.6 2131.3,628.3 2181.7,665.6 2232.2,661.2" fill="none" stroke="#ee1c2c" stroke-width="2.4" stroke-dasharray="9 6.5" stroke-linejoin="round"/>
<circle cx="1979.9" cy="637.1" r="3.8" fill="#ff0000"/>
<circle cx="2030.4" cy="606.9" r="3.8" fill="#ff0000"/>
<circle cx="2080.8" cy="592.6" r="3.8" fill="#ff0000"/>
<circle cx="2131.3" cy="628.3" r="3.8" fill="#ff0000"/>
<circle cx="2181.7" cy="665.6" r="3.8" fill="#ff0000"/>
<circle cx="2232.2" cy="661.2" r="3.8" fill="#ff0000"/>
<g stroke="#1f5f84" stroke-width="2.8" fill="none">
<line x1="1405.4" y1="776.5" x2="1405.4" y2="920.0"/>
<line x1="1404.0" y1="918.6" x2="1709.3" y2="918.6"/>
</g>
<path d="M1400.4 777.5H1405.4M1400.4 824.5H1405.4M1400.4 871.6H1405.4M1400.4 918.6H1405.4M1405.4 918.6V923.6M1455.9 918.6V923.6M1506.4 918.6V923.6M1556.8 918.6V923.6M1607.3 918.6V923.6M1657.8 918.6V923.6M1708.3 918.6V923.6" stroke="#1a2333" stroke-width="2.6" fill="none"/>
<text x="1360.1" y="781.5" font-family='"Liberation Serif", serif' font-size="12.0" font-weight="bold" fill="#000" text-anchor="start" textLength="31.8" lengthAdjust="spacingAndGlyphs" stroke="#000" stroke-width="0.55">0.12</text>
<text x="1360.1" y="828.5" font-family='"Liberation Serif", serif' font-size="12.0" font-weight="bold" fill="#000" text-anchor="start" textLength="31.8" lengthAdjust="spacingAndGlyphs" stroke="#000" stroke-width="0.55">0.08</text>
<text x="1360.1" y="875.6" font-family='"Liberation Serif", serif' font-size="12.0" font-weight="bold" fill="#000" text-anchor="start" textLength="31.8" lengthAdjust="spacingAndGlyphs" stroke="#000" stroke-width="0.55">0.04</text>
<text x="1382.8" y="922.6" font-family='"Liberation Serif", serif' font-size="12.0" font-weight="bold" fill="#000" text-anchor="start" textLength="9.1" lengthAdjust="spacingAndGlyphs" stroke="#000" stroke-width="0.55">0</text>
<text x="1422.3" y="941.4" font-family='"Liberation Serif", serif' font-size="11.5" font-weight="bold" fill="#000" text-anchor="start" textLength="16.8" lengthAdjust="spacingAndGlyphs" stroke="#000" stroke-width="0.50">0d</text>
<text x="1472.7" y="941.4" font-family='"Liberation Serif", serif' font-size="11.5" font-weight="bold" fill="#000" text-anchor="start" textLength="16.8" lengthAdjust="spacingAndGlyphs" stroke="#000" stroke-width="0.50">3d</text>
<text x="1523.2" y="941.4" font-family='"Liberation Serif", serif' font-size="11.5" font-weight="bold" fill="#000" text-anchor="start" textLength="16.8" lengthAdjust="spacingAndGlyphs" stroke="#000" stroke-width="0.50">6d</text>
<text x="1569.7" y="941.4" font-family='"Liberation Serif", serif' font-size="11.5" font-weight="bold" fill="#000" text-anchor="start" textLength="24.7" lengthAdjust="spacingAndGlyphs" stroke="#000" stroke-width="0.50">12d</text>
<text x="1620.2" y="941.4" font-family='"Liberation Serif", serif' font-size="11.5" font-weight="bold" fill="#000" text-anchor="start" textLength="24.7" lengthAdjust="spacingAndGlyphs" stroke="#000" stroke-width="0.50">18d</text>
<text x="1670.7" y="941.4" font-family='"Liberation Serif", serif' font-size="11.5" font-weight="bold" fill="#000" text-anchor="start" textLength="24.7" lengthAdjust="spacingAndGlyphs" stroke="#000" stroke-width="0.50">24d</text>
<text x="1535.3" y="953.4" font-family='"Liberation Serif", serif' font-size="14.0" font-weight="bold" fill="#000" text-anchor="start" textLength="47.0" lengthAdjust="spacingAndGlyphs" stroke="#000" stroke-width="0.45">Time</text>
<text transform="translate(1355.2,898.6) rotate(-90)" font-family='"Liberation Serif", serif' font-size="24.3" font-weight="bold" stroke="#000" stroke-width="0.55" textLength="109.2" lengthAdjust="spacingAndGlyphs">Relative Intensity</text>
<text x="1472.2" y="768.0" font-family='"Liberation Sans", sans-serif' font-size="13.6" font-weight="bold" fill="#000" text-anchor="start" textLength="185.1" lengthAdjust="spacingAndGlyphs" stroke="#000" stroke-width="0.60">Tryptophan (ESI+)</text>
<line x1="1413.8" y1="785.9" x2="1459.3" y2="785.9" stroke="#1c1c1c" stroke-width="2.0"/>
<rect x="1433.2" y="782.6" width="6.6" height="6.6" fill="#000"/>
<path d="M1413.8 804.3h9.0M1450.3 804.3h9.0" stroke="#ee1c2c" stroke-width="2.4" fill="none"/>
<circle cx="1436.5" cy="804.3" r="3.8" fill="#ff0000"/>
<text x="1466.5" y="790.9" font-family='"Liberation Serif", serif' font-size="13.5" font-weight="bold" fill="#000" text-anchor="start" textLength="59.5" lengthAdjust="spacingAndGlyphs" stroke="#000" stroke-width="0.55">Control</text>
<text x="1467.4" y="809.6" font-family='"Liberation Serif", serif' font-size="13.5" font-weight="bold" fill="#000" text-anchor="start" textLength="80.0" lengthAdjust="spacingAndGlyphs" stroke="#000" stroke-width="0.55">Treatment</text>
<path d="M1481.1 877.6V905.1M1477.1 877.6h8M1477.1 905.1h8M1531.6 875.2V890.4M1527.6 875.2h8M1527.6 890.4h8M1582.1 868.1V890.4M1578.1 868.1h8M1578.1 890.4h8M1632.6 877.6V900.2M1628.6 877.6h8M1628.6 900.2h8M1683.1 782.3V830.0M1679.1 782.3h8M1679.1 830.0h8M1430.6 863.6V909.2M1426.6 863.6h8M1426.6 909.2h8M1481.1 896.5V911.5M1477.1 896.5h8M1477.1 911.5h8M1582.1 902.0V912.5M1578.1 902.0h8M1578.1 912.5h8" stroke="#7a7a7a" stroke-width="2" fill="none"/>
<polyline points="1430.6,886.5 1481.1,891.3 1531.6,882.9 1582.1,878.8 1632.6,888.6 1683.1,806.8" fill="none" stroke="#1c1c1c" stroke-width="2.0" stroke-linejoin="round"/>
<rect x="1427.0" y="882.9" width="7.2" height="7.2" fill="#000"/>
<rect x="1477.5" y="887.7" width="7.2" height="7.2" fill="#000"/>
<rect x="1528.0" y="879.3" width="7.2" height="7.2" fill="#000"/>
<rect x="1578.5" y="875.2" width="7.2" height="7.2" fill="#000"/>
<rect x="1629.0" y="885.0" width="7.2" height="7.2" fill="#000"/>
<rect x="1679.5" y="803.2" width="7.2" height="7.2" fill="#000"/>
<polyline points="1430.6,886.5 1481.1,903.8 1531.6,908.3 1582.1,907.4 1632.6,912.2 1683.1,911.0" fill="none" stroke="#ee1c2c" stroke-width="2.4" stroke-dasharray="9 6.5" stroke-linejoin="round"/>
<circle cx="1430.6" cy="886.5" r="3.8" fill="#ff0000"/>
<circle cx="1481.1" cy="903.8" r="3.8" fill="#ff0000"/>
<circle cx="1531.6" cy="908.3" r="3.8" fill="#ff0000"/>
<circle cx="1582.1" cy="907.4" r="3.8" fill="#ff0000"/>
<circle cx="1632.6" cy="912.2" r="3.8" fill="#ff0000"/>
<circle cx="1683.1" cy="911.0" r="3.8" fill="#ff0000"/>
<g stroke="#1f5f84" stroke-width="2.8" fill="none">
<line x1="1797.4" y1="776.5" x2="1797.4" y2="920.0"/>
<line x1="1796.0" y1="918.6" x2="2089.3" y2="918.6"/>
</g>
<path d="M1792.4 777.5H1797.4M1792.4 824.5H1797.4M1792.4 871.6H1797.4M1792.4 918.6H1797.4M1797.4 918.6V923.6M1845.9 918.6V923.6M1894.4 918.6V923.6M1942.9 918.6V923.6M1991.3 918.6V923.6M2039.8 918.6V923.6M2088.3 918.6V923.6" stroke="#1a2333" stroke-width="2.6" fill="none"/>
<text x="1743.0" y="781.5" font-family='"Liberation Serif", serif' font-size="12.0" font-weight="bold" fill="#000" text-anchor="start" textLength="40.9" lengthAdjust="spacingAndGlyphs" stroke="#000" stroke-width="0.55">0.012</text>
<text x="1743.0" y="828.5" font-family='"Liberation Serif", serif' font-size="12.0" font-weight="bold" fill="#000" text-anchor="start" textLength="40.9" lengthAdjust="spacingAndGlyphs" stroke="#000" stroke-width="0.55">0.008</text>
<text x="1743.0" y="875.6" font-family='"Liberation Serif", serif' font-size="12.0" font-weight="bold" fill="#000" text-anchor="start" textLength="40.9" lengthAdjust="spacingAndGlyphs" stroke="#000" stroke-width="0.55">0.004</text>
<text x="1774.8" y="922.6" font-family='"Liberation Serif", serif' font-size="12.0" font-weight="bold" fill="#000" text-anchor="start" textLength="9.1" lengthAdjust="spacingAndGlyphs" stroke="#000" stroke-width="0.55">0</text>
<text x="1813.3" y="941.4" font-family='"Liberation Serif", serif' font-size="11.5" font-weight="bold" fill="#000" text-anchor="start" textLength="16.8" lengthAdjust="spacingAndGlyphs" stroke="#000" stroke-width="0.50">0d</text>
<text x="1861.7" y="941.4" font-family='"Liberation Serif", serif' font-size="11.5" font-weight="bold" fill="#000" text-anchor="start" textLength="16.8" lengthAdjust="spacingAndGlyphs" stroke="#000" stroke-width="0.50">3d</text>
<text x="1910.2" y="941.4" font-family='"Liberation Serif", serif' font-size="11.5" font-weight="bold" fill="#000" text-anchor="start" textLength="16.8" lengthAdjust="spacingAndGlyphs" stroke="#000" stroke-width="0.50">6d</text>
<text x="1954.7" y="941.4" font-family='"Liberation Serif", serif' font-size="11.5" font-weight="bold" fill="#000" text-anchor="start" textLength="24.7" lengthAdjust="spacingAndGlyphs" stroke="#000" stroke-width="0.50">12d</text>
<text x="2003.2" y="941.4" font-family='"Liberation Serif", serif' font-size="11.5" font-weight="bold" fill="#000" text-anchor="start" textLength="24.7" lengthAdjust="spacingAndGlyphs" stroke="#000" stroke-width="0.50">18d</text>
<text x="2051.7" y="941.4" font-family='"Liberation Serif", serif' font-size="11.5" font-weight="bold" fill="#000" text-anchor="start" textLength="24.7" lengthAdjust="spacingAndGlyphs" stroke="#000" stroke-width="0.50">24d</text>
<text x="1921.4" y="953.4" font-family='"Liberation Serif", serif' font-size="14.0" font-weight="bold" fill="#000" text-anchor="start" textLength="47.0" lengthAdjust="spacingAndGlyphs" stroke="#000" stroke-width="0.45">Time</text>
<text transform="translate(1734.5,897.7) rotate(-90)" font-family='"Liberation Serif", serif' font-size="23.1" font-weight="bold" stroke="#000" stroke-width="0.55" textLength="109.2" lengthAdjust="spacingAndGlyphs">Relative Intensity</text>
<text x="1871.6" y="768.0" font-family='"Liberation Sans", sans-serif' font-size="13.6" font-weight="bold" fill="#000" text-anchor="start" textLength="179.4" lengthAdjust="spacingAndGlyphs" stroke="#000" stroke-width="0.60">Tryptophan (ESI-)</text>
<line x1="1806.3" y1="785.9" x2="1852.7" y2="785.9" stroke="#1c1c1c" stroke-width="2.0"/>
<rect x="1826.2" y="782.6" width="6.6" height="6.6" fill="#000"/>
<path d="M1806.3 803.8h9.0M1843.7 803.8h9.0" stroke="#ee1c2c" stroke-width="2.4" fill="none"/>
<circle cx="1829.5" cy="803.8" r="3.8" fill="#ff0000"/>
<text x="1858.1" y="790.9" font-family='"Liberation Serif", serif' font-size="13.5" font-weight="bold" fill="#000" text-anchor="start" textLength="59.5" lengthAdjust="spacingAndGlyphs" stroke="#000" stroke-width="0.55">Control</text>
<text x="1859.0" y="809.1" font-family='"Liberation Serif", serif' font-size="13.5" font-weight="bold" fill="#000" text-anchor="start" textLength="80.0" lengthAdjust="spacingAndGlyphs" stroke="#000" stroke-width="0.55">Treatment</text>
<path d="M1821.6 869.0V894.9M1817.6 869.0h8M1817.6 894.9h8M1870.1 865.4V911.0M1866.1 865.4h8M1866.1 911.0h8M1918.6 877.0V889.5M1914.6 877.0h8M1914.6 889.5h8M1967.1 873.4V891.8M1963.1 873.4h8M1963.1 891.8h8M2015.6 879.0V899.0M2011.6 879.0h8M2011.6 899.0h8M2064.1 808.2V844.0M2060.1 808.2h8M2060.1 844.0h8M1870.1 878.0V900.0M1866.1 878.0h8M1866.1 900.0h8M1967.1 895.0V905.5M1963.1 895.0h8M1963.1 905.5h8M2015.6 896.1V907.4M2011.6 896.1h8M2011.6 907.4h8" stroke="#7a7a7a" stroke-width="2" fill="none"/>
<polyline points="1821.6,882.4 1870.1,890.4 1918.6,883.3 1967.1,882.9 2015.6,889.0 2064.1,826.5" fill="none" stroke="#1c1c1c" stroke-width="2.0" stroke-linejoin="round"/>
<rect x="1818.0" y="878.8" width="7.2" height="7.2" fill="#000"/>
<rect x="1866.5" y="886.8" width="7.2" height="7.2" fill="#000"/>
<rect x="1915.0" y="879.7" width="7.2" height="7.2" fill="#000"/>
<rect x="1963.5" y="879.3" width="7.2" height="7.2" fill="#000"/>
<rect x="2012.0" y="885.4" width="7.2" height="7.2" fill="#000"/>
<rect x="2060.5" y="822.9" width="7.2" height="7.2" fill="#000"/>
<polyline points="1821.6,882.4 1870.1,889.0 1918.6,906.1 1967.1,900.2 2015.6,901.5 2064.1,902.9" fill="none" stroke="#ee1c2c" stroke-width="2.4" stroke-dasharray="9 6.5" stroke-linejoin="round"/>
<circle cx="1821.6" cy="882.4" r="3.8" fill="#ff0000"/>
<circle cx="1870.1" cy="889.0" r="3.8" fill="#ff0000"/>
<circle cx="1918.6" cy="906.1" r="3.8" fill="#ff0000"/>
<circle cx="1967.1" cy="900.2" r="3.8" fill="#ff0000"/>
<circle cx="2015.6" cy="901.5" r="3.8" fill="#ff0000"/>
<circle cx="2064.1" cy="902.9" r="3.8" fill="#ff0000"/>
<g stroke="#1f5f84" stroke-width="2.8" fill="none">
<line x1="1230.2" y1="1027.8" x2="1230.2" y2="1178.5"/>
<line x1="1228.8" y1="1177.1" x2="1527.5" y2="1177.1"/>
</g>
<path d="M1225.2 1028.8H1230.2M1225.2 1065.9H1230.2M1225.2 1103.0H1230.2M1225.2 1140.0H1230.2M1225.2 1177.1H1230.2M1230.2 1177.1V1182.1M1279.6 1177.1V1182.1M1329.0 1177.1V1182.1M1378.3 1177.1V1182.1M1427.7 1177.1V1182.1M1477.1 1177.1V1182.1M1526.5 1177.1V1182.1" stroke="#1a2333" stroke-width="2.6" fill="none"/>
<text x="1184.9" y="1032.8" font-family='"Liberation Serif", serif' font-size="12.0" font-weight="bold" fill="#000" text-anchor="start" textLength="31.8" lengthAdjust="spacingAndGlyphs" stroke="#000" stroke-width="0.55">0.04</text>
<text x="1184.9" y="1069.9" font-family='"Liberation Serif", serif' font-size="12.0" font-weight="bold" fill="#000" text-anchor="start" textLength="31.8" lengthAdjust="spacingAndGlyphs" stroke="#000" stroke-width="0.55">0.03</text>
<text x="1184.9" y="1107.0" font-family='"Liberation Serif", serif' font-size="12.0" font-weight="bold" fill="#000" text-anchor="start" textLength="31.8" lengthAdjust="spacingAndGlyphs" stroke="#000" stroke-width="0.55">0.02</text>
<text x="1184.9" y="1144.0" font-family='"Liberation Serif", serif' font-size="12.0" font-weight="bold" fill="#000" text-anchor="start" textLength="31.8" lengthAdjust="spacingAndGlyphs" stroke="#000" stroke-width="0.55">0.01</text>
<text x="1207.6" y="1181.1" font-family='"Liberation Serif", serif' font-size="12.0" font-weight="bold" fill="#000" text-anchor="start" textLength="9.1" lengthAdjust="spacingAndGlyphs" stroke="#000" stroke-width="0.55">0</text>
<text x="1246.5" y="1199.9" font-family='"Liberation Serif", serif' font-size="11.5" font-weight="bold" fill="#000" text-anchor="start" textLength="16.8" lengthAdjust="spacingAndGlyphs" stroke="#000" stroke-width="0.50">0d</text>
<text x="1295.9" y="1199.9" font-family='"Liberation Serif", serif' font-size="11.5" font-weight="bold" fill="#000" text-anchor="start" textLength="16.8" lengthAdjust="spacingAndGlyphs" stroke="#000" stroke-width="0.50">3d</text>
<text x="1345.3" y="1199.9" font-family='"Liberation Serif", serif' font-size="11.5" font-weight="bold" fill="#000" text-anchor="start" textLength="16.8" lengthAdjust="spacingAndGlyphs" stroke="#000" stroke-width="0.50">6d</text>
<text x="1390.7" y="1199.9" font-family='"Liberation Serif", serif' font-size="11.5" font-weight="bold" fill="#000" text-anchor="start" textLength="24.7" lengthAdjust="spacingAndGlyphs" stroke="#000" stroke-width="0.50">12d</text>
<text x="1440.1" y="1199.9" font-family='"Liberation Serif", serif' font-size="11.5" font-weight="bold" fill="#000" text-anchor="start" textLength="24.7" lengthAdjust="spacingAndGlyphs" stroke="#000" stroke-width="0.50">18d</text>
<text x="1489.5" y="1199.9" font-family='"Liberation Serif", serif' font-size="11.5" font-weight="bold" fill="#000" text-anchor="start" textLength="24.7" lengthAdjust="spacingAndGlyphs" stroke="#000" stroke-width="0.50">24d</text>
<text x="1356.8" y="1212.4" font-family='"Liberation Serif", serif' font-size="14.0" font-weight="bold" fill="#000" text-anchor="start" textLength="47.0" lengthAdjust="spacingAndGlyphs" stroke="#000" stroke-width="0.45">Time</text>
<text transform="translate(1180.8,1155.7) rotate(-90)" font-family='"Liberation Serif", serif' font-size="23.3" font-weight="bold" stroke="#000" stroke-width="0.55" textLength="113.6" lengthAdjust="spacingAndGlyphs">Relative Intensity</text>
<text x="1213.2" y="1019.8" font-family='"Liberation Sans", sans-serif' font-size="14.4" font-weight="bold" fill="#000" text-anchor="start" textLength="333.8" lengthAdjust="spacingAndGlyphs" stroke="#000" stroke-width="0.60">3-(3,4-Dihydroxyphenyl)-pyruvate</text>
<line x1="1238.3" y1="1038.1" x2="1283.8" y2="1038.1" stroke="#1c1c1c" stroke-width="2.0"/>
<rect x="1257.8" y="1034.8" width="6.6" height="6.6" fill="#000"/>
<path d="M1238.3 1057.4h9.0M1274.8 1057.4h9.0" stroke="#ee1c2c" stroke-width="2.4" fill="none"/>
<circle cx="1261.0" cy="1057.4" r="3.8" fill="#ff0000"/>
<text x="1290.1" y="1043.1" font-family='"Liberation Serif", serif' font-size="13.5" font-weight="bold" fill="#000" text-anchor="start" textLength="59.5" lengthAdjust="spacingAndGlyphs" stroke="#000" stroke-width="0.55">Control</text>
<text x="1291.0" y="1062.7" font-family='"Liberation Serif", serif' font-size="13.5" font-weight="bold" fill="#000" text-anchor="start" textLength="80.0" lengthAdjust="spacingAndGlyphs" stroke="#000" stroke-width="0.55">Treatment</text>
<path d="M1304.3 1114.5V1132.4M1300.3 1114.5h8M1300.3 1132.4h8M1353.7 1102.6V1117.2M1349.7 1102.6h8M1349.7 1117.2h8M1403.0 1104.4V1117.2M1399.0 1104.4h8M1399.0 1117.2h8M1452.4 1074.3V1099.3M1448.4 1074.3h8M1448.4 1099.3h8M1501.8 1077.9V1091.3M1497.8 1077.9h8M1497.8 1091.3h8M1254.9 1072.6V1115.1M1250.9 1072.6h8M1250.9 1115.1h8M1304.3 1077.9V1115.4M1300.3 1077.9h8M1300.3 1115.4h8M1353.7 1102.9V1128.8M1349.7 1102.9h8M1349.7 1128.8h8M1403.0 1115.4V1132.4M1399.0 1115.4h8M1399.0 1132.4h8M1452.4 1107.4V1125.3M1448.4 1107.4h8M1448.4 1125.3h8M1501.8 1102.6V1121.7M1497.8 1102.6h8M1497.8 1121.7h8" stroke="#7a7a7a" stroke-width="2" fill="none"/>
<polyline points="1254.9,1093.1 1304.3,1122.9 1353.7,1110.1 1403.0,1111.0 1452.4,1087.2 1501.8,1084.7" fill="none" stroke="#1c1c1c" stroke-width="2.0" stroke-linejoin="round"/>
<rect x="1251.3" y="1089.5" width="7.2" height="7.2" fill="#000"/>
<rect x="1300.7" y="1119.3" width="7.2" height="7.2" fill="#000"/>
<rect x="1350.1" y="1106.5" width="7.2" height="7.2" fill="#000"/>
<rect x="1399.4" y="1107.4" width="7.2" height="7.2" fill="#000"/>
<rect x="1448.8" y="1083.6" width="7.2" height="7.2" fill="#000"/>
<rect x="1498.2" y="1081.1" width="7.2" height="7.2" fill="#000"/>
<polyline points="1254.9,1093.1 1304.3,1098.5 1353.7,1116.3 1403.0,1124.0 1452.4,1115.1 1501.8,1112.2" fill="none" stroke="#ee1c2c" stroke-width="2.4" stroke-dasharray="9 6.5" stroke-linejoin="round"/>
<circle cx="1254.9" cy="1093.1" r="3.8" fill="#ff0000"/>
<circle cx="1304.3" cy="1098.5" r="3.8" fill="#ff0000"/>
<circle cx="1353.7" cy="1116.3" r="3.8" fill="#ff0000"/>
<circle cx="1403.0" cy="1124.0" r="3.8" fill="#ff0000"/>
<circle cx="1452.4" cy="1115.1" r="3.8" fill="#ff0000"/>
<circle cx="1501.8" cy="1112.2" r="3.8" fill="#ff0000"/>
<g stroke="#1f5f84" stroke-width="2.8" fill="none">
<line x1="1592.2" y1="1027.8" x2="1592.2" y2="1175.8"/>
<line x1="1590.8" y1="1174.4" x2="1888.5" y2="1174.4"/>
</g>
<path d="M1587.2 1040.0H1592.2M1587.2 1073.6H1592.2M1587.2 1107.2H1592.2M1587.2 1140.8H1592.2M1587.2 1174.4H1592.2M1592.2 1174.4V1179.4M1641.4 1174.4V1179.4M1690.6 1174.4V1179.4M1739.8 1174.4V1179.4M1789.1 1174.4V1179.4M1838.3 1174.4V1179.4M1887.5 1174.4V1179.4" stroke="#1a2333" stroke-width="2.6" fill="none"/>
<text x="1546.9" y="1044.0" font-family='"Liberation Serif", serif' font-size="12.0" font-weight="bold" fill="#000" text-anchor="start" textLength="31.8" lengthAdjust="spacingAndGlyphs" stroke="#000" stroke-width="0.55">0.12</text>
<text x="1546.9" y="1077.6" font-family='"Liberation Serif", serif' font-size="12.0" font-weight="bold" fill="#000" text-anchor="start" textLength="31.8" lengthAdjust="spacingAndGlyphs" stroke="#000" stroke-width="0.55">0.09</text>
<text x="1546.9" y="1111.2" font-family='"Liberation Serif", serif' font-size="12.0" font-weight="bold" fill="#000" text-anchor="start" textLength="31.8" lengthAdjust="spacingAndGlyphs" stroke="#000" stroke-width="0.55">0.06</text>
<text x="1546.9" y="1144.8" font-family='"Liberation Serif", serif' font-size="12.0" font-weight="bold" fill="#000" text-anchor="start" textLength="31.8" lengthAdjust="spacingAndGlyphs" stroke="#000" stroke-width="0.55">0.03</text>
<text x="1569.6" y="1178.4" font-family='"Liberation Serif", serif' font-size="12.0" font-weight="bold" fill="#000" text-anchor="start" textLength="9.1" lengthAdjust="spacingAndGlyphs" stroke="#000" stroke-width="0.55">0</text>
<text x="1608.4" y="1197.2" font-family='"Liberation Serif", serif' font-size="11.5" font-weight="bold" fill="#000" text-anchor="start" textLength="16.8" lengthAdjust="spacingAndGlyphs" stroke="#000" stroke-width="0.50">0d</text>
<text x="1657.6" y="1197.2" font-family='"Liberation Serif", serif' font-size="11.5" font-weight="bold" fill="#000" text-anchor="start" textLength="16.8" lengthAdjust="spacingAndGlyphs" stroke="#000" stroke-width="0.50">3d</text>
<text x="1706.9" y="1197.2" font-family='"Liberation Serif", serif' font-size="11.5" font-weight="bold" fill="#000" text-anchor="start" textLength="16.8" lengthAdjust="spacingAndGlyphs" stroke="#000" stroke-width="0.50">6d</text>
<text x="1752.1" y="1197.2" font-family='"Liberation Serif", serif' font-size="11.5" font-weight="bold" fill="#000" text-anchor="start" textLength="24.7" lengthAdjust="spacingAndGlyphs" stroke="#000" stroke-width="0.50">12d</text>
<text x="1801.3" y="1197.2" font-family='"Liberation Serif", serif' font-size="11.5" font-weight="bold" fill="#000" text-anchor="start" textLength="24.7" lengthAdjust="spacingAndGlyphs" stroke="#000" stroke-width="0.50">18d</text>
<text x="1850.5" y="1197.2" font-family='"Liberation Serif", serif' font-size="11.5" font-weight="bold" fill="#000" text-anchor="start" textLength="24.7" lengthAdjust="spacingAndGlyphs" stroke="#000" stroke-width="0.50">24d</text>
<text x="1718.3" y="1209.7" font-family='"Liberation Serif", serif' font-size="14.0" font-weight="bold" fill="#000" text-anchor="start" textLength="47.0" lengthAdjust="spacingAndGlyphs" stroke="#000" stroke-width="0.45">Time</text>
<text transform="translate(1544.0,1153.9) rotate(-90)" font-family='"Liberation Serif", serif' font-size="23.3" font-weight="bold" stroke="#000" stroke-width="0.55" textLength="111.8" lengthAdjust="spacingAndGlyphs">Relative Intensity</text>
<text x="1697.1" y="1020.7" font-family='"Liberation Sans", sans-serif' font-size="14.4" font-weight="bold" fill="#000" text-anchor="start" textLength="91.1" lengthAdjust="spacingAndGlyphs" stroke="#000" stroke-width="0.60">Thiamine</text>
<line x1="1600.1" y1="1037.7" x2="1644.4" y2="1037.7" stroke="#1c1c1c" stroke-width="2.0"/>
<rect x="1619.0" y="1034.4" width="6.6" height="6.6" fill="#000"/>
<path d="M1600.1 1056.5h9.0M1635.4 1056.5h9.0" stroke="#ee1c2c" stroke-width="2.4" fill="none"/>
<circle cx="1622.2" cy="1056.5" r="3.8" fill="#ff0000"/>
<text x="1651.5" y="1042.7" font-family='"Liberation Serif", serif' font-size="13.5" font-weight="bold" fill="#000" text-anchor="start" textLength="59.5" lengthAdjust="spacingAndGlyphs" stroke="#000" stroke-width="0.55">Control</text>
<text x="1652.4" y="1061.8" font-family='"Liberation Serif", serif' font-size="13.5" font-weight="bold" fill="#000" text-anchor="start" textLength="80.0" lengthAdjust="spacingAndGlyphs" stroke="#000" stroke-width="0.55">Treatment</text>
<path d="M1666.0 1095.4V1132.9M1662.0 1095.4h8M1662.0 1132.9h8M1715.2 1097.6V1121.7M1711.2 1097.6h8M1711.2 1121.7h8M1764.5 1104.4V1126.5M1760.5 1104.4h8M1760.5 1126.5h8M1813.7 1136.5V1158.3M1809.7 1136.5h8M1809.7 1158.3h8M1862.9 1055.6V1095.4M1858.9 1055.6h8M1858.9 1095.4h8M1616.8 1097.6V1162.8M1612.8 1097.6h8M1612.8 1162.8h8M1666.0 1095.4V1164.0M1662.0 1095.4h8M1662.0 1164.0h8M1715.2 1106.5V1148.5M1711.2 1106.5h8M1711.2 1148.5h8M1764.5 1146.7V1160.4M1760.5 1146.7h8M1760.5 1160.4h8M1862.9 1143.1V1158.3M1858.9 1143.1h8M1858.9 1158.3h8" stroke="#7a7a7a" stroke-width="2" fill="none"/>
<polyline points="1616.8,1129.7 1666.0,1114.0 1715.2,1109.7 1764.5,1115.1 1813.7,1147.6 1862.9,1075.2" fill="none" stroke="#1c1c1c" stroke-width="2.0" stroke-linejoin="round"/>
<rect x="1613.2" y="1126.1" width="7.2" height="7.2" fill="#000"/>
<rect x="1662.4" y="1110.4" width="7.2" height="7.2" fill="#000"/>
<rect x="1711.6" y="1106.1" width="7.2" height="7.2" fill="#000"/>
<rect x="1760.9" y="1111.5" width="7.2" height="7.2" fill="#000"/>
<rect x="1810.1" y="1144.0" width="7.2" height="7.2" fill="#000"/>
<rect x="1859.3" y="1071.6" width="7.2" height="7.2" fill="#000"/>
<polyline points="1616.8,1130.6 1666.0,1139.5 1715.2,1127.6 1764.5,1153.3 1813.7,1165.8 1862.9,1150.8" fill="none" stroke="#ee1c2c" stroke-width="2.4" stroke-dasharray="9 6.5" stroke-linejoin="round"/>
<circle cx="1616.8" cy="1130.6" r="3.8" fill="#ff0000"/>
<circle cx="1666.0" cy="1139.5" r="3.8" fill="#ff0000"/>
<circle cx="1715.2" cy="1127.6" r="3.8" fill="#ff0000"/>
<circle cx="1764.5" cy="1153.3" r="3.8" fill="#ff0000"/>
<circle cx="1813.7" cy="1165.8" r="3.8" fill="#ff0000"/>
<circle cx="1862.9" cy="1150.8" r="3.8" fill="#ff0000"/>
<g stroke="#1f5f84" stroke-width="2.8" fill="none">
<line x1="1952.0" y1="1029.0" x2="1952.0" y2="1177.9"/>
<line x1="1950.6" y1="1176.5" x2="2250.0" y2="1176.5"/>
</g>
<path d="M1947.0 1030.0H1952.0M1947.0 1078.8H1952.0M1947.0 1127.7H1952.0M1947.0 1176.5H1952.0M1952.0 1176.5V1181.5M2001.5 1176.5V1181.5M2051.0 1176.5V1181.5M2100.5 1176.5V1181.5M2150.0 1176.5V1181.5M2199.5 1176.5V1181.5M2249.0 1176.5V1181.5" stroke="#1a2333" stroke-width="2.6" fill="none"/>
<text x="1906.7" y="1034.0" font-family='"Liberation Serif", serif' font-size="12.0" font-weight="bold" fill="#000" text-anchor="start" textLength="31.8" lengthAdjust="spacingAndGlyphs" stroke="#000" stroke-width="0.55">0.09</text>
<text x="1906.7" y="1082.8" font-family='"Liberation Serif", serif' font-size="12.0" font-weight="bold" fill="#000" text-anchor="start" textLength="31.8" lengthAdjust="spacingAndGlyphs" stroke="#000" stroke-width="0.55">0.06</text>
<text x="1906.7" y="1131.7" font-family='"Liberation Serif", serif' font-size="12.0" font-weight="bold" fill="#000" text-anchor="start" textLength="31.8" lengthAdjust="spacingAndGlyphs" stroke="#000" stroke-width="0.55">0.03</text>
<text x="1929.4" y="1180.5" font-family='"Liberation Serif", serif' font-size="12.0" font-weight="bold" fill="#000" text-anchor="start" textLength="9.1" lengthAdjust="spacingAndGlyphs" stroke="#000" stroke-width="0.55">0</text>
<text x="1968.4" y="1199.3" font-family='"Liberation Serif", serif' font-size="11.5" font-weight="bold" fill="#000" text-anchor="start" textLength="16.8" lengthAdjust="spacingAndGlyphs" stroke="#000" stroke-width="0.50">0d</text>
<text x="2017.9" y="1199.3" font-family='"Liberation Serif", serif' font-size="11.5" font-weight="bold" fill="#000" text-anchor="start" textLength="16.8" lengthAdjust="spacingAndGlyphs" stroke="#000" stroke-width="0.50">3d</text>
<text x="2067.4" y="1199.3" font-family='"Liberation Serif", serif' font-size="11.5" font-weight="bold" fill="#000" text-anchor="start" textLength="16.8" lengthAdjust="spacingAndGlyphs" stroke="#000" stroke-width="0.50">6d</text>
<text x="2112.9" y="1199.3" font-family='"Liberation Serif", serif' font-size="11.5" font-weight="bold" fill="#000" text-anchor="start" textLength="24.7" lengthAdjust="spacingAndGlyphs" stroke="#000" stroke-width="0.50">12d</text>
<text x="2162.4" y="1199.3" font-family='"Liberation Serif", serif' font-size="11.5" font-weight="bold" fill="#000" text-anchor="start" textLength="24.7" lengthAdjust="spacingAndGlyphs" stroke="#000" stroke-width="0.50">18d</text>
<text x="2211.9" y="1199.3" font-family='"Liberation Serif", serif' font-size="11.5" font-weight="bold" fill="#000" text-anchor="start" textLength="24.7" lengthAdjust="spacingAndGlyphs" stroke="#000" stroke-width="0.50">24d</text>
<text x="2079.0" y="1211.8" font-family='"Liberation Serif", serif' font-size="14.0" font-weight="bold" fill="#000" text-anchor="start" textLength="47.0" lengthAdjust="spacingAndGlyphs" stroke="#000" stroke-width="0.45">Time</text>
<text transform="translate(1904.3,1154.8) rotate(-90)" font-family='"Liberation Serif", serif' font-size="23.1" font-weight="bold" stroke="#000" stroke-width="0.55" textLength="112.7" lengthAdjust="spacingAndGlyphs">Relative Intensity</text>
<text x="1920.7" y="1022.5" font-family='"Liberation Sans", sans-serif' font-size="14.4" font-weight="bold" fill="#000" text-anchor="start" textLength="321.6" lengthAdjust="spacingAndGlyphs" stroke="#000" stroke-width="0.60">3-O-methylisoproterenol sulfate</text>
<line x1="1961.0" y1="1038.6" x2="2006.5" y2="1038.6" stroke="#1c1c1c" stroke-width="2.0"/>
<rect x="1980.5" y="1035.3" width="6.6" height="6.6" fill="#000"/>
<path d="M1961.0 1057.4h9.0M1997.5 1057.4h9.0" stroke="#ee1c2c" stroke-width="2.4" fill="none"/>
<circle cx="1983.8" cy="1057.4" r="3.8" fill="#ff0000"/>
<text x="2011.9" y="1043.6" font-family='"Liberation Serif", serif' font-size="13.5" font-weight="bold" fill="#000" text-anchor="start" textLength="59.5" lengthAdjust="spacingAndGlyphs" stroke="#000" stroke-width="0.55">Control</text>
<text x="2012.8" y="1062.7" font-family='"Liberation Serif", serif' font-size="13.5" font-weight="bold" fill="#000" text-anchor="start" textLength="80.0" lengthAdjust="spacingAndGlyphs" stroke="#000" stroke-width="0.55">Treatment</text>
<path d="M2026.2 1086.8V1109.2M2022.2 1086.8h8M2022.2 1109.2h8M2075.8 1085.0V1113.6M2071.8 1085.0h8M2071.8 1113.6h8M2125.2 1109.2V1128.8M2121.2 1109.2h8M2121.2 1128.8h8M2224.2 1047.9V1077.6M2220.2 1047.9h8M2220.2 1077.6h8M1976.8 1100.8V1156.9M1972.8 1100.8h8M1972.8 1156.9h8M2026.2 1095.8V1152.0M2022.2 1095.8h8M2022.2 1152.0h8M2075.8 1099.3V1128.8M2071.8 1099.3h8M2071.8 1128.8h8" stroke="#7a7a7a" stroke-width="2" fill="none"/>
<polyline points="1976.8,1127.9 2026.2,1097.9 2075.8,1099.0 2125.2,1119.4 2174.8,1149.0 2224.2,1062.7" fill="none" stroke="#1c1c1c" stroke-width="2.0" stroke-linejoin="round"/>
<rect x="1973.2" y="1124.3" width="7.2" height="7.2" fill="#000"/>
<rect x="2022.7" y="1094.3" width="7.2" height="7.2" fill="#000"/>
<rect x="2072.2" y="1095.4" width="7.2" height="7.2" fill="#000"/>
<rect x="2121.7" y="1115.8" width="7.2" height="7.2" fill="#000"/>
<rect x="2171.2" y="1145.4" width="7.2" height="7.2" fill="#000"/>
<rect x="2220.7" y="1059.1" width="7.2" height="7.2" fill="#000"/>
<polyline points="1976.8,1128.3 2026.2,1124.0 2075.8,1113.3 2125.2,1142.6 2174.8,1163.3 2224.2,1142.2" fill="none" stroke="#ee1c2c" stroke-width="2.4" stroke-dasharray="9 6.5" stroke-linejoin="round"/>
<circle cx="1976.8" cy="1128.3" r="3.8" fill="#ff0000"/>
<circle cx="2026.2" cy="1124.0" r="3.8" fill="#ff0000"/>
<circle cx="2075.8" cy="1113.3" r="3.8" fill="#ff0000"/>
<circle cx="2125.2" cy="1142.6" r="3.8" fill="#ff0000"/>
<circle cx="2174.8" cy="1163.3" r="3.8" fill="#ff0000"/>
<circle cx="2224.2" cy="1142.2" r="3.8" fill="#ff0000"/>
<g stroke="#1f5f84" stroke-width="2.8" fill="none">
<line x1="1227.2" y1="1257.1" x2="1227.2" y2="1406.0"/>
<line x1="1225.8" y1="1404.6" x2="1515.0" y2="1404.6"/>
</g>
<path d="M1222.2 1258.1H1227.2M1222.2 1294.7H1227.2M1222.2 1331.3H1227.2M1222.2 1368.0H1227.2M1222.2 1404.6H1227.2M1227.2 1404.6V1409.6M1275.0 1404.6V1409.6M1322.8 1404.6V1409.6M1370.6 1404.6V1409.6M1418.4 1404.6V1409.6M1466.2 1404.6V1409.6M1514.0 1404.6V1409.6" stroke="#1a2333" stroke-width="2.6" fill="none"/>
<text x="1181.9" y="1262.1" font-family='"Liberation Serif", serif' font-size="12.0" font-weight="bold" fill="#000" text-anchor="start" textLength="31.8" lengthAdjust="spacingAndGlyphs" stroke="#000" stroke-width="0.55">0.02</text>
<text x="1172.8" y="1298.7" font-family='"Liberation Serif", serif' font-size="12.0" font-weight="bold" fill="#000" text-anchor="start" textLength="40.9" lengthAdjust="spacingAndGlyphs" stroke="#000" stroke-width="0.55">0.015</text>
<text x="1181.9" y="1335.3" font-family='"Liberation Serif", serif' font-size="12.0" font-weight="bold" fill="#000" text-anchor="start" textLength="31.8" lengthAdjust="spacingAndGlyphs" stroke="#000" stroke-width="0.55">0.01</text>
<text x="1172.8" y="1372.0" font-family='"Liberation Serif", serif' font-size="12.0" font-weight="bold" fill="#000" text-anchor="start" textLength="40.9" lengthAdjust="spacingAndGlyphs" stroke="#000" stroke-width="0.55">0.005</text>
<text x="1204.6" y="1408.6" font-family='"Liberation Serif", serif' font-size="12.0" font-weight="bold" fill="#000" text-anchor="start" textLength="9.1" lengthAdjust="spacingAndGlyphs" stroke="#000" stroke-width="0.55">0</text>
<text x="1242.7" y="1427.4" font-family='"Liberation Serif", serif' font-size="11.5" font-weight="bold" fill="#000" text-anchor="start" textLength="16.8" lengthAdjust="spacingAndGlyphs" stroke="#000" stroke-width="0.50">0d</text>
<text x="1290.5" y="1427.4" font-family='"Liberation Serif", serif' font-size="11.5" font-weight="bold" fill="#000" text-anchor="start" textLength="16.8" lengthAdjust="spacingAndGlyphs" stroke="#000" stroke-width="0.50">3d</text>
<text x="1338.3" y="1427.4" font-family='"Liberation Serif", serif' font-size="11.5" font-weight="bold" fill="#000" text-anchor="start" textLength="16.8" lengthAdjust="spacingAndGlyphs" stroke="#000" stroke-width="0.50">6d</text>
<text x="1382.2" y="1427.4" font-family='"Liberation Serif", serif' font-size="11.5" font-weight="bold" fill="#000" text-anchor="start" textLength="24.7" lengthAdjust="spacingAndGlyphs" stroke="#000" stroke-width="0.50">12d</text>
<text x="1430.0" y="1427.4" font-family='"Liberation Serif", serif' font-size="11.5" font-weight="bold" fill="#000" text-anchor="start" textLength="24.7" lengthAdjust="spacingAndGlyphs" stroke="#000" stroke-width="0.50">18d</text>
<text x="1477.8" y="1427.4" font-family='"Liberation Serif", serif' font-size="11.5" font-weight="bold" fill="#000" text-anchor="start" textLength="24.7" lengthAdjust="spacingAndGlyphs" stroke="#000" stroke-width="0.50">24d</text>
<text x="1349.1" y="1439.9" font-family='"Liberation Serif", serif' font-size="14.0" font-weight="bold" fill="#000" text-anchor="start" textLength="47.0" lengthAdjust="spacingAndGlyphs" stroke="#000" stroke-width="0.45">Time</text>
<text transform="translate(1169.2,1383.2) rotate(-90)" font-family='"Liberation Serif", serif' font-size="23.3" font-weight="bold" stroke="#000" stroke-width="0.55" textLength="111.8" lengthAdjust="spacingAndGlyphs">Relative Intensity</text>
<text x="1226.6" y="1238.4" font-family='"Liberation Sans", sans-serif' font-size="14.4" font-weight="bold" fill="#000" text-anchor="start" textLength="291.3" lengthAdjust="spacingAndGlyphs" stroke="#000" stroke-width="0.60">3-Hydroxy-2-methylglutarate/</text>
<text x="1285.6" y="1255.4" font-family='"Liberation Sans", sans-serif' font-size="14.4" font-weight="bold" fill="#000" text-anchor="start" textLength="171.5" lengthAdjust="spacingAndGlyphs" stroke="#000" stroke-width="0.60">Mevalonolactone</text>
<line x1="1232.9" y1="1266.5" x2="1278.5" y2="1266.5" stroke="#1c1c1c" stroke-width="2.0"/>
<rect x="1252.4" y="1263.2" width="6.6" height="6.6" fill="#000"/>
<path d="M1232.9 1285.8h9.0M1269.5 1285.8h9.0" stroke="#ee1c2c" stroke-width="2.4" fill="none"/>
<circle cx="1255.7" cy="1285.8" r="3.8" fill="#ff0000"/>
<text x="1283.8" y="1271.5" font-family='"Liberation Serif", serif' font-size="13.5" font-weight="bold" fill="#000" text-anchor="start" textLength="59.5" lengthAdjust="spacingAndGlyphs" stroke="#000" stroke-width="0.55">Control</text>
<text x="1284.7" y="1291.1" font-family='"Liberation Serif", serif' font-size="13.5" font-weight="bold" fill="#000" text-anchor="start" textLength="80.0" lengthAdjust="spacingAndGlyphs" stroke="#000" stroke-width="0.55">Treatment</text>
<path d="M1298.9 1370.6V1389.7M1294.9 1370.6h8M1294.9 1389.7h8M1490.1 1324.2V1348.6M1486.1 1324.2h8M1486.1 1348.6h8M1251.1 1354.0V1398.3M1247.1 1354.0h8M1247.1 1398.3h8M1298.9 1338.5V1372.4M1294.9 1338.5h8M1294.9 1372.4h8M1346.7 1333.6V1370.6M1342.7 1333.6h8M1342.7 1370.6h8M1394.5 1351.0V1364.4M1390.5 1351.0h8M1390.5 1364.4h8M1442.3 1342.0V1361.7M1438.3 1342.0h8M1438.3 1361.7h8M1490.1 1259.0V1296.5M1486.1 1259.0h8M1486.1 1296.5h8" stroke="#7a7a7a" stroke-width="2" fill="none"/>
<polyline points="1251.1,1376.0 1298.9,1380.1 1346.7,1389.4 1394.5,1391.5 1442.3,1391.2 1490.1,1336.7" fill="none" stroke="#1c1c1c" stroke-width="2.0" stroke-linejoin="round"/>
<rect x="1247.5" y="1372.4" width="7.2" height="7.2" fill="#000"/>
<rect x="1295.3" y="1376.5" width="7.2" height="7.2" fill="#000"/>
<rect x="1343.1" y="1385.8" width="7.2" height="7.2" fill="#000"/>
<rect x="1390.9" y="1387.9" width="7.2" height="7.2" fill="#000"/>
<rect x="1438.7" y="1387.6" width="7.2" height="7.2" fill="#000"/>
<rect x="1486.5" y="1333.1" width="7.2" height="7.2" fill="#000"/>
<polyline points="1251.1,1376.0 1298.9,1355.4 1346.7,1352.2 1394.5,1358.1 1442.3,1351.9 1490.1,1277.7" fill="none" stroke="#ee1c2c" stroke-width="2.4" stroke-dasharray="9 6.5" stroke-linejoin="round"/>
<circle cx="1251.1" cy="1376.0" r="3.8" fill="#ff0000"/>
<circle cx="1298.9" cy="1355.4" r="3.8" fill="#ff0000"/>
<circle cx="1346.7" cy="1352.2" r="3.8" fill="#ff0000"/>
<circle cx="1394.5" cy="1358.1" r="3.8" fill="#ff0000"/>
<circle cx="1442.3" cy="1351.9" r="3.8" fill="#ff0000"/>
<circle cx="1490.1" cy="1277.7" r="3.8" fill="#ff0000"/>
<g stroke="#1f5f84" stroke-width="2.8" fill="none">
<line x1="1588.6" y1="1257.1" x2="1588.6" y2="1406.8"/>
<line x1="1587.2" y1="1405.4" x2="1876.5" y2="1405.4"/>
</g>
<path d="M1583.6 1273.0H1588.6M1583.6 1317.1H1588.6M1583.6 1361.2H1588.6M1583.6 1405.4H1588.6M1588.6 1405.4V1410.4M1636.4 1405.4V1410.4M1684.2 1405.4V1410.4M1732.0 1405.4V1410.4M1779.9 1405.4V1410.4M1827.7 1405.4V1410.4M1875.5 1405.4V1410.4" stroke="#1a2333" stroke-width="2.6" fill="none"/>
<text x="1534.1" y="1277.0" font-family='"Liberation Serif", serif' font-size="12.0" font-weight="bold" fill="#000" text-anchor="start" textLength="40.9" lengthAdjust="spacingAndGlyphs" stroke="#000" stroke-width="0.55">0.009</text>
<text x="1534.1" y="1321.1" font-family='"Liberation Serif", serif' font-size="12.0" font-weight="bold" fill="#000" text-anchor="start" textLength="40.9" lengthAdjust="spacingAndGlyphs" stroke="#000" stroke-width="0.55">0.006</text>
<text x="1534.1" y="1365.2" font-family='"Liberation Serif", serif' font-size="12.0" font-weight="bold" fill="#000" text-anchor="start" textLength="40.9" lengthAdjust="spacingAndGlyphs" stroke="#000" stroke-width="0.55">0.003</text>
<text x="1566.0" y="1409.4" font-family='"Liberation Serif", serif' font-size="12.0" font-weight="bold" fill="#000" text-anchor="start" textLength="9.1" lengthAdjust="spacingAndGlyphs" stroke="#000" stroke-width="0.55">0</text>
<text x="1604.1" y="1428.2" font-family='"Liberation Serif", serif' font-size="11.5" font-weight="bold" fill="#000" text-anchor="start" textLength="16.8" lengthAdjust="spacingAndGlyphs" stroke="#000" stroke-width="0.50">0d</text>
<text x="1651.9" y="1428.2" font-family='"Liberation Serif", serif' font-size="11.5" font-weight="bold" fill="#000" text-anchor="start" textLength="16.8" lengthAdjust="spacingAndGlyphs" stroke="#000" stroke-width="0.50">3d</text>
<text x="1699.8" y="1428.2" font-family='"Liberation Serif", serif' font-size="11.5" font-weight="bold" fill="#000" text-anchor="start" textLength="16.8" lengthAdjust="spacingAndGlyphs" stroke="#000" stroke-width="0.50">6d</text>
<text x="1743.6" y="1428.2" font-family='"Liberation Serif", serif' font-size="11.5" font-weight="bold" fill="#000" text-anchor="start" textLength="24.7" lengthAdjust="spacingAndGlyphs" stroke="#000" stroke-width="0.50">12d</text>
<text x="1791.4" y="1428.2" font-family='"Liberation Serif", serif' font-size="11.5" font-weight="bold" fill="#000" text-anchor="start" textLength="24.7" lengthAdjust="spacingAndGlyphs" stroke="#000" stroke-width="0.50">18d</text>
<text x="1839.2" y="1428.2" font-family='"Liberation Serif", serif' font-size="11.5" font-weight="bold" fill="#000" text-anchor="start" textLength="24.7" lengthAdjust="spacingAndGlyphs" stroke="#000" stroke-width="0.50">24d</text>
<text x="1710.5" y="1440.7" font-family='"Liberation Serif", serif' font-size="14.0" font-weight="bold" fill="#000" text-anchor="start" textLength="47.0" lengthAdjust="spacingAndGlyphs" stroke="#000" stroke-width="0.45">Time</text>
<text transform="translate(1529.8,1383.2) rotate(-90)" font-family='"Liberation Serif", serif' font-size="22.1" font-weight="bold" stroke="#000" stroke-width="0.55" textLength="112.7" lengthAdjust="spacingAndGlyphs">Relative Intensity</text>
<text x="1579.2" y="1247.9" font-family='"Liberation Sans", sans-serif' font-size="14.4" font-weight="bold" fill="#000" text-anchor="start" textLength="362.1" lengthAdjust="spacingAndGlyphs" stroke="#000" stroke-width="0.60">Dihydrogeranylgeranyl diphosphate</text>
<line x1="1594.3" y1="1267.0" x2="1639.9" y2="1267.0" stroke="#1c1c1c" stroke-width="2.0"/>
<rect x="1613.8" y="1263.7" width="6.6" height="6.6" fill="#000"/>
<path d="M1594.3 1285.8h9.0M1630.9 1285.8h9.0" stroke="#ee1c2c" stroke-width="2.4" fill="none"/>
<circle cx="1617.1" cy="1285.8" r="3.8" fill="#ff0000"/>
<text x="1646.1" y="1272.0" font-family='"Liberation Serif", serif' font-size="13.5" font-weight="bold" fill="#000" text-anchor="start" textLength="59.5" lengthAdjust="spacingAndGlyphs" stroke="#000" stroke-width="0.55">Control</text>
<text x="1647.0" y="1291.1" font-family='"Liberation Serif", serif' font-size="13.5" font-weight="bold" fill="#000" text-anchor="start" textLength="80.0" lengthAdjust="spacingAndGlyphs" stroke="#000" stroke-width="0.55">Treatment</text>
<path d="M1660.3 1314.3V1343.7M1656.3 1314.3h8M1656.3 1343.7h8M1708.1 1292.9V1332.6M1704.1 1292.9h8M1704.1 1332.6h8M1756.0 1296.5V1320.1M1752.0 1296.5h8M1752.0 1320.1h8M1803.8 1290.8V1336.7M1799.8 1290.8h8M1799.8 1336.7h8M1851.6 1294.7V1321.1M1847.6 1294.7h8M1847.6 1321.1h8M1612.5 1298.6V1367.6M1608.5 1298.6h8M1608.5 1367.6h8M1660.3 1315.0V1360.8M1656.3 1315.0h8M1656.3 1360.8h8M1708.1 1361.7V1376.0M1704.1 1361.7h8M1704.1 1376.0h8" stroke="#7a7a7a" stroke-width="2" fill="none"/>
<polyline points="1612.5,1332.6 1660.3,1329.0 1708.1,1312.6 1756.0,1308.1 1803.8,1312.9 1851.6,1307.5" fill="none" stroke="#1c1c1c" stroke-width="2.0" stroke-linejoin="round"/>
<rect x="1608.9" y="1329.0" width="7.2" height="7.2" fill="#000"/>
<rect x="1656.7" y="1325.4" width="7.2" height="7.2" fill="#000"/>
<rect x="1704.5" y="1309.0" width="7.2" height="7.2" fill="#000"/>
<rect x="1752.4" y="1304.5" width="7.2" height="7.2" fill="#000"/>
<rect x="1800.2" y="1309.3" width="7.2" height="7.2" fill="#000"/>
<rect x="1848.0" y="1303.9" width="7.2" height="7.2" fill="#000"/>
<polyline points="1612.5,1332.6 1660.3,1337.9 1708.1,1368.8 1756.0,1380.8 1803.8,1392.0 1851.6,1389.7" fill="none" stroke="#ee1c2c" stroke-width="2.4" stroke-dasharray="9 6.5" stroke-linejoin="round"/>
<circle cx="1612.5" cy="1332.6" r="3.8" fill="#ff0000"/>
<circle cx="1660.3" cy="1337.9" r="3.8" fill="#ff0000"/>
<circle cx="1708.1" cy="1368.8" r="3.8" fill="#ff0000"/>
<circle cx="1756.0" cy="1380.8" r="3.8" fill="#ff0000"/>
<circle cx="1803.8" cy="1392.0" r="3.8" fill="#ff0000"/>
<circle cx="1851.6" cy="1389.7" r="3.8" fill="#ff0000"/>
<g stroke="#1f5f84" stroke-width="2.8" fill="none">
<line x1="1952.5" y1="1260.6" x2="1952.5" y2="1408.6"/>
<line x1="1951.1" y1="1407.2" x2="2249.6" y2="1407.2"/>
</g>
<path d="M1947.5 1271.8H1952.5M1947.5 1305.7H1952.5M1947.5 1339.5H1952.5M1947.5 1373.4H1952.5M1947.5 1407.2H1952.5M1952.5 1407.2V1412.2M2001.8 1407.2V1412.2M2051.2 1407.2V1412.2M2100.6 1407.2V1412.2M2149.9 1407.2V1412.2M2199.2 1407.2V1412.2M2248.6 1407.2V1412.2" stroke="#1a2333" stroke-width="2.6" fill="none"/>
<text x="1907.2" y="1275.8" font-family='"Liberation Serif", serif' font-size="12.0" font-weight="bold" fill="#000" text-anchor="start" textLength="31.8" lengthAdjust="spacingAndGlyphs" stroke="#000" stroke-width="0.55">0.12</text>
<text x="1907.2" y="1309.7" font-family='"Liberation Serif", serif' font-size="12.0" font-weight="bold" fill="#000" text-anchor="start" textLength="31.8" lengthAdjust="spacingAndGlyphs" stroke="#000" stroke-width="0.55">0.09</text>
<text x="1907.2" y="1343.5" font-family='"Liberation Serif", serif' font-size="12.0" font-weight="bold" fill="#000" text-anchor="start" textLength="31.8" lengthAdjust="spacingAndGlyphs" stroke="#000" stroke-width="0.55">0.06</text>
<text x="1907.2" y="1377.4" font-family='"Liberation Serif", serif' font-size="12.0" font-weight="bold" fill="#000" text-anchor="start" textLength="31.8" lengthAdjust="spacingAndGlyphs" stroke="#000" stroke-width="0.55">0.03</text>
<text x="1929.9" y="1411.2" font-family='"Liberation Serif", serif' font-size="12.0" font-weight="bold" fill="#000" text-anchor="start" textLength="9.1" lengthAdjust="spacingAndGlyphs" stroke="#000" stroke-width="0.55">0</text>
<text x="1968.8" y="1430.0" font-family='"Liberation Serif", serif' font-size="11.5" font-weight="bold" fill="#000" text-anchor="start" textLength="16.8" lengthAdjust="spacingAndGlyphs" stroke="#000" stroke-width="0.50">0d</text>
<text x="2018.1" y="1430.0" font-family='"Liberation Serif", serif' font-size="11.5" font-weight="bold" fill="#000" text-anchor="start" textLength="16.8" lengthAdjust="spacingAndGlyphs" stroke="#000" stroke-width="0.50">3d</text>
<text x="2067.5" y="1430.0" font-family='"Liberation Serif", serif' font-size="11.5" font-weight="bold" fill="#000" text-anchor="start" textLength="16.8" lengthAdjust="spacingAndGlyphs" stroke="#000" stroke-width="0.50">6d</text>
<text x="2112.9" y="1430.0" font-family='"Liberation Serif", serif' font-size="11.5" font-weight="bold" fill="#000" text-anchor="start" textLength="24.7" lengthAdjust="spacingAndGlyphs" stroke="#000" stroke-width="0.50">12d</text>
<text x="2162.2" y="1430.0" font-family='"Liberation Serif", serif' font-size="11.5" font-weight="bold" fill="#000" text-anchor="start" textLength="24.7" lengthAdjust="spacingAndGlyphs" stroke="#000" stroke-width="0.50">18d</text>
<text x="2211.6" y="1430.0" font-family='"Liberation Serif", serif' font-size="11.5" font-weight="bold" fill="#000" text-anchor="start" textLength="24.7" lengthAdjust="spacingAndGlyphs" stroke="#000" stroke-width="0.50">24d</text>
<text x="2079.1" y="1442.5" font-family='"Liberation Serif", serif' font-size="14.0" font-weight="bold" fill="#000" text-anchor="start" textLength="47.0" lengthAdjust="spacingAndGlyphs" stroke="#000" stroke-width="0.45">Time</text>
<text transform="translate(1903.4,1385.9) rotate(-90)" font-family='"Liberation Serif", serif' font-size="23.1" font-weight="bold" stroke="#000" stroke-width="0.55" textLength="112.8" lengthAdjust="spacingAndGlyphs">Relative Intensity</text>
<text x="2016.3" y="1249.7" font-family='"Liberation Sans", sans-serif' font-size="14.4" font-weight="bold" fill="#000" text-anchor="start" textLength="181.4" lengthAdjust="spacingAndGlyphs" stroke="#000" stroke-width="0.60">Phytosphingosine</text>
<line x1="1961.0" y1="1269.7" x2="2005.6" y2="1269.7" stroke="#1c1c1c" stroke-width="2.0"/>
<rect x="1980.0" y="1266.4" width="6.6" height="6.6" fill="#000"/>
<path d="M1961.0 1288.4h9.0M1996.6 1288.4h9.0" stroke="#ee1c2c" stroke-width="2.4" fill="none"/>
<circle cx="1983.3" cy="1288.4" r="3.8" fill="#ff0000"/>
<text x="2011.9" y="1274.7" font-family='"Liberation Serif", serif' font-size="13.5" font-weight="bold" fill="#000" text-anchor="start" textLength="59.5" lengthAdjust="spacingAndGlyphs" stroke="#000" stroke-width="0.55">Control</text>
<text x="2012.8" y="1293.7" font-family='"Liberation Serif", serif' font-size="13.5" font-weight="bold" fill="#000" text-anchor="start" textLength="80.0" lengthAdjust="spacingAndGlyphs" stroke="#000" stroke-width="0.55">Treatment</text>
<path d="M1977.2 1317.9V1391.5M1973.2 1317.9h8M1973.2 1391.5h8M2026.5 1315.8V1394.7M2022.5 1315.8h8M2022.5 1394.7h8M2075.9 1307.2V1380.4M2071.9 1307.2h8M2071.9 1380.4h8M2125.2 1294.3V1366.1M2121.2 1294.3h8M2121.2 1366.1h8M2174.6 1292.9V1341.1M2170.6 1292.9h8M2170.6 1341.1h8M2223.9 1364.7V1384.0M2219.9 1364.7h8M2219.9 1384.0h8M2026.5 1372.9V1394.7M2022.5 1372.9h8M2022.5 1394.7h8M2125.2 1345.6V1392.9M2121.2 1345.6h8M2121.2 1392.9h8M2174.6 1364.7V1406.3M2170.6 1364.7h8M2170.6 1406.3h8M2223.9 1380.0V1400.0M2219.9 1380.0h8M2219.9 1400.0h8" stroke="#7a7a7a" stroke-width="2" fill="none"/>
<polyline points="1977.2,1355.1 2026.5,1355.4 2075.9,1343.8 2125.2,1330.1 2174.6,1316.1 2223.9,1374.7" fill="none" stroke="#1c1c1c" stroke-width="2.0" stroke-linejoin="round"/>
<rect x="1973.6" y="1351.5" width="7.2" height="7.2" fill="#000"/>
<rect x="2022.9" y="1351.8" width="7.2" height="7.2" fill="#000"/>
<rect x="2072.3" y="1340.2" width="7.2" height="7.2" fill="#000"/>
<rect x="2121.6" y="1326.5" width="7.2" height="7.2" fill="#000"/>
<rect x="2171.0" y="1312.5" width="7.2" height="7.2" fill="#000"/>
<rect x="2220.3" y="1371.1" width="7.2" height="7.2" fill="#000"/>
<polyline points="1977.2,1355.1 2026.5,1383.7 2075.9,1342.9 2125.2,1368.8 2174.6,1385.4 2223.9,1390.3" fill="none" stroke="#ee1c2c" stroke-width="2.4" stroke-dasharray="9 6.5" stroke-linejoin="round"/>
<circle cx="1977.2" cy="1355.1" r="3.8" fill="#ff0000"/>
<circle cx="2026.5" cy="1383.7" r="3.8" fill="#ff0000"/>
<circle cx="2075.9" cy="1342.9" r="3.8" fill="#ff0000"/>
<circle cx="2125.2" cy="1368.8" r="3.8" fill="#ff0000"/>
<circle cx="2174.6" cy="1385.4" r="3.8" fill="#ff0000"/>
<circle cx="2223.9" cy="1390.3" r="3.8" fill="#ff0000"/>
<g stroke="#1f5f84" stroke-width="2.8" fill="none">
<line x1="1586.8" y1="1474.7" x2="1586.8" y2="1625.1"/>
<line x1="1585.4" y1="1623.7" x2="1874.5" y2="1623.7"/>
</g>
<path d="M1581.8 1475.7H1586.8M1581.8 1525.0H1586.8M1581.8 1574.4H1586.8M1581.8 1623.7H1586.8M1586.8 1623.7V1628.7M1634.6 1623.7V1628.7M1682.4 1623.7V1628.7M1730.2 1623.7V1628.7M1777.9 1623.7V1628.7M1825.7 1623.7V1628.7M1873.5 1623.7V1628.7" stroke="#1a2333" stroke-width="2.6" fill="none"/>
<text x="1532.3" y="1479.7" font-family='"Liberation Serif", serif' font-size="12.0" font-weight="bold" fill="#000" text-anchor="start" textLength="40.9" lengthAdjust="spacingAndGlyphs" stroke="#000" stroke-width="0.55">0.015</text>
<text x="1541.5" y="1529.0" font-family='"Liberation Serif", serif' font-size="12.0" font-weight="bold" fill="#000" text-anchor="start" textLength="31.8" lengthAdjust="spacingAndGlyphs" stroke="#000" stroke-width="0.55">0.01</text>
<text x="1532.3" y="1578.4" font-family='"Liberation Serif", serif' font-size="12.0" font-weight="bold" fill="#000" text-anchor="start" textLength="40.9" lengthAdjust="spacingAndGlyphs" stroke="#000" stroke-width="0.55">0.005</text>
<text x="1564.2" y="1627.7" font-family='"Liberation Serif", serif' font-size="12.0" font-weight="bold" fill="#000" text-anchor="start" textLength="9.1" lengthAdjust="spacingAndGlyphs" stroke="#000" stroke-width="0.55">0</text>
<text x="1602.3" y="1646.5" font-family='"Liberation Serif", serif' font-size="11.5" font-weight="bold" fill="#000" text-anchor="start" textLength="16.8" lengthAdjust="spacingAndGlyphs" stroke="#000" stroke-width="0.50">0d</text>
<text x="1650.1" y="1646.5" font-family='"Liberation Serif", serif' font-size="11.5" font-weight="bold" fill="#000" text-anchor="start" textLength="16.8" lengthAdjust="spacingAndGlyphs" stroke="#000" stroke-width="0.50">3d</text>
<text x="1697.9" y="1646.5" font-family='"Liberation Serif", serif' font-size="11.5" font-weight="bold" fill="#000" text-anchor="start" textLength="16.8" lengthAdjust="spacingAndGlyphs" stroke="#000" stroke-width="0.50">6d</text>
<text x="1741.7" y="1646.5" font-family='"Liberation Serif", serif' font-size="11.5" font-weight="bold" fill="#000" text-anchor="start" textLength="24.7" lengthAdjust="spacingAndGlyphs" stroke="#000" stroke-width="0.50">12d</text>
<text x="1789.5" y="1646.5" font-family='"Liberation Serif", serif' font-size="11.5" font-weight="bold" fill="#000" text-anchor="start" textLength="24.7" lengthAdjust="spacingAndGlyphs" stroke="#000" stroke-width="0.50">18d</text>
<text x="1837.3" y="1646.5" font-family='"Liberation Serif", serif' font-size="11.5" font-weight="bold" fill="#000" text-anchor="start" textLength="24.7" lengthAdjust="spacingAndGlyphs" stroke="#000" stroke-width="0.50">24d</text>
<text x="1708.7" y="1659.0" font-family='"Liberation Serif", serif' font-size="14.0" font-weight="bold" fill="#000" text-anchor="start" textLength="47.0" lengthAdjust="spacingAndGlyphs" stroke="#000" stroke-width="0.45">Time</text>
<text transform="translate(1528.8,1601.8) rotate(-90)" font-family='"Liberation Serif", serif' font-size="23.3" font-weight="bold" stroke="#000" stroke-width="0.55" textLength="113.7" lengthAdjust="spacingAndGlyphs">Relative Intensity</text>
<text x="1601.5" y="1468.2" font-family='"Liberation Sans", sans-serif' font-size="14.4" font-weight="bold" fill="#000" text-anchor="start" textLength="243.0" lengthAdjust="spacingAndGlyphs" stroke="#000" stroke-width="0.60">Gibberellin A24/37/44/64</text>
<line x1="1586.8" y1="1484.7" x2="1630.0" y2="1484.7" stroke="#1c1c1c" stroke-width="2.0"/>
<rect x="1605.1" y="1481.4" width="6.6" height="6.6" fill="#000"/>
<path d="M1586.8 1504.0h9.0M1621.0 1504.0h9.0" stroke="#ee1c2c" stroke-width="2.4" fill="none"/>
<circle cx="1608.4" cy="1504.0" r="3.8" fill="#ff0000"/>
<text x="1637.2" y="1489.7" font-family='"Liberation Serif", serif' font-size="13.5" font-weight="bold" fill="#000" text-anchor="start" textLength="59.5" lengthAdjust="spacingAndGlyphs" stroke="#000" stroke-width="0.55">Control</text>
<text x="1638.1" y="1509.3" font-family='"Liberation Serif", serif' font-size="13.5" font-weight="bold" fill="#000" text-anchor="start" textLength="80.0" lengthAdjust="spacingAndGlyphs" stroke="#000" stroke-width="0.55">Treatment</text>
<path d="M1658.5 1558.8V1603.5M1654.5 1558.8h8M1654.5 1603.5h8M1706.3 1585.0V1596.0M1702.3 1585.0h8M1702.3 1596.0h8M1754.0 1567.7V1580.2M1750.0 1567.7h8M1750.0 1580.2h8M1801.8 1581.1V1596.9M1797.8 1581.1h8M1797.8 1596.9h8M1610.7 1584.7V1599.4M1606.7 1584.7h8M1606.7 1599.4h8M1658.5 1578.5V1605.8M1654.5 1578.5h8M1654.5 1605.8h8M1754.0 1522.2V1535.6M1750.0 1522.2h8M1750.0 1535.6h8M1801.8 1522.2V1543.3M1797.8 1522.2h8M1797.8 1543.3h8M1849.6 1526.6V1543.3M1845.6 1526.6h8M1845.6 1543.3h8" stroke="#7a7a7a" stroke-width="2" fill="none"/>
<polyline points="1610.7,1592.2 1658.5,1581.1 1706.3,1590.4 1754.0,1573.1 1801.8,1588.6 1849.6,1607.0" fill="none" stroke="#1c1c1c" stroke-width="2.0" stroke-linejoin="round"/>
<rect x="1607.1" y="1588.6" width="7.2" height="7.2" fill="#000"/>
<rect x="1654.9" y="1577.5" width="7.2" height="7.2" fill="#000"/>
<rect x="1702.7" y="1586.8" width="7.2" height="7.2" fill="#000"/>
<rect x="1750.4" y="1569.5" width="7.2" height="7.2" fill="#000"/>
<rect x="1798.2" y="1585.0" width="7.2" height="7.2" fill="#000"/>
<rect x="1846.0" y="1603.4" width="7.2" height="7.2" fill="#000"/>
<polyline points="1610.7,1592.2 1658.5,1592.2 1706.3,1552.6 1754.0,1528.8 1801.8,1532.9 1849.6,1534.7" fill="none" stroke="#ee1c2c" stroke-width="2.4" stroke-dasharray="9 6.5" stroke-linejoin="round"/>
<circle cx="1610.7" cy="1592.2" r="3.8" fill="#ff0000"/>
<circle cx="1658.5" cy="1592.2" r="3.8" fill="#ff0000"/>
<circle cx="1706.3" cy="1552.6" r="3.8" fill="#ff0000"/>
<circle cx="1754.0" cy="1528.8" r="3.8" fill="#ff0000"/>
<circle cx="1801.8" cy="1532.9" r="3.8" fill="#ff0000"/>
<circle cx="1849.6" cy="1534.7" r="3.8" fill="#ff0000"/>
</g>
</svg>
</body></html>
